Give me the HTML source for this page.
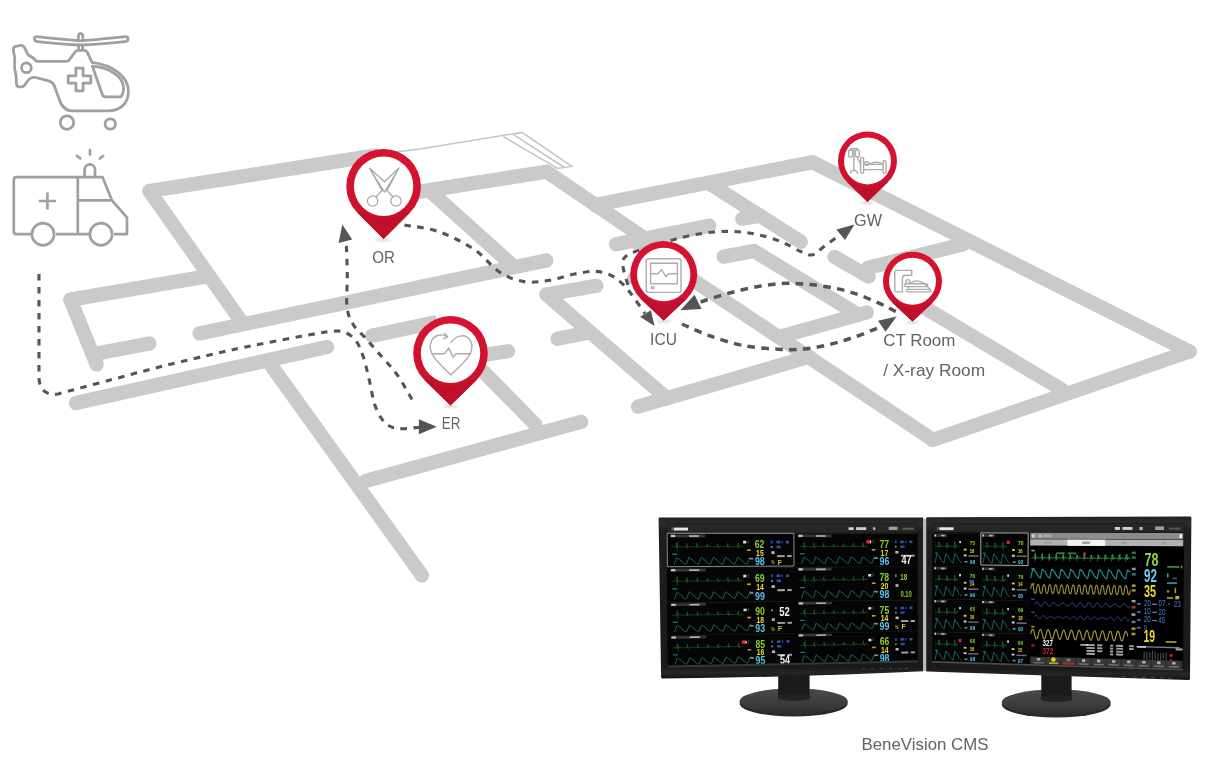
<!DOCTYPE html>
<html><head><meta charset="utf-8"><title>BeneVision CMS</title>
<style>
html,body{margin:0;padding:0;background:#fff;}
body{width:1206px;height:767px;overflow:hidden;font-family:"Liberation Sans",sans-serif;}
svg{display:block}
text{font-family:"Liberation Sans",sans-serif;}
</style></head><body>
<svg width="1206" height="767" viewBox="0 0 1206 767">
<defs>
<linearGradient id="pg" x1="0" y1="0" x2="0" y2="1"><stop offset="0" stop-color="#d61431"/><stop offset="1" stop-color="#cb102d"/></linearGradient>
<filter id="b1" x="-50%" y="-50%" width="200%" height="200%"><feGaussianBlur stdDeviation="1"/></filter>
<filter id="b05" x="-5%" y="-5%" width="110%" height="110%"><feGaussianBlur stdDeviation="0.45"/></filter>
<filter id="b03" x="-5%" y="-5%" width="110%" height="110%"><feGaussianBlur stdDeviation="0.3"/></filter>
<linearGradient id="bezg" x1="0" y1="0" x2="0" y2="1"><stop offset="0" stop-color="#222222"/><stop offset="0.04" stop-color="#2c2c2c"/><stop offset="0.09" stop-color="#1e1e1e"/><stop offset="0.93" stop-color="#1a1a1a"/><stop offset="0.965" stop-color="#262626"/><stop offset="1" stop-color="#121212"/></linearGradient>
<linearGradient id="baseg" x1="0" y1="0" x2="0" y2="1"><stop offset="0" stop-color="#4a4a4a"/><stop offset="0.6" stop-color="#3c3c3c"/><stop offset="1" stop-color="#2e2e2e"/></linearGradient>
</defs>
<rect width="{W}" height="{H}" fill="#fff"/>

<g id="walls">
<line x1="149.4" y1="191.0" x2="375.0" y2="155.5" stroke="#cacaca" stroke-width="14.3" stroke-linecap="round"/>
<line x1="149.4" y1="191.0" x2="241.4" y2="321.6" stroke="#cacaca" stroke-width="14.3" stroke-linecap="round"/>
<line x1="70.4" y1="299.6" x2="204.0" y2="276.9" stroke="#cacaca" stroke-width="14.3" stroke-linecap="round"/>
<line x1="70.4" y1="299.6" x2="96.7" y2="364.5" stroke="#cacaca" stroke-width="14.3" stroke-linecap="round"/>
<line x1="97.0" y1="353.5" x2="149.4" y2="343.4" stroke="#cacaca" stroke-width="14.3" stroke-linecap="round"/>
<line x1="199.5" y1="333.4" x2="546.3" y2="260.5" stroke="#cacaca" stroke-width="14.3" stroke-linecap="round"/>
<line x1="76.0" y1="403.1" x2="327.0" y2="347.1" stroke="#cacaca" stroke-width="14.3" stroke-linecap="round"/>
<line x1="268.7" y1="362.0" x2="421.9" y2="575.4" stroke="#cacaca" stroke-width="14.3" stroke-linecap="round"/>
<line x1="480.0" y1="355.5" x2="508.0" y2="351.2" stroke="#cacaca" stroke-width="14.3" stroke-linecap="round"/>
<line x1="467.0" y1="355.0" x2="535.1" y2="424.2" stroke="#cacaca" stroke-width="14.3" stroke-linecap="round"/>
<line x1="365.9" y1="480.8" x2="581.1" y2="421.9" stroke="#cacaca" stroke-width="14.3" stroke-linecap="round"/>
<line x1="415.0" y1="192.4" x2="546.3" y2="171.8" stroke="#cacaca" stroke-width="14.3" stroke-linecap="round"/>
<line x1="429.0" y1="190.3" x2="511.4" y2="264.4" stroke="#cacaca" stroke-width="14.3" stroke-linecap="round"/>
<line x1="546.5" y1="171.7" x2="645.0" y2="238.6" stroke="#cacaca" stroke-width="14.3" stroke-linecap="round"/>
<line x1="633.0" y1="240.0" x2="932.6" y2="439.6" stroke="#cacaca" stroke-width="14.3" stroke-linecap="round"/>
<line x1="594.9" y1="205.0" x2="812.4" y2="162.2" stroke="#cacaca" stroke-width="14.3" stroke-linecap="round"/>
<line x1="812.4" y1="162.2" x2="1189.6" y2="351.6" stroke="#cacaca" stroke-width="14.3" stroke-linecap="round"/>
<line x1="932.6" y1="440.0" x2="1189.6" y2="351.6" stroke="#cacaca" stroke-width="14.3" stroke-linecap="round"/>
<line x1="709.0" y1="183.3" x2="800.8" y2="241.8" stroke="#cacaca" stroke-width="14.3" stroke-linecap="round"/>
<line x1="742.3" y1="218.8" x2="760.0" y2="215.7" stroke="#cacaca" stroke-width="14.3" stroke-linecap="round"/>
<line x1="616.0" y1="244.3" x2="709.3" y2="225.7" stroke="#cacaca" stroke-width="14.3" stroke-linecap="round"/>
<polyline points="723.6,256.6 754.0,251.0 858.5,314.8" fill="none" stroke="#cacaca" stroke-width="14.3" stroke-linecap="round" stroke-linejoin="round"/>
<line x1="866.8" y1="312.4" x2="780.3" y2="336.6" stroke="#cacaca" stroke-width="14.3" stroke-linecap="round"/>
<line x1="834.5" y1="256.8" x2="868.5" y2="276.7" stroke="#cacaca" stroke-width="14.3" stroke-linecap="round"/>
<line x1="963.0" y1="244.4" x2="868.0" y2="267.8" stroke="#cacaca" stroke-width="14.3" stroke-linecap="round"/>
<line x1="900.0" y1="293.0" x2="1061.5" y2="389.4" stroke="#cacaca" stroke-width="14.3" stroke-linecap="round"/>
<line x1="546.5" y1="294.5" x2="596.5" y2="285.8" stroke="#cacaca" stroke-width="14.3" stroke-linecap="round"/>
<line x1="546.5" y1="294.5" x2="667.0" y2="398.4" stroke="#cacaca" stroke-width="14.3" stroke-linecap="round"/>
<line x1="557.5" y1="338.8" x2="590.0" y2="332.3" stroke="#cacaca" stroke-width="14.3" stroke-linecap="round"/>
<line x1="638.0" y1="406.7" x2="809.5" y2="356.7" stroke="#cacaca" stroke-width="14.3" stroke-linecap="round"/>
<line x1="372.0" y1="335.7" x2="437.0" y2="321.9" stroke="#cacaca" stroke-width="14.3" stroke-linecap="butt"/>
<circle cx="372" cy="335.7" r="7.15" fill="#cacaca"/>
<circle cx="634.3" cy="278" r="7" fill="#cacaca"/>
<g fill="none" stroke="#c4c4c4" stroke-width="1.5">
<path d="M375,154.6 L420,149 L522,132.4 L571.7,166.4 L557.6,168.5 L502.9,136.3"/>
<path d="M513.2,134.4 L564.4,167.5"/>
</g>
</g>
<g id="heli" fill="none" stroke="#a0a0a0" stroke-width="2.8" stroke-linecap="round" stroke-linejoin="round">
<path d="M80.6,40.8 C66,39.6 50,38.2 37.2,36.6 C33.5,36.2 33.5,41.2 37.2,41.6 C52,43.2 68,44.6 80.6,45 C94,44.6 110,43.2 125.2,41.6 C129,41.2 129,36.2 125.2,36.6 C112,38.2 95,39.6 80.6,40.8 Z"/>
<path d="M78.4,40.6 L78.4,35 Q80.6,32 82.8,35 L82.8,40.6"/>
<path d="M78.6,45.2 L78.6,49.6 M82.6,45.2 L82.6,49.6"/>
<path d="M36.5,61.3 L66.5,61.3 Q68.2,61.3 69.2,60 L75,52.2 Q76.4,50.4 78.6,50.4 L84,50.4 Q86.4,50.4 87.4,52.6 L92,62.4 C112,65 128.6,76 128.4,92 C128.2,104 120,110.8 108,110.8 L72,110.8 C64,110.8 60.6,104 58.8,98 L54.6,86.4 C53.4,83 51.6,81.6 48.6,80.8 L35.6,77.5 Q32.6,76.9 30.2,78.4 C28.4,79.6 27.4,81 25.6,83.8 Q23.8,86.9 21.8,86.9 L19.4,86.9 Q16.4,86.9 16.4,83.6 L16.2,78 C16,73 14.6,70 14.6,67 C14.6,63 15,60 14.6,57 C14.2,54 13.4,52 13.4,49.4 Q13.2,46.9 15.6,46.5 L20.6,45.4 Q23.2,45 24.4,47.4 L27.4,53.6 Q28,55 29.4,55.6 C32.6,57 34.6,59 36.5,61.3 Z"/>
<circle cx="26.4" cy="67.7" r="4.9"/>
<path d="M75.9,68.2 L83.1,68.2 L83.1,75.9 L90.8,75.9 L90.8,83.1 L83.1,83.1 L83.1,90.8 L75.9,90.8 L75.9,83.1 L68.2,83.1 L68.2,75.9 L75.9,75.9 Z"/>
<path d="M92.4,66.2 C108,67.4 121.6,75 123.4,86.2 C124,90.4 122.6,94.4 121,96.8 L105.6,96.8 Q103.2,96.8 102.2,94.2 Z"/>
<circle cx="67" cy="122.6" r="6.7"/><circle cx="110.3" cy="124" r="5.2"/>
</g>
<g id="amb" fill="none" stroke="#a0a0a0" stroke-width="2.7" stroke-linecap="butt" stroke-linejoin="round">
<path d="M31.6,234.2 L16.6,234.2 Q13.8,234.2 13.8,231.4 L13.8,180 Q13.8,177.1 16.6,177.1 L102.5,177.1 L111.9,200.3 L127,217.5 L127,234.2 L114,234.2"/>
<path d="M56,234.2 L89,234.2"/>
<path d="M77.8,177.1 L77.8,234.2"/>
<path d="M77.8,200.3 L111.9,200.3"/>
<circle cx="43" cy="234.2" r="11.1"/><circle cx="101" cy="234.2" r="11.1"/>
<path d="M38.8,201 L56,201 M47.4,192.4 L47.4,209.6"/>
<path d="M84.6,177.1 L84.6,169.6 A5.2,5.2 0 0 1 95,169.6 L95,177.1"/>
<path d="M90,150.2 L90,154.4 M76.8,155.8 L80.2,158.4 M99.8,158.4 L103.2,156" stroke-linecap="round"/>
</g>
<path d="M39,274 L39,377 Q39,396 58,394 C67.0,391.6 94.4,384.2 112.1,379.5 C129.8,374.8 146.9,370.2 164.3,365.8 C181.7,361.4 204.0,356.2 216.6,353.3 C229.2,350.4 231.7,349.8 240.0,348.1 C248.3,346.4 256.3,344.9 266.3,343.0 C276.3,341.1 291.1,338.2 300.0,336.5 C308.9,334.8 314.5,333.9 320.0,333.0 C325.5,332.1 328.7,331.3 332.8,331.2 C336.9,331.1 340.9,330.6 344.8,332.2 C348.7,333.8 352.9,336.8 356.0,340.9 C359.1,345.0 361.1,350.2 363.4,357.1 C365.7,364.0 367.8,374.1 369.7,382.0 C371.6,389.9 372.5,398.1 374.6,404.3 C376.7,410.5 379.4,415.6 382.1,419.3 C384.8,423.0 387.5,425.1 390.8,426.7 C394.1,428.3 397.1,428.6 402.0,428.7 C406.9,428.8 417.0,427.4 420.0,427.2" fill="none" stroke="#555555" stroke-width="3.1" stroke-dasharray="6.5 6.5" stroke-dashoffset="0"/>
<polygon points="436.8,426.7 418.9,419.3 418.9,434.2" fill="#555555"/>
<path d="M412.0,399.4 C409.5,395.2 402.0,381.6 397.0,374.5 C392.0,367.4 387.5,363.3 382.1,357.1 C376.7,350.9 369.5,342.6 364.7,337.2 C359.9,331.8 356.4,330.0 353.5,325.0 C350.6,320.0 348.0,315.6 347.0,307.3 C346.0,299.0 347.4,285.7 347.3,275.0 C347.2,264.3 346.5,248.3 346.3,243.0" fill="none" stroke="#555555" stroke-width="3.1" stroke-dasharray="6.5 6.5" stroke-dashoffset="0"/>
<polygon points="342.3,224.4 338.6,243.1 352.2,239.4" fill="#555555"/>
<path d="M404.5,224.9 C410.3,226.1 427.7,227.8 439.3,231.9 C450.9,236.0 464.2,242.7 474.1,249.3 C484.1,255.9 490.7,266.3 499.0,271.7 C507.3,277.1 515.6,280.2 523.9,281.6 C532.2,283.1 540.5,281.6 548.8,280.4 C557.1,279.2 565.9,275.7 573.6,274.2 C581.3,272.7 588.9,271.2 594.9,271.3 C600.9,271.4 605.6,273.1 609.8,274.8 C613.9,276.5 616.5,278.4 619.8,281.3 C623.1,284.2 625.5,286.6 629.7,292.0 C633.9,297.4 642.5,309.9 645.0,313.5" fill="none" stroke="#555555" stroke-width="3.1" stroke-dasharray="6.5 6.5" stroke-dashoffset="0"/>
<polygon points="654.5,326.0 640.1,316.8 650.9,310.3" fill="#555555"/>
<path d="M628.0,285.0 C627.2,282.4 624.3,273.8 623.5,269.5 C622.7,265.2 621.3,262.2 623.2,259.3 C625.1,256.4 626.2,255.1 634.7,251.8 C643.2,248.5 662.9,242.5 674.5,239.4 C686.1,236.3 694.8,234.4 704.3,233.1 C713.8,231.8 723.0,231.2 731.7,231.4 C740.4,231.6 748.3,232.7 756.6,234.4 C764.9,236.1 774.0,238.9 781.4,241.8 C788.8,244.7 796.1,249.6 801.3,251.8 C806.5,254.0 808.8,255.6 812.5,254.8 C816.2,254.0 819.1,250.2 823.7,246.8 C828.3,243.4 837.3,236.6 840.0,234.5" fill="none" stroke="#555555" stroke-width="3.1" stroke-dasharray="6.5 6.5" stroke-dashoffset="0"/>
<polygon points="854.5,224.6 836.4,229.6 845.0,239.9" fill="#555555"/>
<path d="M895.7,311.6 C893.0,310.2 886.4,306.4 879.5,303.4 C872.6,300.4 862.9,296.1 854.6,293.4 C846.3,290.7 838.1,288.7 829.8,287.2 C821.5,285.7 813.0,284.8 804.9,284.2 C796.8,283.6 789.4,283.1 781.4,283.5 C773.4,283.9 764.9,285.3 756.6,286.8 C748.3,288.3 739.6,290.5 731.7,292.5 C723.8,294.5 715.1,297.2 709.3,299.0 C703.5,300.8 699.0,302.8 697.0,303.5" fill="none" stroke="#555555" stroke-width="3.5" stroke-dasharray="7.6 6.3" stroke-dashoffset="0"/>
<polygon points="680.4,310.2 694.5,294.8 701.6,309.0" fill="#555555"/>
<path d="M681.9,324.0 C686.5,325.9 698.9,332.1 709.3,335.7 C719.7,339.3 732.1,343.4 744.1,345.7 C756.1,348.0 771.3,348.9 781.4,349.4 C791.5,349.9 796.8,349.7 804.9,348.9 C813.0,348.1 821.5,346.4 829.8,344.4 C838.1,342.4 845.9,340.0 854.6,337.0 C863.3,334.0 877.4,328.2 882.0,326.5" fill="none" stroke="#555555" stroke-width="3.5" stroke-dasharray="7.6 6.3" stroke-dashoffset="0"/>
<polygon points="896.6,316.5 878.0,320.7 885.6,331.8" fill="#555555"/>
<ellipse cx="383.6" cy="239.8" rx="8.2" ry="1.6" fill="#999" opacity="0.35" filter="url(#b1)"/>
<path d="M383.6,239.0 L410.0,212.6 A37.3,37.3 0 1 0 357.2,212.6 Z" fill="url(#pg)"/>
<path d="M383.6,239.0 L410.0,212.6 L357.2,212.6 Z" fill="#bf0f2a"/>
<circle cx="383.6" cy="186.2" r="32.9" fill="url(#pg)"/>
<circle cx="383.6" cy="186.2" r="29.7" fill="#fff"/>
<g fill="none" stroke="#a6a6a6" stroke-width="1.2" stroke-linejoin="round">
<circle cx="372.6" cy="201" r="5.2"/><circle cx="396" cy="201" r="5.2"/>
<path d="M369.4,168 L384.5,181.8 L399,168 L387,190.4 L393,197 M399,168 L384.5,192.4 M369.4,168 L382,190.4 L376,197 M369.4,168 L384.5,192.4"/>
</g>
<ellipse cx="450.5" cy="406.3" rx="8.2" ry="1.6" fill="#999" opacity="0.35" filter="url(#b1)"/>
<path d="M450.5,405.5 L476.6,380.0 A37.3,37.3 0 1 0 424.4,380.0 Z" fill="url(#pg)"/>
<path d="M450.5,405.5 L476.6,380.0 L424.4,380.0 Z" fill="#bf0f2a"/>
<circle cx="450.5" cy="353.3" r="32.9" fill="url(#pg)"/>
<circle cx="450.5" cy="353.3" r="29.7" fill="#fff"/>
<g fill="none" stroke="#acacac" stroke-width="1.4" stroke-linejoin="round" stroke-linecap="round">
<path d="M447,336.6 C443,333.6 434.6,334.6 431.6,340.6 C429,346 430.4,352.6 435,358.4 C439.6,364.6 446.6,370.4 450.9,374.9 C455.2,370.4 462.6,364.6 467,358.4 C471.6,352.6 473.4,346 470.4,340.6 C467,334.4 457,333.4 450.9,342.6"/>
<path d="M444.6,333.6 L447.6,336.8 L443.6,338.6"/>
<path d="M432.4,353.8 L444.4,353.8 L448.8,348 L453.1,357.4 L456,353.8 L470.6,353.8"/>
</g>
<ellipse cx="663.7" cy="321.2" rx="7.4" ry="1.6" fill="#999" opacity="0.35" filter="url(#b1)"/>
<path d="M663.7,320.4 L686.6,298.9 A33.5,33.5 0 1 0 640.8,298.9 Z" fill="url(#pg)"/>
<path d="M663.7,320.4 L686.6,298.9 L640.8,298.9 Z" fill="#bf0f2a"/>
<circle cx="663.7" cy="274.5" r="29.5" fill="url(#pg)"/>
<circle cx="663.7" cy="274.5" r="26.7" fill="#fff"/>
<g fill="none" stroke="#acacac" stroke-width="1.4" stroke-linejoin="round">
<rect x="646.3" y="258.7" width="34.7" height="33.7" rx="2"/>
<rect x="650.6" y="263.3" width="26.8" height="20.5"/>
<path d="M650.6,273.8 L658,273.8 L661.6,269.5 L665.9,276.6 L668.8,273.8 L677.4,273.8"/>
<ellipse cx="652.6" cy="287.6" rx="1.6" ry="1"/>
</g>
<ellipse cx="867.5" cy="202.8" rx="6.5" ry="1.6" fill="#999" opacity="0.35" filter="url(#b1)"/>
<path d="M867.5,202.0 L888.0,182.1 A29.5,29.5 0 1 0 847.0,182.1 Z" fill="url(#pg)"/>
<path d="M867.5,202.0 L888.0,182.1 L847.0,182.1 Z" fill="#bf0f2a"/>
<circle cx="867.5" cy="160.9" r="26.0" fill="url(#pg)"/>
<circle cx="867.5" cy="160.9" r="23.5" fill="#fff"/>
<g fill="none" stroke="#acacac" stroke-width="1.4" stroke-linejoin="round" stroke-linecap="round">
<path d="M853.9,148.6 L853.9,170.4 M850.2,173.4 Q850.6,170.6 853.9,170.4 Q857.2,170.6 857.6,173.4"/>
<rect x="848.6" y="150" width="4" height="7" rx="1.6"/><rect x="855.4" y="150" width="4" height="7" rx="1.6"/>
<path d="M850.6,150 L850.6,148.6 L857.4,148.6 L857.4,150"/>
<path d="M857.4,157 C858,162 860,160 860.6,165"/>
<rect x="860.6" y="157.4" width="3" height="16" rx="1.4"/>
<rect x="883" y="160.8" width="3" height="12.6" rx="1.4"/>
<path d="M863.6,164.4 L883,164.4 M863.6,169.6 L883,169.6"/>
<rect x="864.6" y="162" width="4.6" height="3.2" rx="1.4"/>
<path d="M869.6,164.2 C873,161.6 879,161.8 882.8,163.8"/>
</g>
<ellipse cx="912.5" cy="322.3" rx="6.5" ry="1.6" fill="#999" opacity="0.35" filter="url(#b1)"/>
<path d="M912.5,321.5 L932.6,302.8 A29.5,29.5 0 1 0 892.4,302.8 Z" fill="url(#pg)"/>
<path d="M912.5,321.5 L932.6,302.8 L892.4,302.8 Z" fill="#bf0f2a"/>
<circle cx="912.5" cy="281.2" r="26.0" fill="url(#pg)"/>
<circle cx="912.5" cy="281.2" r="23.5" fill="#fff"/>
<g fill="none" stroke="#acacac" stroke-width="1.4" stroke-linejoin="round" stroke-linecap="round">
<path d="M896.4,270.4 L911.7,270.4 L911.7,275.2 L905.6,275.2 Q902.4,275.4 902.4,278.4 L902.4,291.9 L896.4,291.9 Q894.8,291.9 894.8,290.3 L894.8,272 Q894.8,270.4 896.4,270.4 Z"/>
<circle cx="907.8" cy="281.6" r="2"/>
<path d="M910,283.4 C914,279.6 922,280 927.4,286.6"/>
<rect x="904.6" y="283.8" width="23" height="2.8" rx="1.4"/>
<path d="M908.4,286.8 L908.4,289.4 M927.4,286.8 L930.4,289.4"/>
<rect x="906.6" y="289.4" width="24" height="2.5" rx="1.2"/>
</g>
<g opacity="0.999">
<text x="372.3" y="263.0" font-size="16" fill="#636363" text-anchor="start" font-weight="normal" textLength="22.6" lengthAdjust="spacingAndGlyphs">OR</text>
<text x="441.8" y="429.4" font-size="16" fill="#636363" text-anchor="start" font-weight="normal" textLength="18.6" lengthAdjust="spacingAndGlyphs">ER</text>
<text x="650.1" y="345.0" font-size="16" fill="#636363" text-anchor="start" font-weight="normal" textLength="26.9" lengthAdjust="spacingAndGlyphs">ICU</text>
<text x="854.1" y="225.7" font-size="16" fill="#636363" text-anchor="start" font-weight="normal" textLength="27.9" lengthAdjust="spacingAndGlyphs">GW</text>
<text x="883.2" y="345.7" font-size="16" fill="#636363" text-anchor="start" font-weight="normal" textLength="72.2" lengthAdjust="spacingAndGlyphs">CT Room</text>
<text x="883.2" y="375.5" font-size="16" fill="#636363" text-anchor="start" font-weight="normal" textLength="102" lengthAdjust="spacingAndGlyphs">/ X-ray Room</text>
<text x="861.5" y="749.8" font-size="17" fill="#636363" text-anchor="start" font-weight="normal" textLength="127" lengthAdjust="spacingAndGlyphs">BeneVision CMS</text>
</g>
<g id="monL">
<ellipse cx="793.7" cy="703.4" rx="54" ry="13.2" fill="#2a2a2a"/>
<ellipse cx="793.7" cy="701.2" rx="54" ry="12.8" fill="url(#baseg)"/>
<path d="M778.2,672 L809.6,672 L809.6,697 Q794,701 778.2,697 Z" fill="#1b1b1b"/>
<ellipse cx="793.9" cy="697.4" rx="16.4" ry="3.6" fill="#222"/>
<path d="M658.6,518.4 Q658.6,517.4 659.6,517.4 L923.2,517.4 L923.2,671.3 Q800,677.2 662.6,678.5 Q661.2,678.5 661.1,677.2 Z" fill="url(#bezg)"/>
<polygon points="666.6,523.6 917.6,523.6 917.8,662.4 667.6,667.8" fill="#050505" />
<polygon points="666.6,523.6 917.6,523.6 917.6,532.8 666.7,533.1" fill="#262626" />
<g filter="url(#b05)">
<polygon points="673.7,527.6 688.0,527.6 688.0,530.5 673.7,530.5" fill="#f0f0f0" opacity="0.95"/>
<polygon points="671.6,527.6 672.7,527.6 672.7,530.5 671.7,530.5" fill="#888" opacity="0.9"/>
<polygon points="848.6,527.2 853.6,527.2 853.6,530.0 848.6,530.1" fill="#e8e8e8" opacity="0.9"/>
<polygon points="856.1,527.2 866.2,527.2 866.2,530.0 856.1,530.0" fill="#e0e0e0" opacity="0.9"/>
<polygon points="872.9,527.2 875.4,527.2 875.4,530.0 872.9,530.0" fill="#d0d0d0" opacity="0.8"/>
<polygon points="888.7,526.7 897.5,526.7 897.5,530.0 888.7,530.0" fill="#bdbdbd" opacity="0.8"/>
<polygon points="902.5,527.8 913.8,527.8 913.8,529.7 902.6,529.7" fill="#5a6a50" opacity="0.9"/>
<polygon points="667.6,533.5 793.4,533.5 793.4,533.9 667.6,533.9" fill="#3a3a3a" opacity="0.8"/>
<polygon points="670.1,534.5 705.3,534.5 705.4,537.4 670.2,537.4" fill="#3c3c3c" opacity="0.9"/>
<polygon points="670.8,534.9 675.2,534.9 675.2,537.0 670.8,537.0" fill="#d8d8d8" opacity="0.9"/>
<polygon points="689.0,535.2 699.1,535.2 699.1,536.9 689.0,536.9" fill="#cfcfcf" opacity="0.8"/>
<polyline points="671.5,546.9 671.8,546.9 672.0,546.9 672.3,546.9 672.6,546.9 672.9,546.9 673.2,546.9 673.5,546.9 673.7,546.9 674.0,546.9 674.3,546.5 674.6,546.4 674.9,546.6 675.2,546.9 675.4,546.9 675.7,546.9 676.0,546.9 676.3,545.2 676.5,543.0 676.9,545.6 677.2,548.1 677.4,546.9 677.7,546.9 678.0,546.9 678.3,546.9 678.6,546.9 678.8,546.5 679.1,546.0 679.4,545.9 679.7,546.0 680.0,546.5 680.3,546.9 680.5,546.9 680.8,546.9 681.1,546.9 681.4,546.9 681.7,546.9 682.0,546.9 682.2,546.9 682.5,546.9 682.8,546.9 683.1,546.9 683.4,546.9 683.7,546.9 683.9,546.9 684.2,546.9 684.5,546.5 684.8,546.4 685.1,546.6 685.4,546.9 685.6,546.9 685.9,546.9 686.2,546.9 686.5,545.5 686.7,543.3 687.0,545.2 687.3,548.2 687.6,547.0 687.9,546.8 688.2,546.8 688.5,546.8 688.8,546.8 689.0,546.5 689.3,546.1 689.6,545.9 689.9,546.0 690.2,546.4 690.5,546.8 690.7,546.8 691.0,546.8 691.3,546.8 691.6,546.8 691.9,546.8 692.2,546.8 692.4,546.8 692.7,546.8 693.0,546.8 693.3,546.8 693.6,546.8 693.9,546.8 694.1,546.8 694.4,546.8 694.7,546.6 695.0,546.4 695.3,546.5 695.6,546.8 695.8,546.8 696.1,546.8 696.4,546.8 696.7,545.8 696.9,543.6 697.2,544.8 697.5,547.7 697.8,547.1 698.1,546.8 698.4,546.8 698.7,546.8 699.0,546.8 699.2,546.6 699.5,546.1 699.8,545.8 700.1,545.9 700.4,546.3 700.6,546.8 700.9,546.8 701.2,546.8 701.5,546.8 701.8,546.8 702.1,546.8 702.3,546.8 702.6,546.8 702.9,546.8 703.2,546.8 703.5,546.8 703.8,546.8 704.0,546.8 704.3,546.8 704.6,546.8 704.9,546.6 705.2,546.3 705.5,546.4 705.7,546.8 706.0,546.8 706.3,546.8 706.6,546.8 706.9,546.1 707.1,543.9 707.4,544.3 707.7,547.3 708.0,547.3 708.3,546.8 708.6,546.8 708.9,546.8 709.1,546.8 709.4,546.6 709.7,546.1 710.0,545.8 710.3,545.9 710.6,546.2 710.8,546.7 711.1,546.8 711.4,546.8 711.7,546.8 712.0,546.8 712.3,546.8 712.5,546.8 712.8,546.8 713.1,546.8 713.4,546.8 713.7,546.8 714.0,546.8 714.2,546.8 714.5,546.8 714.8,546.8 715.1,546.6 715.4,546.3 715.7,546.4 715.9,546.7 716.2,546.8 716.5,546.8 716.8,546.8 717.1,546.4 717.3,544.2 717.6,543.9 717.9,546.8 718.2,547.5 718.5,546.8 718.8,546.8 719.1,546.8 719.3,546.8 719.6,546.7 719.9,546.2 720.2,545.8 720.5,545.8 720.8,546.1 721.0,546.6 721.3,546.8 721.6,546.8 721.9,546.8 722.2,546.8 722.5,546.8 722.7,546.8 723.0,546.8 723.3,546.8 723.6,546.8 723.9,546.8 724.2,546.8 724.4,546.8 724.7,546.8 725.0,546.8 725.3,546.7 725.6,546.3 725.9,546.3 726.1,546.6 726.4,546.8 726.7,546.8 727.0,546.8 727.3,546.7 727.5,544.5 727.8,543.4 728.1,546.4 728.4,547.6 728.7,546.8 729.0,546.8 729.3,546.8 729.5,546.8 729.8,546.8 730.1,546.2 730.4,545.8 730.7,545.8 730.9,546.0 731.2,546.5 731.5,546.8 731.8,546.8 732.1,546.8 732.4,546.8 732.7,546.8 732.9,546.7 733.2,546.7 733.5,546.7 733.8,546.7 734.1,546.7 734.4,546.7 734.6,546.7 734.9,546.7 735.2,546.7 735.5,546.7 735.8,546.4 736.0,546.3 736.3,546.5 736.6,546.7 736.9,546.7 737.2,546.7 737.5,546.7 737.7,544.8 738.0,543.0 738.3,545.9 738.6,547.8 738.9,546.7 739.2,546.7 739.5,546.7 739.7,546.7 740.0,546.7 740.3,546.3 740.6,545.9 740.9,545.7 741.1,545.9 741.4,546.4 741.7,546.7 742.0,546.7 742.3,546.7 742.6,546.7 742.8,546.7 743.1,546.7" fill="none" stroke="#236e33" stroke-width="0.8" opacity="0.85"/>
<polygon points="677.1,541.5 677.7,541.5 677.8,550.9 677.2,550.9" fill="#236e33" opacity="0.7"/>
<polyline points="674.1,564.6 674.9,562.4 675.7,560.3 676.4,558.1 677.2,557.7 678.0,558.4 678.8,559.1 679.6,559.3 680.3,559.8 681.1,561.1 681.9,561.9 682.7,562.5 683.5,563.0 684.3,563.5 685.1,564.0 685.9,564.4 686.6,563.5 687.4,561.4 688.2,559.3 688.9,557.2 689.7,558.0 690.5,558.7 691.3,559.3 692.1,559.3 692.9,560.3 693.7,561.4 694.4,562.1 695.2,562.7 696.0,563.2 696.8,563.7 697.6,564.1 698.4,564.4 699.1,562.5 699.9,560.4 700.7,558.3 701.5,557.5 702.2,558.2 703.0,558.9 703.8,559.2 704.6,559.6 705.4,560.9 706.2,561.7 707.0,562.3 707.7,562.9 708.5,563.4 709.3,563.8 710.1,564.2 710.9,563.7 711.6,561.5 712.4,559.4 713.2,557.3 714.0,557.8 714.8,558.5 715.5,559.1 716.3,559.2 717.1,560.1 717.9,561.2 718.7,561.9 719.5,562.5 720.3,563.0 721.0,563.5 721.8,564.0 722.6,564.3 723.4,562.7 724.2,560.5 724.9,558.4 725.7,557.3 726.5,558.1 727.3,558.8 728.1,559.1 728.8,559.3 729.6,560.6 730.4,561.5 731.2,562.1 732.0,562.7 732.8,563.2 733.6,563.7 734.3,564.1 735.1,563.8 735.9,561.7 736.7,559.5 737.4,557.4 738.2,557.6 739.0,558.3 739.8,559.0 740.6,559.1 741.4,559.8 742.1,561.0 742.9,561.7 743.7,562.3 744.5,562.9 745.3,563.4 746.1,563.8 746.9,564.1 747.6,562.8 748.4,560.7 749.2,558.5 750.0,557.1 750.7,557.9" fill="none" stroke="#1f7d77" stroke-width="0.9" opacity="0.9" stroke-linejoin="round"/>
<polygon points="672.2,553.6 677.2,553.5 677.2,554.9 672.2,554.9" fill="#1f7d77" opacity="0.9"/>
<polygon points="743.1,540.8 746.2,540.8 746.3,543.4 743.1,543.4" fill="#e8e8e8" opacity="0.95"/>
<polygon points="747.5,540.1 748.8,540.1 748.8,543.4 747.5,543.4" fill="#236e33" opacity="0.7"/>
<polygon points="746.9,549.4 750.7,549.3 750.7,551.0 746.9,551.0" fill="#e6c84a" opacity="0.8"/>
<polygon points="749.5,557.9 753.3,557.9 753.3,559.5 749.5,559.6" fill="#9fd8e0" opacity="0.7"/>
<text x="754.8" y="547.9" font-size="10.5" font-weight="bold" fill="#86cf2e" text-anchor="start" opacity="1" textLength="9.6" lengthAdjust="spacingAndGlyphs">62</text>
<text x="756.1" y="556.1" font-size="9.4" font-weight="bold" fill="#efd92f" text-anchor="start" opacity="1" textLength="7.6" lengthAdjust="spacingAndGlyphs">15</text>
<text x="754.9" y="565.3" font-size="10.5" font-weight="bold" fill="#55c4ea" text-anchor="start" opacity="1" textLength="9.8" lengthAdjust="spacingAndGlyphs">98</text>
<polygon points="770.8,540.8 772.6,540.8 772.7,543.4 770.8,543.4" fill="#355fc4" opacity="0.85"/>
<polygon points="776.4,540.7 780.2,540.7 780.2,543.4 776.4,543.4" fill="#355fc4" opacity="0.85"/>
<polygon points="781.4,540.7 782.7,540.7 782.7,543.4 781.5,543.4" fill="#355fc4" opacity="0.85"/>
<polygon points="785.8,540.7 789.0,540.7 789.0,543.4 785.9,543.4" fill="#355fc4" opacity="0.85"/>
<polygon points="770.8,546.0 772.7,546.0 772.7,548.0 770.8,548.0" fill="#9ab0e0" opacity="0.7"/>
<polygon points="776.4,545.7 780.8,545.7 780.9,548.3 776.5,548.3" fill="#355fc4" opacity="0.8"/>
<polygon points="771.4,551.3 774.6,551.3 774.6,553.9 771.5,553.9" fill="#dddddd" opacity="0.85"/>
<polygon points="777.1,555.2 784.7,555.2 784.7,557.1 777.1,557.1" fill="#cfcfcf" opacity="0.8"/>
<polygon points="787.2,555.1 791.6,555.1 791.6,557.1 787.2,557.1" fill="#cfcfcf" opacity="0.8"/>
<text x="770.9" y="564.1" font-size="6" font-weight="bold" fill="#b8a82a" text-anchor="start" opacity="1" textLength="3.5" lengthAdjust="spacingAndGlyphs">%</text>
<text x="777.8" y="564.7" font-size="8" font-weight="bold" fill="#d8c83a" text-anchor="start" opacity="1" textLength="4.0" lengthAdjust="spacingAndGlyphs">F</text>
<polygon points="795.4,533.5 916.6,533.5 916.6,533.9 795.4,533.9" fill="#3a3a3a" opacity="0.8"/>
<polygon points="797.8,534.5 831.7,534.5 831.7,537.3 797.8,537.3" fill="#3c3c3c" opacity="0.9"/>
<polygon points="798.4,534.8 802.6,534.8 802.7,537.0 798.4,537.0" fill="#d8d8d8" opacity="0.9"/>
<polygon points="816.0,535.2 825.7,535.2 825.7,536.8 816.0,536.8" fill="#cfcfcf" opacity="0.8"/>
<polyline points="799.1,546.6 799.3,546.6 799.6,546.6 799.9,546.6 800.2,546.6 800.4,546.6 800.7,546.6 801.0,546.6 801.2,546.6 801.5,546.6 801.8,546.2 802.1,546.1 802.3,546.3 802.6,546.6 802.9,546.6 803.2,546.6 803.4,546.6 803.7,545.0 804.0,542.8 804.2,545.4 804.5,547.8 804.8,546.6 805.1,546.6 805.3,546.6 805.6,546.6 805.9,546.6 806.2,546.2 806.4,545.8 806.7,545.6 807.0,545.8 807.2,546.2 807.5,546.6 807.8,546.6 808.1,546.6 808.3,546.6 808.6,546.6 808.9,546.6 809.2,546.6 809.4,546.6 809.7,546.6 810.0,546.6 810.3,546.6 810.5,546.6 810.8,546.6 811.1,546.6 811.3,546.6 811.6,546.3 811.9,546.1 812.2,546.3 812.4,546.6 812.7,546.6 813.0,546.6 813.3,546.6 813.5,545.3 813.8,543.1 814.1,545.0 814.4,547.9 814.6,546.7 814.9,546.6 815.2,546.6 815.4,546.6 815.7,546.6 816.0,546.3 816.3,545.8 816.5,545.6 816.8,545.7 817.1,546.1 817.4,546.6 817.6,546.6 817.9,546.6 818.2,546.6 818.4,546.6 818.7,546.6 819.0,546.6 819.3,546.6 819.5,546.6 819.8,546.6 820.1,546.6 820.4,546.6 820.6,546.6 820.9,546.6 821.2,546.6 821.4,546.3 821.7,546.1 822.0,546.2 822.3,546.6 822.5,546.6 822.8,546.5 823.1,546.5 823.4,545.6 823.6,543.4 823.9,544.5 824.2,547.4 824.5,546.9 824.7,546.5 825.0,546.5 825.3,546.5 825.5,546.5 825.8,546.3 826.1,545.8 826.4,545.6 826.6,545.6 826.9,546.0 827.2,546.5 827.5,546.5 827.7,546.5 828.0,546.5 828.3,546.5 828.5,546.5 828.8,546.5 829.1,546.5 829.4,546.5 829.6,546.5 829.9,546.5 830.2,546.5 830.5,546.5 830.7,546.5 831.0,546.5 831.3,546.3 831.6,546.1 831.8,546.2 832.1,546.5 832.4,546.5 832.6,546.5 832.9,546.5 833.2,545.9 833.5,543.7 833.7,544.1 834.0,547.0 834.3,547.0 834.6,546.5 834.8,546.5 835.1,546.5 835.4,546.5 835.6,546.4 835.9,545.9 836.2,545.6 836.5,545.6 836.7,545.9 837.0,546.4 837.3,546.5 837.6,546.5 837.8,546.5 838.1,546.5 838.4,546.5 838.7,546.5 838.9,546.5 839.2,546.5 839.5,546.5 839.7,546.5 840.0,546.5 840.3,546.5 840.6,546.5 840.8,546.5 841.1,546.4 841.4,546.1 841.7,546.1 841.9,546.4 842.2,546.5 842.5,546.5 842.7,546.5 843.0,546.2 843.3,544.0 843.6,543.6 843.8,546.6 844.1,547.2 844.4,546.5 844.7,546.5 844.9,546.5 845.2,546.5 845.5,546.4 845.7,545.9 846.0,545.6 846.3,545.6 846.6,545.8 846.8,546.3 847.1,546.5 847.4,546.5 847.7,546.5 847.9,546.5 848.2,546.5 848.5,546.5 848.8,546.5 849.0,546.5 849.3,546.5 849.6,546.5 849.8,546.5 850.1,546.5 850.4,546.5 850.7,546.5 850.9,546.4 851.2,546.1 851.5,546.1 851.8,546.3 852.0,546.5 852.3,546.5 852.6,546.5 852.8,546.4 853.1,544.3 853.4,543.2 853.7,546.1 853.9,547.3 854.2,546.5 854.5,546.5 854.8,546.5 855.0,546.5 855.3,546.5 855.6,546.0 855.9,545.6 856.1,545.5 856.4,545.8 856.7,546.2 856.9,546.5 857.2,546.5 857.5,546.5 857.8,546.5 858.0,546.5 858.3,546.5 858.6,546.5 858.9,546.5 859.1,546.5 859.4,546.5 859.7,546.5 859.9,546.5 860.2,546.5 860.5,546.5 860.8,546.4 861.0,546.1 861.3,546.0 861.6,546.3 861.9,546.5 862.1,546.5 862.4,546.5 862.7,546.5 862.9,544.6 863.2,542.8 863.5,545.7 863.8,547.5 864.0,546.5 864.3,546.5 864.6,546.5 864.9,546.5 865.1,546.5 865.4,546.0 865.7,545.6 866.0,545.5 866.2,545.7 866.5,546.1 866.8,546.5 867.0,546.5 867.3,546.5 867.6,546.4 867.9,546.4 868.1,546.4" fill="none" stroke="#236e33" stroke-width="0.8" opacity="0.85"/>
<polygon points="804.5,541.4 805.1,541.4 805.1,550.5 804.5,550.5" fill="#236e33" opacity="0.7"/>
<polyline points="801.6,563.9 802.3,561.8 803.0,559.7 803.8,557.6 804.5,557.2 805.3,557.9 806.1,558.6 806.8,558.8 807.6,559.2 808.3,560.5 809.1,561.3 809.8,561.9 810.6,562.4 811.4,562.9 812.1,563.4 812.9,563.7 813.6,562.9 814.4,560.8 815.1,558.7 815.9,556.7 816.6,557.4 817.4,558.2 818.1,558.7 818.9,558.8 819.6,559.8 820.4,560.9 821.2,561.5 821.9,562.1 822.7,562.6 823.4,563.1 824.2,563.5 824.9,563.8 825.7,561.9 826.4,559.8 827.2,557.7 827.9,557.0 828.7,557.7 829.4,558.4 830.2,558.7 830.9,559.0 831.7,560.3 832.5,561.1 833.2,561.7 834.0,562.2 834.7,562.8 835.5,563.2 836.2,563.6 837.0,563.0 837.7,560.9 838.5,558.9 839.2,556.8 840.0,557.3 840.7,558.0 841.5,558.6 842.3,558.6 843.0,559.5 843.8,560.7 844.5,561.3 845.3,561.9 846.0,562.4 846.8,562.9 847.6,563.3 848.3,563.6 849.1,562.1 849.8,560.0 850.6,557.9 851.3,556.8 852.1,557.5 852.8,558.3 853.6,558.6 854.3,558.8 855.1,560.1 855.8,560.9 856.6,561.5 857.4,562.1 858.1,562.6 858.9,563.0 859.6,563.4 860.4,563.2 861.1,561.1 861.9,559.0 862.6,556.9 863.4,557.1 864.1,557.8 864.9,558.4 865.6,558.5 866.4,559.3 867.2,560.5 867.9,561.1 868.7,561.7 869.4,562.2 870.2,562.7 870.9,563.2 871.7,563.5 872.4,562.2 873.2,560.1 873.9,558.0 874.7,556.6 875.4,557.4" fill="none" stroke="#1f7d77" stroke-width="0.9" opacity="0.9" stroke-linejoin="round"/>
<polygon points="799.7,553.1 804.5,553.1 804.5,554.4 799.7,554.4" fill="#1f7d77" opacity="0.9"/>
<polygon points="868.1,540.6 871.2,540.6 871.2,543.2 868.1,543.2" fill="#e8e8e8" opacity="0.95"/>
<polygon points="866.3,540.0 869.9,540.0 869.9,543.5 866.3,543.5" fill="#e02030" opacity="1"/>
<polygon points="872.4,540.0 873.6,540.0 873.6,543.2 872.4,543.2" fill="#236e33" opacity="0.7"/>
<polygon points="871.8,549.0 875.4,549.0 875.4,550.6 871.8,550.6" fill="#e6c84a" opacity="0.8"/>
<polygon points="874.2,557.4 877.9,557.4 877.9,559.0 874.2,559.0" fill="#9fd8e0" opacity="0.7"/>
<text x="879.4" y="547.6" font-size="10.5" font-weight="bold" fill="#86cf2e" text-anchor="start" opacity="1" textLength="9.6" lengthAdjust="spacingAndGlyphs">77</text>
<text x="880.6" y="555.6" font-size="9.4" font-weight="bold" fill="#efd92f" text-anchor="start" opacity="1" textLength="7.6" lengthAdjust="spacingAndGlyphs">17</text>
<text x="879.5" y="564.7" font-size="10.5" font-weight="bold" fill="#55c4ea" text-anchor="start" opacity="1" textLength="9.8" lengthAdjust="spacingAndGlyphs">96</text>
<polygon points="894.8,540.6 896.6,540.6 896.6,543.2 894.8,543.2" fill="#355fc4" opacity="0.85"/>
<polygon points="900.2,540.6 903.9,540.6 903.9,543.2 900.2,543.2" fill="#355fc4" opacity="0.85"/>
<polygon points="905.1,540.6 906.3,540.6 906.3,543.2 905.1,543.2" fill="#355fc4" opacity="0.85"/>
<polygon points="909.3,540.6 912.4,540.6 912.4,543.1 909.3,543.1" fill="#355fc4" opacity="0.85"/>
<polygon points="894.8,545.7 896.6,545.7 896.6,547.7 894.8,547.7" fill="#9ab0e0" opacity="0.7"/>
<polygon points="900.3,545.4 904.5,545.4 904.5,548.0 900.3,548.0" fill="#355fc4" opacity="0.8"/>
<polygon points="895.4,550.9 898.4,550.9 898.5,553.5 895.4,553.5" fill="#dddddd" opacity="0.85"/>
<polygon points="900.9,554.7 908.1,554.7 908.2,556.6 900.9,556.7" fill="#cfcfcf" opacity="0.8"/>
<polygon points="910.6,554.7 914.8,554.7 914.8,556.6 910.6,556.6" fill="#cfcfcf" opacity="0.8"/>
<text x="901.5" y="564.1" font-size="12" font-weight="bold" fill="#f2f2f2" text-anchor="start" opacity="1" textLength="10.0" lengthAdjust="spacingAndGlyphs">47</text>
<polygon points="667.9,567.7 793.5,567.0 793.5,567.4 667.9,568.1" fill="#3a3a3a" opacity="0.8"/>
<polygon points="670.4,568.7 705.6,568.5 705.6,571.4 670.4,571.6" fill="#3c3c3c" opacity="0.9"/>
<polygon points="671.0,569.1 675.4,569.1 675.4,571.3 671.0,571.3" fill="#d8d8d8" opacity="0.9"/>
<polygon points="689.2,569.3 699.3,569.3 699.3,571.0 689.2,571.0" fill="#cfcfcf" opacity="0.8"/>
<polyline points="671.7,581.3 672.0,581.3 672.3,581.3 672.6,581.3 672.9,581.3 673.1,581.3 673.4,581.3 673.7,581.3 674.0,581.3 674.3,581.3 674.6,580.9 674.8,580.8 675.1,581.0 675.4,581.3 675.7,581.3 676.0,581.3 676.3,581.3 676.5,579.6 676.8,577.4 677.1,580.0 677.4,582.6 677.7,581.3 678.0,581.3 678.2,581.3 678.5,581.3 678.8,581.3 679.1,580.9 679.4,580.4 679.6,580.3 679.9,580.4 680.2,580.9 680.5,581.3 680.8,581.3 681.1,581.3 681.4,581.3 681.6,581.3 681.9,581.3 682.2,581.3 682.5,581.3 682.8,581.2 683.1,581.2 683.3,581.2 683.6,581.2 683.9,581.2 684.2,581.2 684.5,581.2 684.7,580.9 685.0,580.7 685.3,580.9 685.6,581.2 685.9,581.2 686.2,581.2 686.4,581.2 686.7,579.9 687.0,577.6 687.3,579.5 687.6,582.6 687.9,581.3 688.1,581.2 688.4,581.2 688.7,581.2 689.0,581.2 689.3,580.9 689.6,580.4 689.8,580.2 690.1,580.3 690.4,580.7 690.7,581.2 691.0,581.2 691.3,581.2 691.5,581.2 691.8,581.2 692.1,581.2 692.4,581.2 692.7,581.2 693.0,581.2 693.2,581.2 693.5,581.2 693.8,581.2 694.1,581.2 694.4,581.2 694.7,581.2 694.9,580.9 695.2,580.7 695.5,580.8 695.8,581.1 696.1,581.1 696.4,581.1 696.6,581.1 696.9,580.1 697.2,577.9 697.5,579.0 697.8,582.1 698.1,581.5 698.3,581.1 698.6,581.1 698.9,581.1 699.2,581.1 699.5,580.9 699.7,580.4 700.0,580.1 700.3,580.2 700.6,580.5 700.9,581.1 701.2,581.1 701.4,581.1 701.7,581.1 702.0,581.1 702.3,581.1 702.6,581.1 702.9,581.1 703.1,581.1 703.4,581.1 703.7,581.1 704.0,581.1 704.3,581.1 704.6,581.1 704.8,581.1 705.1,580.9 705.4,580.6 705.7,580.7 706.0,581.0 706.3,581.1 706.5,581.1 706.8,581.1 707.1,580.4 707.4,578.1 707.7,578.5 708.0,581.5 708.2,581.6 708.5,581.0 708.8,581.0 709.1,581.0 709.4,581.0 709.7,580.9 709.9,580.4 710.2,580.1 710.5,580.1 710.8,580.4 711.1,580.9 711.3,581.0 711.6,581.0 711.9,581.0 712.2,581.0 712.5,581.0 712.8,581.0 713.0,581.0 713.3,581.0 713.6,581.0 713.9,581.0 714.2,581.0 714.5,581.0 714.7,581.0 715.0,581.0 715.3,580.8 715.6,580.5 715.9,580.6 716.2,580.9 716.4,581.0 716.7,581.0 717.0,581.0 717.3,580.6 717.6,578.4 717.8,578.0 718.1,581.0 718.4,581.7 718.7,581.0 719.0,581.0 719.3,581.0 719.6,581.0 719.8,580.9 720.1,580.3 720.4,580.0 720.7,580.0 721.0,580.3 721.3,580.8 721.5,580.9 721.8,580.9 722.1,580.9 722.4,580.9 722.7,580.9 723.0,580.9 723.2,580.9 723.5,580.9 723.8,580.9 724.1,580.9 724.4,580.9 724.6,580.9 724.9,580.9 725.2,580.9 725.5,580.8 725.8,580.5 726.1,580.5 726.3,580.8 726.6,580.9 726.9,580.9 727.2,580.9 727.5,580.9 727.7,578.6 728.0,577.5 728.3,580.5 728.6,581.8 728.9,580.9 729.2,580.9 729.5,580.9 729.7,580.9 730.0,580.9 730.3,580.3 730.6,580.0 730.9,579.9 731.2,580.1 731.4,580.6 731.7,580.9 732.0,580.9 732.3,580.9 732.6,580.9 732.9,580.9 733.1,580.9 733.4,580.9 733.7,580.9 734.0,580.9 734.3,580.8 734.6,580.8 734.8,580.8 735.1,580.8 735.4,580.8 735.7,580.8 736.0,580.4 736.2,580.4 736.5,580.6 736.8,580.8 737.1,580.8 737.4,580.8 737.7,580.8 737.9,578.9 738.2,577.0 738.5,580.0 738.8,581.9 739.1,580.8 739.4,580.8 739.6,580.8 739.9,580.8 740.2,580.8 740.5,580.3 740.8,579.9 741.1,579.8 741.3,580.0 741.6,580.5 741.9,580.8 742.2,580.8 742.5,580.8 742.8,580.8 743.0,580.8 743.3,580.8" fill="none" stroke="#236e33" stroke-width="0.8" opacity="0.85"/>
<polygon points="677.3,575.8 678.0,575.8 678.0,585.4 677.4,585.4" fill="#236e33" opacity="0.7"/>
<polyline points="674.4,599.4 675.1,597.2 675.9,595.0 676.7,592.8 677.4,592.3 678.2,593.1 679.0,593.8 679.8,594.0 680.6,594.4 681.4,595.8 682.2,596.6 683.0,597.2 683.7,597.7 684.5,598.3 685.3,598.7 686.1,599.1 686.9,598.2 687.6,596.1 688.4,593.9 689.2,591.7 690.0,592.5 690.7,593.3 691.5,593.8 692.3,593.9 693.1,595.0 693.9,596.1 694.7,596.7 695.5,597.3 696.2,597.8 697.0,598.3 697.8,598.8 698.6,599.1 699.4,597.1 700.1,595.0 700.9,592.8 701.7,592.0 702.5,592.7 703.3,593.5 704.0,593.8 704.8,594.1 705.6,595.4 706.4,596.2 707.2,596.9 708.0,597.4 708.8,597.9 709.5,598.4 710.3,598.8 711.1,598.2 711.9,596.1 712.6,593.9 713.4,591.7 714.2,592.2 715.0,593.0 715.8,593.6 716.5,593.6 717.3,594.5 718.1,595.7 718.9,596.4 719.7,597.0 720.5,597.5 721.3,598.0 722.0,598.5 722.8,598.8 723.6,597.1 724.4,595.0 725.1,592.8 725.9,591.7 726.7,592.4 727.5,593.2 728.3,593.5 729.0,593.7 729.8,595.0 730.6,595.9 731.4,596.5 732.2,597.1 733.0,597.6 733.8,598.1 734.5,598.5 735.3,598.2 736.1,596.0 736.9,593.9 737.6,591.7 738.4,591.9 739.2,592.6 740.0,593.3 740.8,593.4 741.6,594.1 742.3,595.4 743.1,596.1 743.9,596.7 744.7,597.2 745.5,597.7 746.3,598.2 747.1,598.5 747.8,597.1 748.6,595.0 749.4,592.8 750.1,591.3 750.9,592.1" fill="none" stroke="#1f7d77" stroke-width="0.9" opacity="0.9" stroke-linejoin="round"/>
<polygon points="672.4,588.1 677.4,588.1 677.4,589.5 672.4,589.5" fill="#1f7d77" opacity="0.9"/>
<polygon points="743.3,574.7 746.4,574.7 746.4,577.4 743.3,577.4" fill="#e8e8e8" opacity="0.95"/>
<polygon points="747.7,574.0 748.9,574.0 749.0,577.4 747.7,577.4" fill="#236e33" opacity="0.7"/>
<polygon points="747.1,583.4 750.9,583.4 750.9,585.1 747.1,585.1" fill="#e6c84a" opacity="0.8"/>
<polygon points="749.7,592.2 753.4,592.1 753.4,593.8 749.7,593.8" fill="#9fd8e0" opacity="0.7"/>
<text x="755.0" y="581.9" font-size="10.5" font-weight="bold" fill="#86cf2e" text-anchor="start" opacity="1" textLength="9.6" lengthAdjust="spacingAndGlyphs">69</text>
<text x="756.3" y="590.2" font-size="9.4" font-weight="bold" fill="#efd92f" text-anchor="start" opacity="1" textLength="7.6" lengthAdjust="spacingAndGlyphs">14</text>
<text x="755.1" y="599.7" font-size="10.5" font-weight="bold" fill="#55c4ea" text-anchor="start" opacity="1" textLength="9.8" lengthAdjust="spacingAndGlyphs">99</text>
<polygon points="770.9,574.5 772.8,574.5 772.8,577.2 770.9,577.2" fill="#355fc4" opacity="0.85"/>
<polygon points="776.6,574.5 780.4,574.5 780.4,577.1 776.6,577.2" fill="#355fc4" opacity="0.85"/>
<polygon points="781.6,574.5 782.9,574.5 782.9,577.1 781.6,577.1" fill="#355fc4" opacity="0.85"/>
<polygon points="786.0,574.4 789.1,574.4 789.2,577.1 786.0,577.1" fill="#355fc4" opacity="0.85"/>
<polygon points="771.0,579.9 772.8,579.9 772.9,581.9 771.0,581.9" fill="#9ab0e0" opacity="0.7"/>
<polygon points="776.6,579.5 781.0,579.5 781.0,582.2 776.6,582.2" fill="#355fc4" opacity="0.8"/>
<polygon points="771.6,585.2 774.8,585.2 774.8,587.9 771.6,587.9" fill="#dddddd" opacity="0.85"/>
<polygon points="777.3,589.2 784.8,589.1 784.8,591.2 777.3,591.2" fill="#cfcfcf" opacity="0.8"/>
<polygon points="787.3,589.1 791.7,589.1 791.7,591.1 787.3,591.1" fill="#cfcfcf" opacity="0.8"/>
<polygon points="795.5,567.0 916.6,566.4 916.6,566.7 795.5,567.4" fill="#3a3a3a" opacity="0.8"/>
<polygon points="797.9,568.0 831.9,567.8 831.9,570.6 798.0,570.8" fill="#3c3c3c" opacity="0.9"/>
<polygon points="798.5,568.3 802.8,568.3 802.8,570.5 798.6,570.5" fill="#d8d8d8" opacity="0.9"/>
<polygon points="816.1,568.6 825.8,568.5 825.8,570.2 816.1,570.2" fill="#cfcfcf" opacity="0.8"/>
<polyline points="799.2,580.3 799.5,580.3 799.8,580.3 800.0,580.3 800.3,580.3 800.6,580.3 800.8,580.3 801.1,580.3 801.4,580.3 801.7,580.3 801.9,580.0 802.2,579.8 802.5,580.1 802.8,580.3 803.0,580.3 803.3,580.3 803.6,580.3 803.8,578.7 804.1,576.5 804.4,579.1 804.7,581.5 804.9,580.3 805.2,580.3 805.5,580.3 805.8,580.3 806.0,580.3 806.3,579.9 806.6,579.5 806.8,579.3 807.1,579.4 807.4,579.9 807.7,580.3 807.9,580.3 808.2,580.3 808.5,580.3 808.8,580.3 809.0,580.3 809.3,580.3 809.6,580.3 809.8,580.3 810.1,580.3 810.4,580.3 810.7,580.3 810.9,580.3 811.2,580.3 811.5,580.3 811.8,579.9 812.0,579.8 812.3,579.9 812.6,580.2 812.8,580.2 813.1,580.2 813.4,580.2 813.7,578.9 813.9,576.7 814.2,578.6 814.5,581.6 814.8,580.4 815.0,580.2 815.3,580.2 815.6,580.2 815.9,580.2 816.1,579.9 816.4,579.4 816.7,579.2 816.9,579.3 817.2,579.7 817.5,580.2 817.8,580.2 818.0,580.2 818.3,580.2 818.6,580.2 818.9,580.2 819.1,580.2 819.4,580.2 819.7,580.2 819.9,580.2 820.2,580.2 820.5,580.2 820.8,580.2 821.0,580.2 821.3,580.2 821.6,579.9 821.9,579.7 822.1,579.8 822.4,580.2 822.7,580.2 822.9,580.2 823.2,580.2 823.5,579.2 823.7,577.0 824.0,578.1 824.3,581.1 824.6,580.5 824.9,580.1 825.1,580.1 825.4,580.1 825.7,580.1 825.9,579.9 826.2,579.4 826.5,579.2 826.8,579.2 827.0,579.6 827.3,580.1 827.6,580.1 827.9,580.1 828.1,580.1 828.4,580.1 828.7,580.1 828.9,580.1 829.2,580.1 829.5,580.1 829.8,580.1 830.0,580.1 830.3,580.1 830.6,580.1 830.9,580.1 831.1,580.1 831.4,579.9 831.7,579.6 831.9,579.7 832.2,580.1 832.5,580.1 832.8,580.1 833.0,580.1 833.3,579.4 833.6,577.2 833.8,577.6 834.1,580.6 834.4,580.6 834.7,580.1 834.9,580.1 835.2,580.1 835.5,580.1 835.8,579.9 836.0,579.4 836.3,579.1 836.6,579.1 836.9,579.4 837.1,580.0 837.4,580.0 837.7,580.0 837.9,580.0 838.2,580.0 838.5,580.0 838.8,580.0 839.0,580.0 839.3,580.0 839.6,580.0 839.9,580.0 840.1,580.0 840.4,580.0 840.7,580.0 840.9,580.0 841.2,579.9 841.5,579.6 841.8,579.6 842.0,579.9 842.3,580.0 842.6,580.0 842.9,580.0 843.1,579.6 843.4,577.4 843.7,577.1 844.0,580.1 844.2,580.7 844.5,580.0 844.8,580.0 845.0,580.0 845.3,580.0 845.6,579.9 845.9,579.4 846.1,579.0 846.4,579.0 846.7,579.3 847.0,579.8 847.2,580.0 847.5,580.0 847.8,580.0 848.0,580.0 848.3,580.0 848.6,580.0 848.9,580.0 849.1,580.0 849.4,580.0 849.7,580.0 850.0,580.0 850.2,579.9 850.5,579.9 850.8,579.9 851.0,579.8 851.3,579.5 851.6,579.5 851.9,579.8 852.1,579.9 852.4,579.9 852.7,579.9 853.0,579.9 853.2,577.7 853.5,576.6 853.8,579.6 854.0,580.8 854.3,579.9 854.6,579.9 854.9,579.9 855.1,579.9 855.4,579.9 855.7,579.4 856.0,579.0 856.2,578.9 856.5,579.2 856.8,579.7 857.0,579.9 857.3,579.9 857.6,579.9 857.9,579.9 858.1,579.9 858.4,579.9 858.7,579.9 859.0,579.9 859.2,579.9 859.5,579.9 859.8,579.9 860.0,579.9 860.3,579.9 860.6,579.9 860.9,579.8 861.1,579.5 861.4,579.4 861.7,579.7 862.0,579.9 862.2,579.9 862.5,579.9 862.8,579.9 863.0,577.9 863.3,576.1 863.6,579.1 863.9,580.9 864.1,579.8 864.4,579.8 864.7,579.8 865.0,579.8 865.2,579.8 865.5,579.4 865.8,579.0 866.0,578.8 866.3,579.0 866.6,579.5 866.9,579.8 867.1,579.8 867.4,579.8 867.7,579.8 868.0,579.8 868.2,579.8" fill="none" stroke="#236e33" stroke-width="0.8" opacity="0.85"/>
<polygon points="804.6,575.0 805.2,575.0 805.3,584.3 804.7,584.3" fill="#236e33" opacity="0.7"/>
<polyline points="801.7,598.0 802.5,595.8 803.2,593.7 803.9,591.5 804.7,591.1 805.4,591.8 806.2,592.5 807.0,592.7 807.7,593.2 808.5,594.5 809.2,595.3 810.0,595.9 810.7,596.4 811.5,596.9 812.3,597.4 813.0,597.7 813.8,596.9 814.5,594.8 815.2,592.6 816.0,590.5 816.7,591.3 817.5,592.0 818.3,592.6 819.0,592.6 819.8,593.7 820.5,594.8 821.3,595.4 822.0,596.0 822.8,596.5 823.6,597.0 824.3,597.4 825.1,597.7 825.8,595.8 826.6,593.7 827.3,591.6 828.1,590.8 828.8,591.5 829.6,592.2 830.3,592.5 831.1,592.8 831.8,594.1 832.6,594.9 833.3,595.6 834.1,596.1 834.9,596.6 835.6,597.1 836.4,597.5 837.1,596.9 837.9,594.8 838.6,592.6 839.4,590.5 840.1,591.0 840.9,591.7 841.6,592.3 842.4,592.4 843.1,593.3 843.9,594.4 844.6,595.1 845.4,595.7 846.2,596.2 846.9,596.7 847.7,597.1 848.4,597.5 849.2,595.8 849.9,593.7 850.7,591.6 851.4,590.5 852.2,591.2 852.9,591.9 853.7,592.3 854.4,592.5 855.2,593.8 855.9,594.6 856.7,595.2 857.5,595.8 858.2,596.3 859.0,596.8 859.7,597.2 860.5,596.9 861.2,594.8 862.0,592.6 862.7,590.5 863.5,590.7 864.2,591.4 865.0,592.1 865.7,592.2 866.5,592.9 867.2,594.1 868.0,594.8 868.8,595.4 869.5,595.9 870.3,596.4 871.0,596.8 871.8,597.2 872.5,595.8 873.3,593.7 874.0,591.6 874.8,590.2 875.5,590.9" fill="none" stroke="#1f7d77" stroke-width="0.9" opacity="0.9" stroke-linejoin="round"/>
<polygon points="799.8,587.0 804.7,587.0 804.7,588.3 799.8,588.3" fill="#1f7d77" opacity="0.9"/>
<polygon points="868.2,573.9 871.2,573.9 871.3,576.5 868.2,576.5" fill="#e8e8e8" opacity="0.95"/>
<polygon points="872.5,573.2 873.7,573.2 873.7,576.5 872.5,576.5" fill="#236e33" opacity="0.7"/>
<polygon points="871.9,582.4 875.5,582.4 875.5,584.0 871.9,584.1" fill="#e6c84a" opacity="0.8"/>
<polygon points="874.3,591.0 877.9,590.9 878.0,592.6 874.3,592.6" fill="#9fd8e0" opacity="0.7"/>
<text x="879.5" y="580.9" font-size="10.5" font-weight="bold" fill="#86cf2e" text-anchor="start" opacity="1" textLength="9.6" lengthAdjust="spacingAndGlyphs">78</text>
<text x="880.7" y="589.1" font-size="9.4" font-weight="bold" fill="#efd92f" text-anchor="start" opacity="1" textLength="7.6" lengthAdjust="spacingAndGlyphs">20</text>
<text x="879.5" y="598.3" font-size="10.5" font-weight="bold" fill="#55c4ea" text-anchor="start" opacity="1" textLength="9.8" lengthAdjust="spacingAndGlyphs">98</text>
<polygon points="895.5,584.2 898.5,584.2 898.5,586.8 895.5,586.8" fill="#dddddd" opacity="0.85"/>
<polygon points="894.9,574.4 896.7,574.3 896.7,577.0 894.9,577.0" fill="#8a8a8a" opacity="0.8"/>
<text x="900.4" y="596.9" font-size="8.5" font-weight="bold" fill="#86cf2e" text-anchor="start" opacity="1" textLength="11.5" lengthAdjust="spacingAndGlyphs">0.10</text>
<text x="900.3" y="579.6" font-size="8.5" font-weight="bold" fill="#86cf2e" text-anchor="start" opacity="1" textLength="7.0" lengthAdjust="spacingAndGlyphs">18</text>
<polygon points="668.1,602.6 793.7,601.2 793.7,601.6 668.1,603.0" fill="#3a3a3a" opacity="0.8"/>
<polygon points="670.6,603.5 705.8,603.1 705.8,605.8 670.7,606.2" fill="#3c3c3c" opacity="0.9"/>
<polygon points="671.3,603.8 675.7,603.8 675.7,605.9 671.3,605.9" fill="#d8d8d8" opacity="0.9"/>
<polygon points="689.5,604.0 699.5,603.8 699.5,605.4 689.5,605.5" fill="#cfcfcf" opacity="0.8"/>
<polyline points="672.0,615.3 672.3,615.3 672.5,615.3 672.8,615.3 673.1,615.3 673.4,615.3 673.7,615.3 674.0,615.3 674.2,615.3 674.5,615.3 674.8,614.9 675.1,614.8 675.4,615.0 675.7,615.2 675.9,615.2 676.2,615.2 676.5,615.2 676.8,613.7 677.0,611.6 677.3,614.1 677.6,616.4 677.9,615.2 678.2,615.2 678.5,615.2 678.8,615.2 679.0,615.2 679.3,614.8 679.6,614.4 679.9,614.2 680.2,614.4 680.5,614.8 680.7,615.2 681.0,615.2 681.3,615.2 681.6,615.2 681.9,615.2 682.2,615.2 682.4,615.2 682.7,615.2 683.0,615.2 683.3,615.1 683.6,615.1 683.9,615.1 684.1,615.1 684.4,615.1 684.7,615.1 685.0,614.8 685.3,614.7 685.6,614.8 685.8,615.1 686.1,615.1 686.4,615.1 686.7,615.1 687.0,613.8 687.2,611.7 687.5,613.5 687.8,616.4 688.1,615.2 688.4,615.1 688.7,615.1 688.9,615.1 689.2,615.1 689.5,614.8 689.8,614.3 690.1,614.1 690.4,614.2 690.6,614.6 690.9,615.0 691.2,615.0 691.5,615.0 691.8,615.0 692.1,615.0 692.3,615.0 692.6,615.0 692.9,615.0 693.2,615.0 693.5,615.0 693.8,615.0 694.0,615.0 694.3,615.0 694.6,615.0 694.9,615.0 695.2,614.7 695.4,614.5 695.7,614.7 696.0,615.0 696.3,615.0 696.6,615.0 696.9,615.0 697.1,614.0 697.4,611.9 697.7,613.0 698.0,615.8 698.3,615.3 698.6,614.9 698.8,614.9 699.1,614.9 699.4,614.9 699.7,614.7 700.0,614.2 700.2,614.0 700.5,614.0 700.8,614.4 701.1,614.9 701.4,614.9 701.7,614.9 702.0,614.9 702.2,614.9 702.5,614.9 702.8,614.9 703.1,614.9 703.4,614.9 703.6,614.9 703.9,614.9 704.2,614.9 704.5,614.9 704.8,614.9 705.1,614.9 705.3,614.7 705.6,614.4 705.9,614.5 706.2,614.8 706.5,614.8 706.8,614.8 707.0,614.8 707.3,614.2 707.6,612.1 707.9,612.4 708.2,615.3 708.5,615.3 708.7,614.8 709.0,614.8 709.3,614.8 709.6,614.8 709.9,614.6 710.1,614.2 710.4,613.9 710.7,613.9 711.0,614.2 711.3,614.7 711.6,614.8 711.8,614.8 712.1,614.8 712.4,614.8 712.7,614.8 713.0,614.8 713.3,614.8 713.5,614.7 713.8,614.7 714.1,614.7 714.4,614.7 714.7,614.7 715.0,614.7 715.2,614.7 715.5,614.6 715.8,614.3 716.1,614.3 716.4,614.6 716.7,614.7 716.9,614.7 717.2,614.7 717.5,614.4 717.8,612.2 718.1,611.9 718.4,614.7 718.6,615.3 718.9,614.7 719.2,614.7 719.5,614.7 719.8,614.7 720.0,614.6 720.3,614.1 720.6,613.8 720.9,613.7 721.2,614.0 721.5,614.5 721.7,614.6 722.0,614.6 722.3,614.6 722.6,614.6 722.9,614.6 723.2,614.6 723.4,614.6 723.7,614.6 724.0,614.6 724.3,614.6 724.6,614.6 724.9,614.6 725.1,614.6 725.4,614.6 725.7,614.5 726.0,614.2 726.3,614.2 726.6,614.4 726.8,614.6 727.1,614.6 727.4,614.6 727.7,614.5 728.0,612.4 728.2,611.4 728.5,614.2 728.8,615.4 729.1,614.5 729.4,614.5 729.7,614.5 729.9,614.5 730.2,614.5 730.5,614.0 730.8,613.7 731.1,613.6 731.4,613.8 731.6,614.3 731.9,614.5 732.2,614.5 732.5,614.5 732.8,614.5 733.1,614.5 733.3,614.5 733.6,614.5 733.9,614.5 734.2,614.5 734.5,614.5 734.8,614.5 735.0,614.5 735.3,614.5 735.6,614.5 735.9,614.4 736.2,614.1 736.4,614.0 736.7,614.2 737.0,614.4 737.3,614.4 737.6,614.4 737.9,614.4 738.1,612.6 738.4,610.8 738.7,613.7 739.0,615.4 739.3,614.4 739.6,614.4 739.8,614.4 740.1,614.4 740.4,614.4 740.7,613.9 741.0,613.6 741.3,613.4 741.5,613.6 741.8,614.1 742.1,614.4 742.4,614.4 742.7,614.4 743.0,614.4 743.2,614.4 743.5,614.4" fill="none" stroke="#236e33" stroke-width="0.8" opacity="0.85"/>
<polygon points="677.6,610.1 678.2,610.1 678.3,619.0 677.7,619.0" fill="#236e33" opacity="0.7"/>
<polyline points="674.6,632.1 675.4,630.1 676.1,628.0 676.9,626.0 677.7,625.5 678.5,626.2 679.3,626.9 680.0,627.1 680.8,627.5 681.6,628.7 682.4,629.5 683.2,630.0 684.0,630.6 684.8,631.0 685.5,631.5 686.3,631.8 687.1,631.0 687.9,629.0 688.6,626.9 689.4,624.9 690.2,625.7 691.0,626.4 691.8,626.9 692.5,626.9 693.3,627.9 694.1,628.9 694.9,629.5 695.7,630.1 696.5,630.6 697.3,631.0 698.0,631.4 698.8,631.7 699.6,629.9 700.4,627.9 701.1,625.8 701.9,625.1 702.7,625.8 703.5,626.5 704.3,626.7 705.0,627.0 705.8,628.3 706.6,629.0 707.4,629.6 708.2,630.1 709.0,630.6 709.7,631.0 710.5,631.4 711.3,630.9 712.1,628.8 712.8,626.8 713.6,624.7 714.4,625.2 715.2,625.9 716.0,626.5 716.7,626.5 717.5,627.4 718.3,628.5 719.1,629.1 719.9,629.6 720.7,630.2 721.5,630.6 722.2,631.0 723.0,631.3 723.8,629.8 724.6,627.7 725.3,625.7 726.1,624.6 726.9,625.3 727.7,626.0 728.5,626.4 729.2,626.5 730.0,627.8 730.8,628.6 731.6,629.2 732.4,629.7 733.2,630.2 734.0,630.6 734.7,631.0 735.5,630.7 736.3,628.7 737.1,626.6 737.8,624.6 738.6,624.8 739.4,625.5 740.2,626.1 741.0,626.1 741.7,626.9 742.5,628.0 743.3,628.7 744.1,629.2 744.9,629.7 745.7,630.2 746.5,630.6 747.2,630.9 748.0,629.6 748.8,627.6 749.5,625.5 750.3,624.2 751.1,624.9" fill="none" stroke="#1f7d77" stroke-width="0.9" opacity="0.9" stroke-linejoin="round"/>
<polygon points="672.7,621.7 677.7,621.6 677.7,622.9 672.7,622.9" fill="#1f7d77" opacity="0.9"/>
<polygon points="743.5,608.7 746.6,608.7 746.6,611.2 743.5,611.2" fill="#e8e8e8" opacity="0.95"/>
<polygon points="747.9,608.0 749.1,608.0 749.1,611.1 747.9,611.2" fill="#236e33" opacity="0.7"/>
<polygon points="747.3,616.8 751.1,616.8 751.1,618.3 747.3,618.4" fill="#e6c84a" opacity="0.8"/>
<polygon points="749.9,625.0 753.6,624.9 753.6,626.5 749.9,626.5" fill="#9fd8e0" opacity="0.7"/>
<text x="755.2" y="615.3" font-size="10.5" font-weight="bold" fill="#86cf2e" text-anchor="start" opacity="1" textLength="9.6" lengthAdjust="spacingAndGlyphs">90</text>
<text x="756.5" y="623.1" font-size="9.4" font-weight="bold" fill="#efd92f" text-anchor="start" opacity="1" textLength="7.6" lengthAdjust="spacingAndGlyphs">18</text>
<text x="755.3" y="631.9" font-size="10.5" font-weight="bold" fill="#55c4ea" text-anchor="start" opacity="1" textLength="9.8" lengthAdjust="spacingAndGlyphs">93</text>
<polygon points="771.8,618.4 774.9,618.3 774.9,620.8 771.8,620.9" fill="#dddddd" opacity="0.85"/>
<polygon points="771.1,609.0 773.0,609.0 773.0,611.5 771.1,611.5" fill="#8a8a8a" opacity="0.8"/>
<text x="779.3" y="615.8" font-size="13" font-weight="bold" fill="#f2f2f2" text-anchor="start" opacity="1" textLength="10.6" lengthAdjust="spacingAndGlyphs">52</text>
<text x="771.2" y="630.6" font-size="6" font-weight="bold" fill="#b8a82a" text-anchor="start" opacity="1" textLength="3.5" lengthAdjust="spacingAndGlyphs">%</text>
<text x="778.1" y="631.1" font-size="8" font-weight="bold" fill="#d8c83a" text-anchor="start" opacity="1" textLength="4.0" lengthAdjust="spacingAndGlyphs">F</text>
<polygon points="777.4,622.0 785.0,621.9 785.0,623.8 777.5,623.9" fill="#cfcfcf" opacity="0.8"/>
<polygon points="787.5,621.9 791.9,621.8 791.9,623.7 787.5,623.8" fill="#cfcfcf" opacity="0.8"/>
<polygon points="795.7,601.2 916.7,599.8 916.7,600.2 795.7,601.6" fill="#3a3a3a" opacity="0.8"/>
<polygon points="798.1,602.1 832.0,601.7 832.0,604.3 798.1,604.7" fill="#3c3c3c" opacity="0.9"/>
<polygon points="798.7,602.4 802.9,602.3 802.9,604.4 798.7,604.4" fill="#d8d8d8" opacity="0.9"/>
<polygon points="816.3,602.5 825.9,602.4 825.9,604.0 816.3,604.1" fill="#cfcfcf" opacity="0.8"/>
<polyline points="799.4,613.6 799.6,613.6 799.9,613.6 800.2,613.6 800.4,613.6 800.7,613.6 801.0,613.6 801.3,613.6 801.5,613.6 801.8,613.6 802.1,613.2 802.4,613.1 802.6,613.3 802.9,613.6 803.2,613.6 803.4,613.6 803.7,613.6 804.0,612.0 804.2,610.0 804.5,612.4 804.8,614.7 805.1,613.5 805.4,613.5 805.6,613.5 805.9,613.5 806.2,613.5 806.4,613.2 806.7,612.7 807.0,612.6 807.3,612.7 807.5,613.1 807.8,613.5 808.1,613.5 808.3,613.5 808.6,613.5 808.9,613.5 809.2,613.5 809.4,613.5 809.7,613.5 810.0,613.5 810.3,613.5 810.5,613.5 810.8,613.5 811.1,613.5 811.3,613.5 811.6,613.5 811.9,613.2 812.2,613.0 812.4,613.2 812.7,613.4 813.0,613.4 813.3,613.4 813.5,613.4 813.8,612.2 814.1,610.1 814.3,611.9 814.6,614.7 814.9,613.5 815.2,613.4 815.4,613.4 815.7,613.4 816.0,613.4 816.3,613.1 816.5,612.7 816.8,612.5 817.1,612.6 817.3,612.9 817.6,613.4 817.9,613.4 818.2,613.4 818.4,613.4 818.7,613.4 819.0,613.4 819.3,613.4 819.5,613.3 819.8,613.3 820.1,613.3 820.3,613.3 820.6,613.3 820.9,613.3 821.2,613.3 821.4,613.3 821.7,613.1 822.0,612.9 822.3,613.0 822.5,613.3 822.8,613.3 823.1,613.3 823.3,613.3 823.6,612.4 823.9,610.3 824.2,611.4 824.4,614.1 824.7,613.6 825.0,613.3 825.3,613.3 825.5,613.3 825.8,613.3 826.1,613.0 826.3,612.6 826.6,612.3 826.9,612.4 827.2,612.7 827.4,613.2 827.7,613.2 828.0,613.2 828.2,613.2 828.5,613.2 828.8,613.2 829.1,613.2 829.3,613.2 829.6,613.2 829.9,613.2 830.2,613.2 830.4,613.2 830.7,613.2 831.0,613.2 831.2,613.2 831.5,613.0 831.8,612.8 832.1,612.8 832.3,613.1 832.6,613.2 832.9,613.2 833.2,613.2 833.4,612.5 833.7,610.5 834.0,610.8 834.2,613.6 834.5,613.6 834.8,613.1 835.1,613.1 835.3,613.1 835.6,613.1 835.9,613.0 836.2,612.5 836.4,612.2 836.7,612.2 837.0,612.5 837.2,613.0 837.5,613.1 837.8,613.1 838.1,613.1 838.3,613.1 838.6,613.1 838.9,613.1 839.2,613.1 839.4,613.1 839.7,613.1 840.0,613.1 840.2,613.1 840.5,613.1 840.8,613.1 841.1,613.1 841.3,612.9 841.6,612.6 841.9,612.7 842.2,613.0 842.4,613.0 842.7,613.0 843.0,613.0 843.2,612.7 843.5,610.6 843.8,610.3 844.1,613.1 844.3,613.7 844.6,613.0 844.9,613.0 845.2,613.0 845.4,613.0 845.7,612.9 846.0,612.4 846.2,612.1 846.5,612.1 846.8,612.4 847.1,612.8 847.3,613.0 847.6,613.0 847.9,613.0 848.1,613.0 848.4,613.0 848.7,613.0 849.0,613.0 849.2,613.0 849.5,613.0 849.8,612.9 850.1,612.9 850.3,612.9 850.6,612.9 850.9,612.9 851.1,612.8 851.4,612.5 851.7,612.5 852.0,612.8 852.2,612.9 852.5,612.9 852.8,612.9 853.1,612.9 853.3,610.8 853.6,609.8 853.9,612.6 854.1,613.7 854.4,612.9 854.7,612.9 855.0,612.9 855.2,612.9 855.5,612.9 855.8,612.4 856.1,612.0 856.3,611.9 856.6,612.2 856.9,612.6 857.1,612.9 857.4,612.8 857.7,612.8 858.0,612.8 858.2,612.8 858.5,612.8 858.8,612.8 859.1,612.8 859.3,612.8 859.6,612.8 859.9,612.8 860.1,612.8 860.4,612.8 860.7,612.8 861.0,612.8 861.2,612.4 861.5,612.4 861.8,612.6 862.1,612.8 862.3,612.8 862.6,612.8 862.9,612.8 863.1,611.0 863.4,609.3 863.7,612.0 864.0,613.7 864.2,612.8 864.5,612.8 864.8,612.8 865.1,612.7 865.3,612.7 865.6,612.3 865.9,611.9 866.1,611.8 866.4,612.0 866.7,612.4 867.0,612.7 867.2,612.7 867.5,612.7 867.8,612.7 868.0,612.7 868.3,612.7" fill="none" stroke="#236e33" stroke-width="0.8" opacity="0.85"/>
<polygon points="804.8,608.6 805.4,608.6 805.4,617.3 804.8,617.3" fill="#236e33" opacity="0.7"/>
<polyline points="801.8,630.1 802.6,628.1 803.3,626.1 804.1,624.1 804.8,623.6 805.6,624.3 806.3,625.0 807.1,625.2 807.8,625.6 808.6,626.8 809.4,627.5 810.1,628.1 810.9,628.6 811.6,629.0 812.4,629.5 813.1,629.8 813.9,629.0 814.6,627.0 815.4,625.0 816.1,623.0 816.9,623.8 817.6,624.4 818.4,625.0 819.1,625.0 819.9,626.0 820.7,627.0 821.4,627.6 822.2,628.1 822.9,628.6 823.7,629.0 824.4,629.4 825.2,629.7 825.9,627.9 826.7,625.9 827.4,623.9 828.2,623.2 828.9,623.9 829.7,624.5 830.4,624.8 831.2,625.1 831.9,626.3 832.7,627.1 833.5,627.6 834.2,628.1 835.0,628.6 835.7,629.0 836.5,629.4 837.2,628.9 838.0,626.9 838.7,624.9 839.5,622.9 840.2,623.3 841.0,624.0 841.7,624.6 842.5,624.6 843.2,625.5 844.0,626.5 844.7,627.1 845.5,627.7 846.3,628.2 847.0,628.6 847.8,629.0 848.5,629.3 849.3,627.8 850.0,625.8 850.8,623.8 851.5,622.8 852.3,623.5 853.0,624.1 853.8,624.5 854.5,624.6 855.3,625.8 856.0,626.6 856.8,627.2 857.6,627.7 858.3,628.2 859.1,628.6 859.8,629.0 860.6,628.7 861.3,626.7 862.1,624.7 862.8,622.7 863.6,622.9 864.3,623.6 865.1,624.2 865.8,624.3 866.6,625.0 867.3,626.1 868.1,626.7 868.8,627.3 869.6,627.8 870.4,628.2 871.1,628.6 871.9,628.9 872.6,627.7 873.4,625.7 874.1,623.7 874.9,622.3 875.6,623.0" fill="none" stroke="#1f7d77" stroke-width="0.9" opacity="0.9" stroke-linejoin="round"/>
<polygon points="800.0,619.8 804.8,619.8 804.8,621.0 800.0,621.1" fill="#1f7d77" opacity="0.9"/>
<polygon points="868.3,607.2 871.3,607.1 871.3,609.6 868.3,609.6" fill="#e8e8e8" opacity="0.95"/>
<polygon points="872.5,606.5 873.8,606.5 873.8,609.6 872.5,609.6" fill="#236e33" opacity="0.7"/>
<polygon points="872.0,615.1 875.6,615.1 875.6,616.6 872.0,616.7" fill="#e6c84a" opacity="0.8"/>
<polygon points="874.4,623.1 878.0,623.0 878.0,624.6 874.4,624.6" fill="#9fd8e0" opacity="0.7"/>
<text x="879.6" y="613.6" font-size="10.5" font-weight="bold" fill="#86cf2e" text-anchor="start" opacity="1" textLength="9.6" lengthAdjust="spacingAndGlyphs">75</text>
<text x="880.8" y="621.3" font-size="9.4" font-weight="bold" fill="#efd92f" text-anchor="start" opacity="1" textLength="7.6" lengthAdjust="spacingAndGlyphs">14</text>
<text x="879.6" y="629.9" font-size="10.5" font-weight="bold" fill="#55c4ea" text-anchor="start" opacity="1" textLength="9.8" lengthAdjust="spacingAndGlyphs">99</text>
<polygon points="894.9,606.8 896.7,606.8 896.7,609.3 894.9,609.3" fill="#355fc4" opacity="0.85"/>
<polygon points="900.4,606.8 904.0,606.7 904.0,609.2 900.4,609.2" fill="#355fc4" opacity="0.85"/>
<polygon points="905.2,606.7 906.4,606.7 906.4,609.1 905.2,609.2" fill="#355fc4" opacity="0.85"/>
<polygon points="909.5,606.6 912.5,606.6 912.5,609.1 909.5,609.1" fill="#355fc4" opacity="0.85"/>
<polygon points="894.9,611.7 896.8,611.7 896.8,613.6 894.9,613.6" fill="#9ab0e0" opacity="0.7"/>
<polygon points="900.4,611.4 904.6,611.3 904.6,613.8 900.4,613.8" fill="#355fc4" opacity="0.8"/>
<polygon points="895.6,616.6 898.6,616.6 898.6,619.1 895.6,619.1" fill="#dddddd" opacity="0.85"/>
<polygon points="901.0,620.2 908.3,620.1 908.3,622.0 901.0,622.1" fill="#cfcfcf" opacity="0.8"/>
<polygon points="910.7,620.1 914.9,620.0 914.9,621.9 910.7,621.9" fill="#cfcfcf" opacity="0.8"/>
<text x="895.0" y="628.6" font-size="6" font-weight="bold" fill="#b8a82a" text-anchor="start" opacity="1" textLength="3.5" lengthAdjust="spacingAndGlyphs">%</text>
<text x="901.6" y="629.1" font-size="8" font-weight="bold" fill="#d8c83a" text-anchor="start" opacity="1" textLength="4.0" lengthAdjust="spacingAndGlyphs">F</text>
<polygon points="668.4,635.3 793.8,633.2 793.8,633.6 668.4,635.6" fill="#3a3a3a" opacity="0.8"/>
<polygon points="670.9,636.2 706.0,635.6 706.0,638.3 670.9,638.9" fill="#3c3c3c" opacity="0.9"/>
<polygon points="671.5,636.5 675.9,636.4 675.9,638.5 671.5,638.6" fill="#d8d8d8" opacity="0.9"/>
<polygon points="689.7,636.5 699.7,636.3 699.7,637.9 689.7,638.1" fill="#cfcfcf" opacity="0.8"/>
<polyline points="672.2,647.9 672.5,647.9 672.8,647.9 673.1,647.9 673.3,647.9 673.6,647.9 673.9,647.9 674.2,647.9 674.5,647.9 674.8,647.9 675.0,647.5 675.3,647.4 675.6,647.6 675.9,647.9 676.2,647.9 676.5,647.9 676.7,647.8 677.0,646.3 677.3,644.2 677.6,646.7 677.9,649.0 678.2,647.8 678.4,647.8 678.7,647.8 679.0,647.8 679.3,647.8 679.6,647.4 679.8,647.0 680.1,646.8 680.4,647.0 680.7,647.4 681.0,647.8 681.3,647.8 681.5,647.8 681.8,647.8 682.1,647.7 682.4,647.7 682.7,647.7 683.0,647.7 683.2,647.7 683.5,647.7 683.8,647.7 684.1,647.7 684.4,647.7 684.7,647.7 684.9,647.7 685.2,647.4 685.5,647.2 685.8,647.4 686.1,647.7 686.3,647.7 686.6,647.7 686.9,647.7 687.2,646.4 687.5,644.3 687.7,646.1 688.1,648.9 688.3,647.8 688.6,647.6 688.9,647.6 689.2,647.6 689.5,647.6 689.7,647.3 690.0,646.9 690.3,646.6 690.6,646.8 690.9,647.1 691.1,647.6 691.4,647.6 691.7,647.6 692.0,647.6 692.3,647.6 692.6,647.6 692.8,647.6 693.1,647.5 693.4,647.5 693.7,647.5 694.0,647.5 694.3,647.5 694.5,647.5 694.8,647.5 695.1,647.5 695.4,647.2 695.7,647.0 696.0,647.2 696.2,647.5 696.5,647.5 696.8,647.5 697.1,647.5 697.4,646.5 697.6,644.4 697.9,645.5 698.2,648.3 698.5,647.8 698.8,647.4 699.1,647.4 699.3,647.4 699.6,647.4 699.9,647.2 700.2,646.7 700.5,646.5 700.7,646.5 701.0,646.9 701.3,647.4 701.6,647.4 701.9,647.4 702.2,647.4 702.5,647.4 702.7,647.4 703.0,647.4 703.3,647.4 703.6,647.4 703.9,647.3 704.1,647.3 704.4,647.3 704.7,647.3 705.0,647.3 705.3,647.3 705.6,647.1 705.8,646.9 706.1,646.9 706.4,647.3 706.7,647.3 707.0,647.3 707.3,647.3 707.5,646.6 707.8,644.5 708.1,644.9 708.4,647.7 708.7,647.7 708.9,647.3 709.2,647.2 709.5,647.2 709.8,647.2 710.1,647.1 710.4,646.6 710.6,646.3 710.9,646.3 711.2,646.6 711.5,647.1 711.8,647.2 712.1,647.2 712.3,647.2 712.6,647.2 712.9,647.2 713.2,647.2 713.5,647.2 713.8,647.2 714.0,647.2 714.3,647.2 714.6,647.1 714.9,647.1 715.2,647.1 715.4,647.1 715.7,647.0 716.0,646.7 716.3,646.7 716.6,647.0 716.9,647.1 717.1,647.1 717.4,647.1 717.7,646.7 718.0,644.6 718.3,644.3 718.6,647.1 718.8,647.7 719.1,647.1 719.4,647.1 719.7,647.1 720.0,647.1 720.3,647.0 720.5,646.5 720.8,646.1 721.1,646.1 721.4,646.4 721.7,646.9 721.9,647.0 722.2,647.0 722.5,647.0 722.8,647.0 723.1,647.0 723.4,647.0 723.6,647.0 723.9,647.0 724.2,647.0 724.5,647.0 724.8,647.0 725.1,647.0 725.3,647.0 725.6,646.9 725.9,646.8 726.2,646.5 726.5,646.5 726.7,646.8 727.0,646.9 727.3,646.9 727.6,646.9 727.9,646.9 728.1,644.8 728.4,643.7 728.7,646.5 729.0,647.7 729.3,646.9 729.6,646.9 729.9,646.9 730.1,646.9 730.4,646.9 730.7,646.3 731.0,646.0 731.3,645.9 731.5,646.1 731.8,646.6 732.1,646.8 732.4,646.8 732.7,646.8 733.0,646.8 733.2,646.8 733.5,646.8 733.8,646.8 734.1,646.8 734.4,646.8 734.7,646.8 734.9,646.8 735.2,646.8 735.5,646.8 735.8,646.8 736.1,646.7 736.4,646.4 736.6,646.3 736.9,646.5 737.2,646.7 737.5,646.7 737.8,646.7 738.1,646.7 738.3,644.9 738.6,643.1 738.9,645.9 739.2,647.7 739.5,646.7 739.7,646.7 740.0,646.7 740.3,646.7 740.6,646.7 740.9,646.2 741.2,645.8 741.4,645.7 741.7,645.9 742.0,646.3 742.3,646.6 742.6,646.6 742.9,646.6 743.1,646.6 743.4,646.6 743.7,646.6" fill="none" stroke="#236e33" stroke-width="0.8" opacity="0.85"/>
<polygon points="677.8,642.7 678.5,642.7 678.5,651.6 677.9,651.6" fill="#236e33" opacity="0.7"/>
<polyline points="674.9,664.7 675.6,662.7 676.4,660.6 677.1,658.6 677.9,658.1 678.7,658.8 679.5,659.5 680.3,659.7 681.1,660.1 681.8,661.3 682.6,662.0 683.4,662.6 684.2,663.1 685.0,663.6 685.8,664.0 686.6,664.4 687.3,663.6 688.1,661.5 688.9,659.5 689.6,657.5 690.4,658.2 691.2,658.9 692.0,659.4 692.8,659.4 693.6,660.4 694.3,661.4 695.1,662.1 695.9,662.6 696.7,663.1 697.5,663.6 698.3,663.9 699.0,664.2 699.8,662.4 700.6,660.4 701.3,658.3 702.1,657.5 702.9,658.3 703.7,658.9 704.5,659.2 705.3,659.5 706.0,660.7 706.8,661.5 707.6,662.0 708.4,662.6 709.2,663.0 710.0,663.5 710.7,663.8 711.5,663.3 712.3,661.2 713.1,659.2 713.8,657.1 714.6,657.6 715.4,658.3 716.2,658.9 717.0,658.9 717.7,659.8 718.5,660.9 719.3,661.5 720.1,662.0 720.9,662.5 721.7,663.0 722.4,663.4 723.2,663.7 724.0,662.1 724.8,660.1 725.5,658.0 726.3,657.0 727.1,657.7 727.9,658.4 728.7,658.7 729.4,658.9 730.2,660.1 731.0,660.9 731.8,661.5 732.6,662.0 733.4,662.5 734.1,662.9 734.9,663.3 735.7,663.0 736.5,661.0 737.2,658.9 738.0,656.9 738.8,657.1 739.6,657.8 740.4,658.3 741.1,658.4 741.9,659.1 742.7,660.3 743.5,660.9 744.3,661.5 745.1,662.0 745.9,662.4 746.6,662.8 747.4,663.1 748.2,661.8 749.0,659.8 749.7,657.8 750.5,656.4 751.3,657.1" fill="none" stroke="#1f7d77" stroke-width="0.9" opacity="0.9" stroke-linejoin="round"/>
<polygon points="672.9,654.3 677.9,654.2 677.9,655.5 672.9,655.6" fill="#1f7d77" opacity="0.9"/>
<polygon points="743.7,640.9 746.8,640.9 746.8,643.4 743.7,643.5" fill="#e8e8e8" opacity="0.95"/>
<polygon points="741.8,640.4 745.5,640.3 745.6,643.7 741.8,643.8" fill="#e02030" opacity="1"/>
<polygon points="748.1,640.2 749.3,640.2 749.3,643.4 748.1,643.4" fill="#236e33" opacity="0.7"/>
<polygon points="747.5,649.1 751.2,649.0 751.2,650.6 747.5,650.6" fill="#e6c84a" opacity="0.8"/>
<polygon points="750.0,657.2 753.8,657.1 753.8,658.7 750.0,658.8" fill="#9fd8e0" opacity="0.7"/>
<text x="755.4" y="647.5" font-size="10.5" font-weight="bold" fill="#86cf2e" text-anchor="start" opacity="1" textLength="9.6" lengthAdjust="spacingAndGlyphs">85</text>
<text x="756.7" y="655.3" font-size="9.4" font-weight="bold" fill="#efd92f" text-anchor="start" opacity="1" textLength="7.6" lengthAdjust="spacingAndGlyphs">16</text>
<text x="755.5" y="664.1" font-size="10.5" font-weight="bold" fill="#55c4ea" text-anchor="start" opacity="1" textLength="9.8" lengthAdjust="spacingAndGlyphs">95</text>
<polygon points="771.3,640.5 773.1,640.4 773.2,642.9 771.3,643.0" fill="#355fc4" opacity="0.85"/>
<polygon points="776.9,640.4 780.7,640.3 780.7,642.8 776.9,642.9" fill="#355fc4" opacity="0.85"/>
<polygon points="781.9,640.3 783.2,640.3 783.2,642.8 781.9,642.8" fill="#355fc4" opacity="0.85"/>
<polygon points="786.3,640.2 789.4,640.1 789.5,642.6 786.3,642.7" fill="#355fc4" opacity="0.85"/>
<polygon points="771.3,645.5 773.2,645.4 773.2,647.3 771.3,647.4" fill="#9ab0e0" opacity="0.7"/>
<polygon points="776.9,645.1 781.3,645.0 781.3,647.5 776.9,647.6" fill="#355fc4" opacity="0.8"/>
<polygon points="771.9,650.5 775.1,650.4 775.1,652.9 772.0,653.0" fill="#dddddd" opacity="0.85"/>
<polygon points="777.6,654.1 785.1,654.0 785.1,655.8 777.6,656.0" fill="#cfcfcf" opacity="0.8"/>
<polygon points="787.6,653.9 792.0,653.8 792.0,655.7 787.6,655.8" fill="#cfcfcf" opacity="0.8"/>
<text x="779.9" y="663.6" font-size="12" font-weight="bold" fill="#f2f2f2" text-anchor="start" opacity="1" textLength="10.0" lengthAdjust="spacingAndGlyphs">54</text>
<polygon points="795.8,633.2 916.8,631.2 916.8,631.6 795.8,633.5" fill="#3a3a3a" opacity="0.8"/>
<polygon points="798.2,634.1 832.1,633.5 832.1,636.1 798.2,636.7" fill="#3c3c3c" opacity="0.9"/>
<polygon points="798.8,634.4 803.1,634.3 803.1,636.3 798.8,636.4" fill="#d8d8d8" opacity="0.9"/>
<polygon points="816.4,634.4 826.1,634.2 826.1,635.8 816.4,635.9" fill="#cfcfcf" opacity="0.8"/>
<polyline points="799.5,645.6 799.8,645.6 800.0,645.6 800.3,645.6 800.6,645.6 800.9,645.6 801.1,645.6 801.4,645.5 801.7,645.5 801.9,645.5 802.2,645.2 802.5,645.1 802.8,645.3 803.0,645.5 803.3,645.5 803.6,645.5 803.9,645.5 804.1,644.0 804.4,641.9 804.7,644.3 804.9,646.6 805.2,645.5 805.5,645.5 805.8,645.5 806.0,645.5 806.3,645.5 806.6,645.1 806.8,644.7 807.1,644.5 807.4,644.7 807.7,645.1 807.9,645.4 808.2,645.4 808.5,645.4 808.8,645.4 809.0,645.4 809.3,645.4 809.6,645.4 809.8,645.4 810.1,645.4 810.4,645.4 810.7,645.4 810.9,645.4 811.2,645.4 811.5,645.4 811.8,645.4 812.0,645.1 812.3,644.9 812.6,645.1 812.8,645.3 813.1,645.3 813.4,645.3 813.7,645.3 813.9,644.1 814.2,642.0 814.5,643.8 814.8,646.5 815.0,645.4 815.3,645.3 815.6,645.3 815.8,645.3 816.1,645.3 816.4,645.0 816.7,644.5 816.9,644.3 817.2,644.4 817.5,644.8 817.7,645.2 818.0,645.2 818.3,645.2 818.6,645.2 818.8,645.2 819.1,645.2 819.4,645.2 819.7,645.2 819.9,645.2 820.2,645.2 820.5,645.2 820.7,645.2 821.0,645.2 821.3,645.2 821.6,645.2 821.8,644.9 822.1,644.7 822.4,644.8 822.6,645.2 822.9,645.1 823.2,645.1 823.5,645.1 823.7,644.2 824.0,642.1 824.3,643.2 824.6,646.0 824.8,645.4 825.1,645.1 825.4,645.1 825.6,645.1 825.9,645.1 826.2,644.9 826.5,644.4 826.7,644.2 827.0,644.2 827.3,644.6 827.6,645.1 827.8,645.1 828.1,645.1 828.4,645.0 828.6,645.0 828.9,645.0 829.2,645.0 829.5,645.0 829.7,645.0 830.0,645.0 830.3,645.0 830.5,645.0 830.8,645.0 831.1,645.0 831.4,645.0 831.6,644.8 831.9,644.5 832.2,644.6 832.5,644.9 832.7,645.0 833.0,645.0 833.3,645.0 833.5,644.3 833.8,642.3 834.1,642.6 834.4,645.4 834.6,645.4 834.9,644.9 835.2,644.9 835.4,644.9 835.7,644.9 836.0,644.8 836.3,644.3 836.5,644.0 836.8,644.0 837.1,644.3 837.4,644.8 837.6,644.9 837.9,644.9 838.2,644.9 838.4,644.9 838.7,644.9 839.0,644.9 839.3,644.8 839.5,644.8 839.8,644.8 840.1,644.8 840.4,644.8 840.6,644.8 840.9,644.8 841.2,644.8 841.4,644.7 841.7,644.4 842.0,644.4 842.3,644.7 842.5,644.8 842.8,644.8 843.1,644.8 843.3,644.4 843.6,642.4 843.9,642.0 844.2,644.8 844.4,645.4 844.7,644.7 845.0,644.7 845.3,644.7 845.5,644.7 845.8,644.7 846.1,644.2 846.3,643.8 846.6,643.8 846.9,644.1 847.2,644.5 847.4,644.7 847.7,644.7 848.0,644.7 848.3,644.7 848.5,644.7 848.8,644.7 849.1,644.7 849.3,644.7 849.6,644.7 849.9,644.7 850.2,644.6 850.4,644.6 850.7,644.6 851.0,644.6 851.2,644.5 851.5,644.2 851.8,644.2 852.1,644.5 852.3,644.6 852.6,644.6 852.9,644.6 853.2,644.5 853.4,642.5 853.7,641.5 854.0,644.2 854.2,645.4 854.5,644.6 854.8,644.6 855.1,644.6 855.3,644.6 855.6,644.5 855.9,644.0 856.1,643.7 856.4,643.6 856.7,643.8 857.0,644.3 857.2,644.5 857.5,644.5 857.8,644.5 858.1,644.5 858.3,644.5 858.6,644.5 858.9,644.5 859.1,644.5 859.4,644.5 859.7,644.5 860.0,644.5 860.2,644.5 860.5,644.5 860.8,644.5 861.1,644.4 861.3,644.1 861.6,644.0 861.9,644.2 862.1,644.4 862.4,644.4 862.7,644.4 863.0,644.4 863.2,642.6 863.5,640.9 863.8,643.7 864.1,645.4 864.3,644.4 864.6,644.4 864.9,644.4 865.1,644.4 865.4,644.4 865.7,643.9 866.0,643.5 866.2,643.4 866.5,643.6 866.8,644.0 867.0,644.3 867.3,644.3 867.6,644.3 867.9,644.3 868.1,644.3 868.4,644.3" fill="none" stroke="#236e33" stroke-width="0.8" opacity="0.85"/>
<polygon points="804.9,640.5 805.5,640.5 805.6,649.2 805.0,649.2" fill="#236e33" opacity="0.7"/>
<polyline points="802.0,662.1 802.7,660.0 803.5,658.0 804.2,656.0 805.0,655.6 805.7,656.3 806.5,656.9 807.2,657.1 808.0,657.5 808.7,658.7 809.5,659.4 810.3,660.0 811.0,660.5 811.8,660.9 812.5,661.4 813.3,661.7 814.0,660.9 814.8,658.9 815.5,656.9 816.2,654.9 817.0,655.6 817.8,656.3 818.5,656.8 819.3,656.9 820.0,657.8 820.8,658.8 821.5,659.4 822.3,660.0 823.0,660.4 823.8,660.9 824.6,661.3 825.3,661.5 826.0,659.8 826.8,657.8 827.5,655.7 828.3,655.0 829.0,655.7 829.8,656.4 830.6,656.6 831.3,656.9 832.1,658.1 832.8,658.9 833.6,659.4 834.3,659.9 835.1,660.4 835.8,660.8 836.6,661.2 837.3,660.6 838.1,658.6 838.8,656.6 839.6,654.6 840.3,655.1 841.1,655.8 841.8,656.3 842.6,656.4 843.3,657.2 844.1,658.3 844.9,658.9 845.6,659.4 846.4,659.9 847.1,660.3 847.9,660.7 848.6,661.0 849.4,659.5 850.1,657.5 850.9,655.5 851.6,654.5 852.4,655.2 853.1,655.8 853.9,656.1 854.6,656.3 855.4,657.5 856.1,658.3 856.9,658.9 857.6,659.4 858.4,659.9 859.2,660.3 859.9,660.6 860.7,660.4 861.4,658.4 862.2,656.4 862.9,654.4 863.7,654.5 864.4,655.2 865.2,655.8 865.9,655.9 866.7,656.6 867.4,657.7 868.2,658.3 868.9,658.9 869.7,659.4 870.4,659.8 871.2,660.2 871.9,660.5 872.7,659.2 873.4,657.2 874.2,655.2 874.9,653.9 875.7,654.6" fill="none" stroke="#1f7d77" stroke-width="0.9" opacity="0.9" stroke-linejoin="round"/>
<polygon points="800.1,651.8 805.0,651.7 805.0,653.0 800.1,653.1" fill="#1f7d77" opacity="0.9"/>
<polygon points="868.4,638.8 871.4,638.7 871.4,641.2 868.4,641.2" fill="#e8e8e8" opacity="0.95"/>
<polygon points="872.6,638.1 873.8,638.0 873.8,641.1 872.6,641.2" fill="#236e33" opacity="0.7"/>
<polygon points="872.0,646.7 875.7,646.6 875.7,648.2 872.0,648.2" fill="#e6c84a" opacity="0.8"/>
<polygon points="874.5,654.7 878.1,654.6 878.1,656.1 874.5,656.2" fill="#9fd8e0" opacity="0.7"/>
<text x="879.7" y="645.2" font-size="10.5" font-weight="bold" fill="#86cf2e" text-anchor="start" opacity="1" textLength="9.6" lengthAdjust="spacingAndGlyphs">66</text>
<text x="880.9" y="652.8" font-size="9.4" font-weight="bold" fill="#efd92f" text-anchor="start" opacity="1" textLength="7.6" lengthAdjust="spacingAndGlyphs">14</text>
<text x="879.7" y="661.5" font-size="10.5" font-weight="bold" fill="#55c4ea" text-anchor="start" opacity="1" textLength="9.8" lengthAdjust="spacingAndGlyphs">98</text>
<polygon points="895.0,638.3 896.8,638.3 896.8,640.7 895.0,640.7" fill="#355fc4" opacity="0.85"/>
<polygon points="900.4,638.2 904.1,638.1 904.1,640.6 900.4,640.7" fill="#355fc4" opacity="0.85"/>
<polygon points="905.3,638.1 906.5,638.1 906.5,640.5 905.3,640.6" fill="#355fc4" opacity="0.85"/>
<polygon points="909.5,638.0 912.5,638.0 912.5,640.4 909.5,640.5" fill="#355fc4" opacity="0.85"/>
<polygon points="895.0,643.2 896.8,643.2 896.8,645.0 895.0,645.0" fill="#9ab0e0" opacity="0.7"/>
<polygon points="900.4,642.8 904.7,642.7 904.7,645.2 900.5,645.3" fill="#355fc4" opacity="0.8"/>
<polygon points="895.6,648.1 898.6,648.0 898.6,650.5 895.6,650.6" fill="#dddddd" opacity="0.85"/>
<polygon points="901.1,651.7 908.3,651.5 908.3,653.4 901.1,653.5" fill="#cfcfcf" opacity="0.8"/>
<polygon points="910.7,651.5 915.0,651.4 915.0,653.2 910.7,653.3" fill="#cfcfcf" opacity="0.8"/>
<polygon points="667.1,533.3 793.9,533.3 794.0,566.0 667.4,566.7" fill="none" stroke="#9a9a9a" stroke-width="0.9"/>
<polygon points="667.6,665.6 917.8,660.3 917.8,662.4 667.6,667.8" fill="#3a3a3a" opacity="0.9"/>
</g>
<rect x="862" y="668.3" width="3" height="0.9" fill="#4a5560" opacity="0.8"/>
<rect x="871" y="668.2" width="3" height="0.9" fill="#4a5560" opacity="0.8"/>
<rect x="880" y="668.2" width="3" height="0.9" fill="#4a5560" opacity="0.8"/>
<rect x="889" y="668.1" width="3" height="0.9" fill="#4a5560" opacity="0.8"/>
<rect x="898" y="668.1" width="3" height="0.9" fill="#4a5560" opacity="0.8"/>
<rect x="905" y="668.0" width="3" height="0.9" fill="#4a5560" opacity="0.8"/>
</g>
<rect x="923.2" y="519" width="3" height="152" fill="#b9b9b9"/>
<g id="monR">
<ellipse cx="1056.2" cy="704.4" rx="54.4" ry="13.2" fill="#2a2a2a"/>
<ellipse cx="1056.2" cy="702.2" rx="54.4" ry="12.8" fill="url(#baseg)"/>
<path d="M1041.3,674 L1071.6,674 L1071.6,698 Q1056,702 1041.3,698 Z" fill="#1b1b1b"/>
<ellipse cx="1056.4" cy="698.4" rx="16" ry="3.6" fill="#222"/>
<path d="M926.2,518.2 Q926.2,517.2 927.2,517.2 L1189.9,516.6 Q1191.4,516.6 1191.4,518 L1190,678.6 Q1190,680 1188.4,679.9 L927.4,671.6 Q926.2,671.6 926.2,670.4 Z" fill="url(#bezg)"/>
<polygon points="932.2,523.4 1184.2,523.2 1183.2,670.6 932.2,662.8" fill="#050505" />
<polygon points="932.2,523.4 1184.2,523.2 1184.1,532.6 932.2,532.3" fill="#262626" />
<g filter="url(#b05)">
<polygon points="939.3,527.3 953.6,527.3 953.6,530.1 939.3,530.1" fill="#f0f0f0" opacity="0.95"/>
<polygon points="937.2,527.3 938.2,527.3 938.2,530.1 937.2,530.1" fill="#888" opacity="0.9"/>
<polygon points="1114.9,527.0 1119.9,527.0 1119.9,529.9 1114.9,529.9" fill="#e8e8e8" opacity="0.9"/>
<polygon points="1122.4,527.0 1132.5,527.0 1132.5,529.9 1122.4,529.9" fill="#e0e0e0" opacity="0.9"/>
<polygon points="1139.3,527.0 1142.9,527.0 1142.8,530.0 1139.3,530.0" fill="#d0d0d0" opacity="0.8"/>
<polygon points="1155.2,526.4 1164.0,526.4 1164.0,530.0 1155.2,530.0" fill="#bdbdbd" opacity="0.8"/>
<polygon points="1169.1,527.6 1180.4,527.6 1180.4,529.7 1169.0,529.7" fill="#5a5a5a" opacity="0.9"/>
<polygon points="933.2,533.1 979.6,533.2 979.6,533.6 933.2,533.5" fill="#3a3a3a" opacity="0.8"/>
<polygon points="934.1,534.1 947.1,534.1 947.1,536.8 934.1,536.8" fill="#3c3c3c" opacity="0.9"/>
<polygon points="934.4,534.4 936.0,534.4 936.0,536.5 934.4,536.5" fill="#d8d8d8" opacity="0.9"/>
<polygon points="941.1,534.7 944.8,534.7 944.8,536.4 941.1,536.3" fill="#cfcfcf" opacity="0.8"/>
<polyline points="935.1,546.6 935.2,546.6 935.4,546.6 935.6,546.6 935.8,546.6 935.9,546.6 936.1,546.6 936.3,546.6 936.5,546.6 936.7,546.6 936.8,546.6 937.0,546.6 937.2,546.2 937.4,546.0 937.5,546.1 937.7,546.4 937.9,546.6 938.1,546.6 938.3,546.6 938.4,546.6 938.6,546.5 938.8,544.2 939.0,541.9 939.1,544.1 939.3,547.2 939.5,547.6 939.7,546.6 939.9,546.6 940.0,546.6 940.2,546.6 940.4,546.6 940.6,546.6 940.7,546.0 940.9,545.6 941.1,545.3 941.3,545.4 941.5,545.7 941.6,546.2 941.8,546.6 942.0,546.6 942.2,546.6 942.3,546.6 942.5,546.6 942.7,546.6 942.9,546.6 943.1,546.6 943.2,546.6 943.4,546.6 943.6,546.6 943.8,546.6 943.9,546.6 944.1,546.6 944.3,546.6 944.5,546.6 944.7,546.6 944.8,546.6 945.0,546.4 945.2,546.1 945.4,546.0 945.5,546.3 945.7,546.6 945.9,546.6 946.1,546.6 946.3,546.6 946.4,546.6 946.6,545.0 946.8,542.7 947.0,543.1 947.1,546.2 947.3,548.1 947.5,546.7 947.7,546.6 947.9,546.6 948.0,546.6 948.2,546.6 948.4,546.6 948.6,546.3 948.7,545.8 948.9,545.4 949.1,545.4 949.3,545.6 949.5,546.1 949.6,546.6 949.8,546.7 950.0,546.7 950.2,546.7 950.3,546.7 950.5,546.7 950.7,546.7 950.9,546.7 951.1,546.7 951.2,546.7 951.4,546.7 951.6,546.7 951.8,546.7 951.9,546.7 952.1,546.7 952.3,546.7 952.5,546.7 952.7,546.7 952.8,546.6 953.0,546.2 953.2,546.0 953.4,546.2 953.5,546.6 953.7,546.7 953.9,546.7 954.1,546.7 954.3,546.7 954.4,545.8 954.6,543.5 954.8,542.0 955.0,545.2 955.1,548.3 955.3,547.2 955.5,546.7 955.7,546.7 955.8,546.7 956.0,546.7 956.2,546.7 956.4,546.5 956.6,545.9 956.7,545.5 956.9,545.4 957.1,545.5 957.3,545.9 957.4,546.5 957.6,546.7 957.8,546.7 958.0,546.7 958.2,546.7 958.3,546.7 958.5,546.7 958.7,546.7" fill="none" stroke="#236e33" stroke-width="0.8" opacity="0.95"/>
<polygon points="935.1,542.1 935.3,542.1 935.3,549.2 935.1,549.2" fill="#236e33" opacity="0.7"/>
<polyline points="935.1,562.9 935.3,561.5 935.6,560.1 935.9,558.7 936.2,557.3 936.5,555.9 936.8,554.5 937.1,553.4 937.4,553.9 937.7,554.4 937.9,554.9 938.2,555.4 938.5,555.9 938.8,556.1 939.1,556.1 939.4,556.2 939.7,556.8 940.0,557.7 940.3,558.5 940.5,559.1 940.8,559.5 941.1,559.9 941.4,560.3 941.7,560.7 942.0,561.1 942.3,561.4 942.6,561.8 942.9,562.1 943.1,562.4 943.4,562.6 943.7,562.8 944.0,563.0 944.3,561.6 944.6,560.2 944.9,558.8 945.2,557.4 945.5,556.0 945.8,554.5 946.0,553.5 946.3,554.0 946.6,554.5 946.9,555.0 947.2,555.5 947.5,555.9 947.8,556.2 948.1,556.2 948.3,556.3 948.6,556.8 948.9,557.8 949.2,558.6 949.5,559.1 949.8,559.6 950.1,560.0 950.4,560.4 950.7,560.8 950.9,561.1 951.2,561.5 951.5,561.8 951.8,562.1 952.1,562.4 952.4,562.7 952.7,562.9 953.0,563.1 953.3,561.7 953.5,560.3 953.8,558.8 954.1,557.4 954.4,556.0 954.7,554.6 955.0,553.5 955.3,554.0 955.6,554.6 955.9,555.1 956.2,555.5 956.4,556.0 956.7,556.2 957.0,556.3 957.3,556.3 957.6,556.9 957.9,557.8 958.2,558.6 958.5,559.2 958.7,559.7 959.0,560.1 959.3,560.5 959.6,560.8 959.9,561.2 960.2,561.6 960.5,561.9 960.8,562.2 961.1,562.5 961.3,562.8 961.6,563.0 961.9,563.2" fill="none" stroke="#1f7d77" stroke-width="0.9" opacity="0.95" stroke-linejoin="round"/>
<polygon points="935.1,552.4 937.8,552.4 937.8,553.7 935.1,553.6" fill="#1f7d77" opacity="0.9"/>
<polygon points="959.2,540.9 961.0,540.9 961.0,543.2 959.2,543.1" fill="#e8e8e8" opacity="0.9"/>
<polygon points="963.8,548.7 966.6,548.7 966.6,550.6 963.8,550.6" fill="#e6d84a" opacity="0.9"/>
<polygon points="963.8,554.5 966.6,554.5 966.6,556.4 963.8,556.4" fill="#e8e8e8" opacity="0.9"/>
<polygon points="964.7,560.9 967.5,560.9 967.5,562.6 964.7,562.5" fill="#8fd8e0" opacity="0.7"/>
<text x="969.8" y="544.8" font-size="6.2" font-weight="bold" fill="#86cf2e" text-anchor="start" opacity="1" textLength="5.4" lengthAdjust="spacingAndGlyphs">75</text>
<text x="969.8" y="552.6" font-size="5.6" font-weight="bold" fill="#efd92f" text-anchor="start" opacity="1" textLength="4.6" lengthAdjust="spacingAndGlyphs">16</text>
<polygon points="968.4,555.1 978.6,555.2 978.6,556.8 968.4,556.7" fill="#bbbbbb" opacity="0.55"/>
<text x="969.8" y="563.9" font-size="6" font-weight="bold" fill="#55c4ea" text-anchor="start" opacity="1" textLength="5.4" lengthAdjust="spacingAndGlyphs">98</text>
<polygon points="981.1,533.2 1027.9,533.3 1027.9,533.6 981.1,533.6" fill="#3a3a3a" opacity="0.8"/>
<polygon points="982.0,534.2 995.1,534.2 995.1,536.9 982.0,536.9" fill="#3c3c3c" opacity="0.9"/>
<polygon points="982.2,534.5 983.9,534.5 983.9,536.6 982.2,536.6" fill="#d8d8d8" opacity="0.9"/>
<polygon points="989.0,534.8 992.8,534.8 992.8,536.5 989.0,536.4" fill="#cfcfcf" opacity="0.8"/>
<polyline points="982.9,546.8 983.1,546.8 983.3,546.8 983.5,546.8 983.6,546.8 983.8,546.8 984.0,546.8 984.2,546.8 984.4,546.8 984.5,546.8 984.7,546.8 984.9,546.8 985.1,546.4 985.3,546.2 985.4,546.3 985.6,546.6 985.8,546.8 986.0,546.8 986.2,546.8 986.3,546.8 986.5,546.7 986.7,544.4 986.9,542.0 987.1,544.3 987.2,547.4 987.4,547.8 987.6,546.8 987.8,546.8 988.0,546.8 988.1,546.8 988.3,546.8 988.5,546.8 988.7,546.3 988.9,545.8 989.0,545.5 989.2,545.6 989.4,545.9 989.6,546.4 989.8,546.8 989.9,546.8 990.1,546.8 990.3,546.8 990.5,546.8 990.7,546.8 990.8,546.8 991.0,546.8 991.2,546.8 991.4,546.8 991.6,546.8 991.7,546.8 991.9,546.8 992.1,546.8 992.3,546.8 992.4,546.8 992.6,546.8 992.8,546.8 993.0,546.6 993.2,546.3 993.3,546.2 993.5,546.5 993.7,546.8 993.9,546.9 994.1,546.9 994.2,546.9 994.4,546.9 994.6,545.2 994.8,542.8 995.0,543.2 995.1,546.4 995.3,548.3 995.5,546.9 995.7,546.9 995.9,546.9 996.0,546.9 996.2,546.9 996.4,546.9 996.6,546.5 996.8,546.0 996.9,545.6 997.1,545.6 997.3,545.8 997.5,546.3 997.7,546.9 997.8,546.9 998.0,546.9 998.2,546.9 998.4,546.9 998.6,546.9 998.7,546.9 998.9,546.9 999.1,546.9 999.3,546.9 999.5,546.9 999.6,546.9 999.8,546.9 1000.0,546.9 1000.2,546.9 1000.4,546.9 1000.5,546.9 1000.7,546.9 1000.9,546.8 1001.1,546.4 1001.3,546.3 1001.4,546.4 1001.6,546.8 1001.8,546.9 1002.0,546.9 1002.1,546.9 1002.3,546.9 1002.5,546.0 1002.7,543.6 1002.9,542.2 1003.0,545.4 1003.2,548.6 1003.4,547.4 1003.6,546.9 1003.8,546.9 1003.9,546.9 1004.1,546.9 1004.3,546.9 1004.5,546.7 1004.7,546.1 1004.8,545.7 1005.0,545.6 1005.2,545.7 1005.4,546.1 1005.6,546.7 1005.7,546.9 1005.9,546.9 1006.1,546.9 1006.3,546.9 1006.5,546.9 1006.6,546.9 1006.8,546.9" fill="none" stroke="#236e33" stroke-width="0.8" opacity="0.95"/>
<polygon points="982.9,542.3 983.2,542.3 983.2,549.4 982.9,549.4" fill="#236e33" opacity="0.7"/>
<polyline points="982.9,563.3 983.2,561.9 983.5,560.5 983.8,559.1 984.1,557.6 984.4,556.2 984.7,554.8 985.0,553.7 985.3,554.2 985.5,554.7 985.8,555.3 986.1,555.7 986.4,556.2 986.7,556.4 987.0,556.5 987.3,556.5 987.6,557.1 987.9,558.1 988.2,558.9 988.5,559.4 988.8,559.9 989.0,560.3 989.3,560.7 989.6,561.1 989.9,561.4 990.2,561.8 990.5,562.1 990.8,562.5 991.1,562.7 991.4,563.0 991.7,563.2 992.0,563.4 992.3,562.0 992.5,560.5 992.8,559.1 993.1,557.7 993.4,556.3 993.7,554.8 994.0,553.8 994.3,554.3 994.6,554.8 994.9,555.3 995.2,555.8 995.5,556.2 995.8,556.5 996.1,556.5 996.3,556.6 996.6,557.2 996.9,558.1 997.2,558.9 997.5,559.5 997.8,559.9 998.1,560.4 998.4,560.8 998.7,561.1 999.0,561.5 999.3,561.9 999.6,562.2 999.8,562.5 1000.1,562.8 1000.4,563.1 1000.7,563.3 1001.0,563.5 1001.3,562.0 1001.6,560.6 1001.9,559.2 1002.2,557.8 1002.5,556.3 1002.8,554.9 1003.1,553.8 1003.4,554.3 1003.7,554.9 1003.9,555.4 1004.2,555.9 1004.5,556.3 1004.8,556.6 1005.1,556.6 1005.4,556.7 1005.7,557.2 1006.0,558.2 1006.3,559.0 1006.6,559.6 1006.9,560.0 1007.1,560.4 1007.4,560.8 1007.7,561.2 1008.0,561.6 1008.3,561.9 1008.6,562.3 1008.9,562.6 1009.2,562.9 1009.5,563.2 1009.8,563.4 1010.1,563.5" fill="none" stroke="#1f7d77" stroke-width="0.9" opacity="0.95" stroke-linejoin="round"/>
<polygon points="982.9,552.6 985.7,552.6 985.7,553.9 982.9,553.9" fill="#1f7d77" opacity="0.9"/>
<polygon points="1007.3,541.0 1009.2,541.1 1009.2,543.3 1007.3,543.3" fill="#e8e8e8" opacity="0.9"/>
<polygon points="1006.8,540.7 1009.6,540.7 1009.6,544.0 1006.8,544.0" fill="#e02030" opacity="1"/>
<polygon points="1012.0,548.9 1014.8,548.9 1014.8,550.9 1012.0,550.8" fill="#e6d84a" opacity="0.9"/>
<polygon points="1012.0,554.8 1014.8,554.8 1014.8,556.7 1011.9,556.7" fill="#e8e8e8" opacity="0.9"/>
<polygon points="1012.9,561.3 1015.7,561.3 1015.7,562.9 1012.9,562.9" fill="#8fd8e0" opacity="0.7"/>
<text x="1018.1" y="545.0" font-size="6.2" font-weight="bold" fill="#86cf2e" text-anchor="start" opacity="1" textLength="5.4" lengthAdjust="spacingAndGlyphs">78</text>
<text x="1018.0" y="552.8" font-size="5.6" font-weight="bold" fill="#efd92f" text-anchor="start" opacity="1" textLength="4.6" lengthAdjust="spacingAndGlyphs">16</text>
<polygon points="1016.6,555.4 1026.9,555.5 1026.9,557.1 1016.6,557.1" fill="#bbbbbb" opacity="0.55"/>
<text x="1018.0" y="564.3" font-size="6" font-weight="bold" fill="#55c4ea" text-anchor="start" opacity="1" textLength="5.4" lengthAdjust="spacingAndGlyphs">92</text>
<polygon points="933.2,565.9 979.5,566.4 979.5,566.7 933.2,566.3" fill="#3a3a3a" opacity="0.8"/>
<polygon points="934.1,566.9 947.1,567.0 947.1,569.8 934.1,569.6" fill="#3c3c3c" opacity="0.9"/>
<polygon points="934.4,567.2 936.0,567.3 936.0,569.3 934.4,569.3" fill="#d8d8d8" opacity="0.9"/>
<polygon points="941.1,567.6 944.8,567.7 944.8,569.3 941.1,569.2" fill="#cfcfcf" opacity="0.8"/>
<polyline points="935.1,579.5 935.2,579.5 935.4,579.5 935.6,579.5 935.8,579.5 935.9,579.5 936.1,579.5 936.3,579.5 936.5,579.5 936.7,579.5 936.8,579.5 937.0,579.5 937.2,579.1 937.4,578.9 937.5,579.0 937.7,579.3 937.9,579.5 938.1,579.5 938.3,579.5 938.4,579.5 938.6,579.4 938.8,577.1 939.0,574.8 939.1,577.0 939.3,580.1 939.5,580.5 939.7,579.5 939.9,579.5 940.0,579.5 940.2,579.5 940.4,579.5 940.6,579.5 940.7,579.0 940.9,578.5 941.1,578.3 941.3,578.3 941.4,578.6 941.6,579.1 941.8,579.6 942.0,579.6 942.2,579.6 942.3,579.6 942.5,579.6 942.7,579.6 942.9,579.6 943.0,579.6 943.2,579.6 943.4,579.6 943.6,579.6 943.8,579.6 943.9,579.6 944.1,579.6 944.3,579.6 944.5,579.6 944.6,579.6 944.8,579.6 945.0,579.3 945.2,579.0 945.4,579.0 945.5,579.2 945.7,579.6 945.9,579.6 946.1,579.6 946.2,579.6 946.4,579.6 946.6,577.9 946.8,575.6 947.0,576.0 947.1,579.2 947.3,581.0 947.5,579.7 947.7,579.6 947.8,579.6 948.0,579.6 948.2,579.6 948.4,579.6 948.5,579.3 948.7,578.7 948.9,578.4 949.1,578.4 949.3,578.6 949.4,579.0 949.6,579.6 949.8,579.6 950.0,579.7 950.1,579.7 950.3,579.7 950.5,579.7 950.7,579.7 950.9,579.7 951.0,579.7 951.2,579.7 951.4,579.7 951.6,579.7 951.7,579.7 951.9,579.7 952.1,579.7 952.3,579.7 952.5,579.7 952.6,579.7 952.8,579.6 953.0,579.2 953.2,579.1 953.3,579.2 953.5,579.6 953.7,579.7 953.9,579.7 954.1,579.7 954.2,579.7 954.4,578.8 954.6,576.5 954.8,575.1 954.9,578.2 955.1,581.4 955.3,580.2 955.5,579.7 955.7,579.7 955.8,579.7 956.0,579.7 956.2,579.7 956.4,579.5 956.5,579.0 956.7,578.6 956.9,578.4 957.1,578.6 957.2,579.0 957.4,579.5 957.6,579.7 957.8,579.7 958.0,579.7 958.1,579.7 958.3,579.8 958.5,579.8 958.7,579.8" fill="none" stroke="#236e33" stroke-width="0.8" opacity="0.95"/>
<polygon points="935.1,575.0 935.3,575.0 935.3,582.0 935.1,582.0" fill="#236e33" opacity="0.7"/>
<polyline points="935.1,595.9 935.3,594.5 935.6,593.1 935.9,591.7 936.2,590.2 936.5,588.8 936.8,587.4 937.1,586.4 937.4,586.9 937.7,587.4 937.9,587.9 938.2,588.4 938.5,588.8 938.8,589.1 939.1,589.1 939.4,589.2 939.7,589.8 940.0,590.7 940.3,591.5 940.5,592.1 940.8,592.5 941.1,592.9 941.4,593.3 941.7,593.7 942.0,594.1 942.3,594.4 942.6,594.8 942.8,595.1 943.1,595.4 943.4,595.6 943.7,595.9 944.0,596.0 944.3,594.6 944.6,593.2 944.9,591.8 945.2,590.4 945.4,589.0 945.7,587.5 946.0,586.5 946.3,587.0 946.6,587.5 946.9,588.0 947.2,588.5 947.5,588.9 947.8,589.2 948.0,589.2 948.3,589.3 948.6,589.9 948.9,590.8 949.2,591.6 949.5,592.2 949.8,592.6 950.1,593.0 950.4,593.4 950.6,593.8 950.9,594.2 951.2,594.6 951.5,594.9 951.8,595.2 952.1,595.5 952.4,595.8 952.7,596.0 952.9,596.2 953.2,594.7 953.5,593.3 953.8,591.9 954.1,590.5 954.4,589.1 954.7,587.7 955.0,586.6 955.3,587.1 955.6,587.6 955.8,588.1 956.1,588.6 956.4,589.1 956.7,589.3 957.0,589.3 957.3,589.4 957.6,590.0 957.9,590.9 958.1,591.8 958.4,592.3 958.7,592.8 959.0,593.2 959.3,593.6 959.6,594.0 959.9,594.3 960.2,594.7 960.5,595.0 960.7,595.4 961.0,595.6 961.3,595.9 961.6,596.1 961.9,596.3" fill="none" stroke="#1f7d77" stroke-width="0.9" opacity="0.95" stroke-linejoin="round"/>
<polygon points="935.1,585.3 937.8,585.3 937.8,586.6 935.1,586.6" fill="#1f7d77" opacity="0.9"/>
<polygon points="959.1,573.9 961.0,574.0 961.0,576.2 959.1,576.2" fill="#e8e8e8" opacity="0.9"/>
<polygon points="963.8,581.8 966.5,581.8 966.5,583.7 963.8,583.7" fill="#e6d84a" opacity="0.9"/>
<polygon points="963.8,587.6 966.5,587.6 966.5,589.6 963.8,589.5" fill="#e8e8e8" opacity="0.9"/>
<polygon points="964.7,594.1 967.4,594.1 967.4,595.7 964.7,595.7" fill="#8fd8e0" opacity="0.7"/>
<text x="969.8" y="577.9" font-size="6.2" font-weight="bold" fill="#86cf2e" text-anchor="start" opacity="1" textLength="5.4" lengthAdjust="spacingAndGlyphs">76</text>
<text x="969.8" y="585.7" font-size="5.6" font-weight="bold" fill="#efd92f" text-anchor="start" opacity="1" textLength="4.6" lengthAdjust="spacingAndGlyphs">14</text>
<polygon points="968.4,588.3 978.6,588.4 978.6,590.1 968.4,589.9" fill="#bbbbbb" opacity="0.55"/>
<text x="969.8" y="597.1" font-size="6" font-weight="bold" fill="#55c4ea" text-anchor="start" opacity="1" textLength="5.4" lengthAdjust="spacingAndGlyphs">99</text>
<polygon points="969.3,579.9 973.9,579.9 973.9,582.5 969.3,582.5" fill="#355fc4" opacity="0.9"/>
<polygon points="981.0,566.4 1027.8,566.8 1027.8,567.2 981.0,566.8" fill="#3a3a3a" opacity="0.8"/>
<polygon points="982.0,567.4 995.1,567.5 995.1,570.2 982.0,570.1" fill="#3c3c3c" opacity="0.9"/>
<polygon points="982.2,567.7 983.8,567.7 983.8,569.8 982.2,569.8" fill="#d8d8d8" opacity="0.9"/>
<polygon points="989.0,568.1 992.7,568.1 992.7,569.7 989.0,569.7" fill="#cfcfcf" opacity="0.8"/>
<polyline points="982.9,580.0 983.1,580.0 983.2,580.1 983.4,580.1 983.6,580.1 983.8,580.1 984.0,580.1 984.1,580.1 984.3,580.1 984.5,580.1 984.7,580.1 984.9,580.1 985.0,579.7 985.2,579.5 985.4,579.5 985.6,579.9 985.8,580.1 985.9,580.1 986.1,580.1 986.3,580.1 986.5,580.0 986.7,577.6 986.8,575.3 987.0,577.5 987.2,580.7 987.4,581.1 987.5,580.1 987.7,580.1 987.9,580.1 988.1,580.1 988.3,580.1 988.4,580.1 988.6,579.5 988.8,579.1 989.0,578.8 989.2,578.9 989.3,579.2 989.5,579.7 989.7,580.1 989.9,580.1 990.1,580.1 990.2,580.1 990.4,580.1 990.6,580.1 990.8,580.1 991.0,580.1 991.1,580.1 991.3,580.1 991.5,580.1 991.7,580.2 991.9,580.2 992.0,580.2 992.2,580.2 992.4,580.2 992.6,580.2 992.8,580.2 992.9,579.9 993.1,579.6 993.3,579.6 993.5,579.8 993.6,580.2 993.8,580.2 994.0,580.2 994.2,580.2 994.4,580.2 994.5,578.5 994.7,576.1 994.9,576.6 995.1,579.7 995.3,581.6 995.4,580.3 995.6,580.2 995.8,580.2 996.0,580.2 996.2,580.2 996.3,580.2 996.5,579.8 996.7,579.3 996.9,579.0 997.1,578.9 997.2,579.2 997.4,579.6 997.6,580.2 997.8,580.2 998.0,580.2 998.1,580.2 998.3,580.2 998.5,580.2 998.7,580.2 998.9,580.2 999.0,580.2 999.2,580.2 999.4,580.2 999.6,580.2 999.8,580.2 999.9,580.3 1000.1,580.3 1000.3,580.3 1000.5,580.3 1000.6,580.3 1000.8,580.2 1001.0,579.8 1001.2,579.6 1001.4,579.8 1001.5,580.2 1001.7,580.3 1001.9,580.3 1002.1,580.3 1002.3,580.3 1002.4,579.4 1002.6,577.0 1002.8,575.6 1003.0,578.8 1003.2,582.0 1003.3,580.8 1003.5,580.3 1003.7,580.3 1003.9,580.3 1004.1,580.3 1004.2,580.3 1004.4,580.1 1004.6,579.6 1004.8,579.2 1005.0,579.0 1005.1,579.1 1005.3,579.5 1005.5,580.1 1005.7,580.3 1005.9,580.3 1006.0,580.3 1006.2,580.3 1006.4,580.3 1006.6,580.3 1006.7,580.3" fill="none" stroke="#236e33" stroke-width="0.8" opacity="0.95"/>
<polygon points="982.9,575.5 983.1,575.5 983.1,582.7 982.9,582.6" fill="#236e33" opacity="0.7"/>
<polyline points="982.9,596.6 983.2,595.2 983.4,593.8 983.7,592.4 984.0,590.9 984.3,589.5 984.6,588.1 984.9,587.0 985.2,587.5 985.5,588.0 985.8,588.6 986.1,589.0 986.4,589.5 986.7,589.8 987.0,589.8 987.2,589.8 987.5,590.4 987.8,591.4 988.1,592.2 988.4,592.8 988.7,593.2 989.0,593.6 989.3,594.0 989.6,594.4 989.9,594.8 990.2,595.2 990.4,595.5 990.7,595.8 991.0,596.1 991.3,596.4 991.6,596.6 991.9,596.8 992.2,595.3 992.5,593.9 992.8,592.5 993.1,591.1 993.4,589.6 993.7,588.2 994.0,587.1 994.3,587.6 994.5,588.2 994.8,588.7 995.1,589.2 995.4,589.6 995.7,589.9 996.0,589.9 996.3,590.0 996.6,590.6 996.9,591.5 997.2,592.3 997.5,592.9 997.7,593.4 998.0,593.8 998.3,594.2 998.6,594.6 998.9,594.9 999.2,595.3 999.5,595.6 999.8,596.0 1000.1,596.3 1000.4,596.5 1000.7,596.8 1000.9,596.9 1001.2,595.5 1001.5,594.1 1001.8,592.6 1002.1,591.2 1002.4,589.8 1002.7,588.3 1003.0,587.2 1003.3,587.8 1003.6,588.3 1003.9,588.8 1004.2,589.3 1004.5,589.7 1004.8,590.0 1005.0,590.0 1005.3,590.1 1005.6,590.7 1005.9,591.6 1006.2,592.5 1006.5,593.0 1006.8,593.5 1007.1,593.9 1007.4,594.3 1007.7,594.7 1008.0,595.1 1008.2,595.4 1008.5,595.8 1008.8,596.1 1009.1,596.4 1009.4,596.7 1009.7,596.9 1010.0,597.1" fill="none" stroke="#1f7d77" stroke-width="0.9" opacity="0.95" stroke-linejoin="round"/>
<polygon points="982.9,585.9 985.7,585.9 985.7,587.2 982.9,587.2" fill="#1f7d77" opacity="0.9"/>
<polygon points="1007.2,574.4 1009.1,574.5 1009.1,576.8 1007.2,576.7" fill="#e8e8e8" opacity="0.9"/>
<polygon points="1011.9,582.4 1014.7,582.4 1014.7,584.4 1011.9,584.3" fill="#e6d84a" opacity="0.9"/>
<polygon points="1011.9,588.3 1014.7,588.3 1014.7,590.3 1011.9,590.2" fill="#e8e8e8" opacity="0.9"/>
<polygon points="1012.8,594.8 1015.6,594.9 1015.6,596.5 1012.8,596.5" fill="#8fd8e0" opacity="0.7"/>
<text x="1018.0" y="578.5" font-size="6.2" font-weight="bold" fill="#86cf2e" text-anchor="start" opacity="1" textLength="5.4" lengthAdjust="spacingAndGlyphs">76</text>
<text x="1018.0" y="586.4" font-size="5.6" font-weight="bold" fill="#efd92f" text-anchor="start" opacity="1" textLength="4.6" lengthAdjust="spacingAndGlyphs">14</text>
<polygon points="1016.6,589.0 1026.8,589.1 1026.8,590.8 1016.6,590.6" fill="#bbbbbb" opacity="0.55"/>
<text x="1017.9" y="597.8" font-size="6" font-weight="bold" fill="#55c4ea" text-anchor="start" opacity="1" textLength="5.4" lengthAdjust="spacingAndGlyphs">95</text>
<polygon points="933.2,598.9 979.5,599.6 979.5,600.0 933.2,599.3" fill="#3a3a3a" opacity="0.8"/>
<polygon points="934.1,599.9 947.1,600.1 947.1,602.8 934.1,602.6" fill="#3c3c3c" opacity="0.9"/>
<polygon points="934.4,600.2 936.0,600.2 936.0,602.3 934.4,602.2" fill="#d8d8d8" opacity="0.9"/>
<polygon points="941.1,600.6 944.8,600.7 944.8,602.3 941.1,602.2" fill="#cfcfcf" opacity="0.8"/>
<polyline points="935.1,612.3 935.2,612.3 935.4,612.3 935.6,612.3 935.8,612.3 935.9,612.3 936.1,612.3 936.3,612.3 936.5,612.3 936.7,612.3 936.8,612.3 937.0,612.3 937.2,611.9 937.4,611.7 937.5,611.8 937.7,612.1 937.9,612.3 938.1,612.3 938.2,612.3 938.4,612.3 938.6,612.2 938.8,609.9 939.0,607.6 939.1,609.8 939.3,612.9 939.5,613.3 939.7,612.4 939.8,612.4 940.0,612.4 940.2,612.4 940.4,612.4 940.6,612.4 940.7,611.8 940.9,611.4 941.1,611.1 941.3,611.2 941.4,611.5 941.6,612.0 941.8,612.4 942.0,612.4 942.1,612.4 942.3,612.4 942.5,612.4 942.7,612.4 942.9,612.4 943.0,612.4 943.2,612.4 943.4,612.4 943.6,612.4 943.7,612.4 943.9,612.4 944.1,612.4 944.3,612.5 944.5,612.5 944.6,612.5 944.8,612.5 945.0,612.2 945.2,611.9 945.3,611.9 945.5,612.1 945.7,612.5 945.9,612.5 946.1,612.5 946.2,612.5 946.4,612.5 946.6,610.8 946.8,608.5 946.9,609.0 947.1,612.1 947.3,613.9 947.5,612.6 947.6,612.5 947.8,612.5 948.0,612.5 948.2,612.5 948.4,612.5 948.5,612.2 948.7,611.6 948.9,611.3 949.1,611.3 949.2,611.5 949.4,612.0 949.6,612.5 949.8,612.6 950.0,612.6 950.1,612.6 950.3,612.6 950.5,612.6 950.7,612.6 950.8,612.6 951.0,612.6 951.2,612.6 951.4,612.6 951.5,612.6 951.7,612.6 951.9,612.6 952.1,612.6 952.3,612.6 952.4,612.6 952.6,612.6 952.8,612.5 953.0,612.1 953.1,612.0 953.3,612.2 953.5,612.6 953.7,612.6 953.9,612.6 954.0,612.6 954.2,612.6 954.4,611.8 954.6,609.5 954.7,608.1 954.9,611.2 955.1,614.3 955.3,613.2 955.5,612.7 955.6,612.7 955.8,612.7 956.0,612.7 956.2,612.7 956.3,612.5 956.5,612.0 956.7,611.6 956.9,611.4 957.0,611.6 957.2,611.9 957.4,612.5 957.6,612.7 957.8,612.7 957.9,612.7 958.1,612.7 958.3,612.7 958.5,612.7 958.6,612.7" fill="none" stroke="#236e33" stroke-width="0.8" opacity="0.95"/>
<polygon points="935.1,607.8 935.3,607.8 935.3,614.8 935.1,614.8" fill="#236e33" opacity="0.7"/>
<polyline points="935.1,628.5 935.3,627.1 935.6,625.7 935.9,624.3 936.2,622.9 936.5,621.5 936.8,620.1 937.1,619.1 937.4,619.6 937.7,620.1 937.9,620.6 938.2,621.1 938.5,621.5 938.8,621.8 939.1,621.8 939.4,621.9 939.7,622.5 940.0,623.4 940.2,624.2 940.5,624.7 940.8,625.2 941.1,625.6 941.4,626.0 941.7,626.4 942.0,626.7 942.3,627.1 942.6,627.4 942.8,627.7 943.1,628.0 943.4,628.3 943.7,628.5 944.0,628.7 944.3,627.3 944.6,625.9 944.9,624.5 945.1,623.1 945.4,621.7 945.7,620.3 946.0,619.3 946.3,619.8 946.6,620.3 946.9,620.8 947.2,621.3 947.5,621.7 947.7,622.0 948.0,622.0 948.3,622.1 948.6,622.7 948.9,623.6 949.2,624.4 949.5,624.9 949.8,625.4 950.0,625.8 950.3,626.2 950.6,626.6 950.9,626.9 951.2,627.3 951.5,627.6 951.8,627.9 952.1,628.2 952.4,628.5 952.6,628.7 952.9,628.9 953.2,627.5 953.5,626.1 953.8,624.7 954.1,623.3 954.4,621.9 954.7,620.5 955.0,619.5 955.2,620.0 955.5,620.5 955.8,621.0 956.1,621.5 956.4,621.9 956.7,622.2 957.0,622.2 957.3,622.3 957.5,622.8 957.8,623.8 958.1,624.6 958.4,625.1 958.7,625.6 959.0,626.0 959.3,626.4 959.6,626.8 959.9,627.1 960.1,627.5 960.4,627.8 960.7,628.2 961.0,628.4 961.3,628.7 961.6,628.9 961.9,629.1" fill="none" stroke="#1f7d77" stroke-width="0.9" opacity="0.95" stroke-linejoin="round"/>
<polygon points="935.1,618.0 937.8,618.1 937.8,619.3 935.1,619.3" fill="#1f7d77" opacity="0.9"/>
<polygon points="959.1,607.0 961.0,607.0 961.0,609.3 959.1,609.2" fill="#e8e8e8" opacity="0.9"/>
<polygon points="963.7,614.7 966.5,614.8 966.5,616.7 963.7,616.7" fill="#e6d84a" opacity="0.9"/>
<polygon points="963.7,620.5 966.5,620.6 966.5,622.5 963.7,622.4" fill="#e8e8e8" opacity="0.9"/>
<polygon points="964.6,626.9 967.4,627.0 967.4,628.6 964.6,628.5" fill="#8fd8e0" opacity="0.7"/>
<text x="969.7" y="611.0" font-size="6.2" font-weight="bold" fill="#86cf2e" text-anchor="start" opacity="1" textLength="5.4" lengthAdjust="spacingAndGlyphs">65</text>
<text x="969.7" y="618.7" font-size="5.6" font-weight="bold" fill="#efd92f" text-anchor="start" opacity="1" textLength="4.6" lengthAdjust="spacingAndGlyphs">16</text>
<polygon points="968.3,621.2 978.5,621.5 978.5,623.1 968.3,622.8" fill="#bbbbbb" opacity="0.55"/>
<text x="969.7" y="629.9" font-size="6" font-weight="bold" fill="#55c4ea" text-anchor="start" opacity="1" textLength="5.4" lengthAdjust="spacingAndGlyphs">98</text>
<polygon points="981.0,599.7 1027.8,600.4 1027.8,600.8 981.0,600.1" fill="#3a3a3a" opacity="0.8"/>
<polygon points="981.9,600.7 995.0,600.9 995.0,603.6 981.9,603.4" fill="#3c3c3c" opacity="0.9"/>
<polygon points="982.2,601.0 983.8,601.0 983.8,603.1 982.1,603.1" fill="#d8d8d8" opacity="0.9"/>
<polygon points="988.9,601.4 992.7,601.5 992.7,603.1 988.9,603.0" fill="#cfcfcf" opacity="0.8"/>
<polyline points="982.8,613.2 983.0,613.2 983.2,613.2 983.4,613.2 983.6,613.2 983.7,613.2 983.9,613.2 984.1,613.2 984.3,613.2 984.4,613.2 984.6,613.2 984.8,613.2 985.0,612.9 985.2,612.6 985.3,612.7 985.5,613.0 985.7,613.3 985.9,613.3 986.1,613.3 986.2,613.3 986.4,613.2 986.6,610.8 986.8,608.5 987.0,610.7 987.1,613.9 987.3,614.3 987.5,613.3 987.7,613.3 987.9,613.3 988.0,613.3 988.2,613.3 988.4,613.3 988.6,612.7 988.8,612.3 988.9,612.1 989.1,612.1 989.3,612.4 989.5,612.9 989.6,613.3 989.8,613.3 990.0,613.3 990.2,613.3 990.4,613.3 990.5,613.4 990.7,613.4 990.9,613.4 991.1,613.4 991.3,613.4 991.4,613.4 991.6,613.4 991.8,613.4 992.0,613.4 992.2,613.4 992.3,613.4 992.5,613.4 992.7,613.4 992.9,613.1 993.1,612.8 993.2,612.8 993.4,613.1 993.6,613.4 993.8,613.4 993.9,613.4 994.1,613.4 994.3,613.4 994.5,611.8 994.7,609.4 994.9,609.8 995.0,613.0 995.2,614.9 995.4,613.5 995.6,613.4 995.7,613.5 995.9,613.5 996.1,613.5 996.3,613.5 996.5,613.1 996.6,612.6 996.8,612.3 997.0,612.2 997.2,612.4 997.4,612.9 997.5,613.5 997.7,613.5 997.9,613.5 998.1,613.5 998.3,613.5 998.4,613.5 998.6,613.5 998.8,613.5 999.0,613.5 999.1,613.5 999.3,613.5 999.5,613.5 999.7,613.5 999.9,613.5 1000.0,613.5 1000.2,613.5 1000.4,613.5 1000.6,613.5 1000.8,613.4 1000.9,613.1 1001.1,612.9 1001.3,613.1 1001.5,613.5 1001.7,613.6 1001.8,613.6 1002.0,613.6 1002.2,613.6 1002.4,612.7 1002.6,610.4 1002.7,608.9 1002.9,612.1 1003.1,615.2 1003.3,614.1 1003.5,613.6 1003.6,613.6 1003.8,613.6 1004.0,613.6 1004.2,613.6 1004.3,613.4 1004.5,612.9 1004.7,612.5 1004.9,612.3 1005.1,612.5 1005.2,612.9 1005.4,613.4 1005.6,613.6 1005.8,613.6 1006.0,613.7 1006.1,613.7 1006.3,613.7 1006.5,613.7 1006.7,613.7" fill="none" stroke="#236e33" stroke-width="0.8" opacity="0.95"/>
<polygon points="982.8,608.7 983.1,608.7 983.1,615.8 982.8,615.8" fill="#236e33" opacity="0.7"/>
<polyline points="982.8,629.6 983.1,628.2 983.4,626.8 983.7,625.4 984.0,624.0 984.3,622.6 984.6,621.1 984.9,620.1 985.2,620.6 985.4,621.1 985.7,621.6 986.0,622.1 986.3,622.6 986.6,622.8 986.9,622.8 987.2,622.9 987.5,623.5 987.8,624.4 988.1,625.2 988.4,625.8 988.6,626.3 988.9,626.7 989.2,627.1 989.5,627.5 989.8,627.8 990.1,628.2 990.4,628.5 990.7,628.8 991.0,629.1 991.3,629.4 991.6,629.6 991.8,629.8 992.1,628.4 992.4,627.0 992.7,625.6 993.0,624.2 993.3,622.7 993.6,621.3 993.9,620.3 994.2,620.8 994.5,621.3 994.8,621.8 995.1,622.3 995.4,622.7 995.6,623.0 995.9,623.0 996.2,623.1 996.5,623.7 996.8,624.6 997.1,625.4 997.4,626.0 997.7,626.5 998.0,626.9 998.3,627.3 998.6,627.7 998.8,628.0 999.1,628.4 999.4,628.7 999.7,629.0 1000.0,629.3 1000.3,629.6 1000.6,629.8 1000.9,630.0 1001.2,628.6 1001.5,627.2 1001.8,625.8 1002.1,624.4 1002.4,622.9 1002.6,621.5 1002.9,620.5 1003.2,621.0 1003.5,621.5 1003.8,622.0 1004.1,622.5 1004.4,622.9 1004.7,623.2 1005.0,623.2 1005.3,623.3 1005.6,623.9 1005.8,624.8 1006.1,625.6 1006.4,626.2 1006.7,626.7 1007.0,627.1 1007.3,627.5 1007.6,627.9 1007.9,628.2 1008.2,628.6 1008.5,628.9 1008.8,629.3 1009.0,629.6 1009.3,629.8 1009.6,630.1 1009.9,630.2" fill="none" stroke="#1f7d77" stroke-width="0.9" opacity="0.95" stroke-linejoin="round"/>
<polygon points="982.8,619.0 985.6,619.0 985.6,620.3 982.8,620.3" fill="#1f7d77" opacity="0.9"/>
<polygon points="1007.2,607.9 1009.0,607.9 1009.0,610.2 1007.2,610.1" fill="#e8e8e8" opacity="0.9"/>
<polygon points="1011.8,615.7 1014.6,615.8 1014.6,617.7 1011.8,617.6" fill="#e6d84a" opacity="0.9"/>
<polygon points="1011.8,621.5 1014.6,621.6 1014.6,623.5 1011.8,623.5" fill="#e8e8e8" opacity="0.9"/>
<polygon points="1012.7,628.0 1015.5,628.1 1015.5,629.7 1012.7,629.6" fill="#8fd8e0" opacity="0.7"/>
<text x="1017.9" y="611.9" font-size="6.2" font-weight="bold" fill="#86cf2e" text-anchor="start" opacity="1" textLength="5.4" lengthAdjust="spacingAndGlyphs">69</text>
<text x="1017.9" y="619.7" font-size="5.6" font-weight="bold" fill="#efd92f" text-anchor="start" opacity="1" textLength="4.6" lengthAdjust="spacingAndGlyphs">18</text>
<polygon points="1016.5,622.3 1026.8,622.5 1026.8,624.1 1016.5,623.9" fill="#bbbbbb" opacity="0.55"/>
<text x="1017.9" y="631.1" font-size="6" font-weight="bold" fill="#55c4ea" text-anchor="start" opacity="1" textLength="5.4" lengthAdjust="spacingAndGlyphs">93</text>
<polygon points="933.2,631.4 979.4,632.5 979.4,632.9 933.2,631.8" fill="#3a3a3a" opacity="0.8"/>
<polygon points="934.1,632.4 947.1,632.7 947.1,635.3 934.1,634.9" fill="#3c3c3c" opacity="0.9"/>
<polygon points="934.4,632.7 936.0,632.7 936.0,634.7 934.4,634.6" fill="#d8d8d8" opacity="0.9"/>
<polygon points="941.1,633.1 944.8,633.2 944.8,634.8 941.1,634.7" fill="#cfcfcf" opacity="0.8"/>
<polyline points="935.1,644.2 935.2,644.2 935.4,644.2 935.6,644.2 935.8,644.2 935.9,644.2 936.1,644.2 936.3,644.2 936.5,644.2 936.6,644.2 936.8,644.2 937.0,644.2 937.2,643.9 937.4,643.7 937.5,643.7 937.7,644.0 937.9,644.3 938.1,644.3 938.2,644.3 938.4,644.3 938.6,644.2 938.8,642.0 939.0,639.8 939.1,641.9 939.3,644.9 939.5,645.2 939.7,644.3 939.8,644.3 940.0,644.3 940.2,644.3 940.4,644.3 940.5,644.3 940.7,643.8 940.9,643.4 941.1,643.2 941.3,643.2 941.4,643.5 941.6,644.0 941.8,644.4 942.0,644.4 942.1,644.4 942.3,644.4 942.5,644.4 942.7,644.4 942.8,644.4 943.0,644.4 943.2,644.4 943.4,644.4 943.6,644.4 943.7,644.4 943.9,644.4 944.1,644.4 944.3,644.4 944.4,644.4 944.6,644.4 944.8,644.4 945.0,644.2 945.2,643.9 945.3,643.9 945.5,644.1 945.7,644.5 945.9,644.5 946.0,644.5 946.2,644.5 946.4,644.5 946.6,642.9 946.7,640.7 946.9,641.1 947.1,644.1 947.3,645.8 947.5,644.6 947.6,644.5 947.8,644.5 948.0,644.5 948.2,644.5 948.3,644.5 948.5,644.2 948.7,643.7 948.9,643.4 949.1,643.4 949.2,643.6 949.4,644.0 949.6,644.6 949.8,644.6 949.9,644.6 950.1,644.6 950.3,644.6 950.5,644.6 950.6,644.6 950.8,644.6 951.0,644.6 951.2,644.6 951.4,644.6 951.5,644.6 951.7,644.6 951.9,644.6 952.1,644.6 952.2,644.6 952.4,644.7 952.6,644.7 952.8,644.6 952.9,644.2 953.1,644.1 953.3,644.2 953.5,644.6 953.7,644.7 953.8,644.7 954.0,644.7 954.2,644.7 954.4,643.9 954.5,641.7 954.7,640.3 954.9,643.3 955.1,646.3 955.3,645.2 955.4,644.7 955.6,644.7 955.8,644.7 956.0,644.7 956.1,644.7 956.3,644.6 956.5,644.1 956.7,643.7 956.8,643.6 957.0,643.7 957.2,644.1 957.4,644.6 957.6,644.8 957.7,644.8 957.9,644.8 958.1,644.8 958.3,644.8 958.4,644.8 958.6,644.8" fill="none" stroke="#236e33" stroke-width="0.8" opacity="0.95"/>
<polygon points="935.1,640.0 935.3,640.0 935.3,646.6 935.1,646.6" fill="#236e33" opacity="0.7"/>
<polyline points="935.1,659.6 935.3,658.3 935.6,657.0 935.9,655.6 936.2,654.3 936.5,653.0 936.8,651.7 937.1,650.7 937.4,651.2 937.6,651.7 937.9,652.1 938.2,652.6 938.5,653.0 938.8,653.3 939.1,653.3 939.4,653.4 939.7,653.9 939.9,654.8 940.2,655.6 940.5,656.1 940.8,656.5 941.1,656.9 941.4,657.3 941.7,657.6 942.0,658.0 942.3,658.3 942.5,658.7 942.8,659.0 943.1,659.2 943.4,659.5 943.7,659.7 944.0,659.9 944.3,658.5 944.6,657.2 944.8,655.9 945.1,654.6 945.4,653.3 945.7,651.9 946.0,650.9 946.3,651.4 946.6,651.9 946.9,652.4 947.2,652.9 947.4,653.3 947.7,653.5 948.0,653.5 948.3,653.6 948.6,654.2 948.9,655.1 949.2,655.8 949.5,656.4 949.7,656.8 950.0,657.2 950.3,657.5 950.6,657.9 950.9,658.3 951.2,658.6 951.5,658.9 951.8,659.2 952.0,659.5 952.3,659.8 952.6,660.0 952.9,660.1 953.2,658.8 953.5,657.5 953.8,656.2 954.1,654.8 954.4,653.5 954.6,652.2 954.9,651.2 955.2,651.7 955.5,652.2 955.8,652.6 956.1,653.1 956.4,653.5 956.7,653.8 956.9,653.8 957.2,653.9 957.5,654.4 957.8,655.3 958.1,656.1 958.4,656.6 958.7,657.0 959.0,657.4 959.3,657.8 959.5,658.2 959.8,658.5 960.1,658.9 960.4,659.2 960.7,659.5 961.0,659.8 961.3,660.0 961.6,660.3 961.8,660.4" fill="none" stroke="#1f7d77" stroke-width="0.9" opacity="0.95" stroke-linejoin="round"/>
<polygon points="935.1,649.6 937.8,649.7 937.8,650.9 935.1,650.8" fill="#1f7d77" opacity="0.9"/>
<polygon points="959.1,639.4 960.9,639.4 960.9,641.5 959.1,641.5" fill="#e8e8e8" opacity="0.9"/>
<polygon points="958.6,639.0 961.4,639.1 961.4,642.2 958.6,642.1" fill="#e02030" opacity="1"/>
<polygon points="963.7,646.8 966.5,646.9 966.5,648.7 963.7,648.6" fill="#e6d84a" opacity="0.9"/>
<polygon points="963.7,652.3 966.5,652.3 966.5,654.2 963.7,654.1" fill="#e8e8e8" opacity="0.9"/>
<polygon points="964.6,658.4 967.4,658.4 967.4,660.0 964.6,659.9" fill="#8fd8e0" opacity="0.7"/>
<text x="969.7" y="643.3" font-size="6.2" font-weight="bold" fill="#86cf2e" text-anchor="start" opacity="1" textLength="5.4" lengthAdjust="spacingAndGlyphs">68</text>
<text x="969.7" y="650.6" font-size="5.6" font-weight="bold" fill="#efd92f" text-anchor="start" opacity="1" textLength="4.6" lengthAdjust="spacingAndGlyphs">16</text>
<polygon points="968.3,653.0 978.5,653.3 978.5,654.8 968.3,654.5" fill="#bbbbbb" opacity="0.55"/>
<text x="969.7" y="661.3" font-size="6" font-weight="bold" fill="#55c4ea" text-anchor="start" opacity="1" textLength="5.4" lengthAdjust="spacingAndGlyphs">98</text>
<polygon points="980.9,632.6 1027.7,633.7 1027.7,634.1 980.9,633.0" fill="#3a3a3a" opacity="0.8"/>
<polygon points="981.9,633.5 995.0,633.8 994.9,636.4 981.9,636.1" fill="#3c3c3c" opacity="0.9"/>
<polygon points="982.1,633.8 983.7,633.9 983.7,635.9 982.1,635.8" fill="#d8d8d8" opacity="0.9"/>
<polygon points="988.9,634.3 992.6,634.4 992.6,635.9 988.9,635.8" fill="#cfcfcf" opacity="0.8"/>
<polyline points="982.8,645.5 983.0,645.5 983.1,645.5 983.3,645.5 983.5,645.5 983.7,645.5 983.9,645.5 984.0,645.5 984.2,645.5 984.4,645.5 984.6,645.5 984.8,645.5 984.9,645.2 985.1,645.0 985.3,645.0 985.5,645.3 985.7,645.5 985.8,645.5 986.0,645.6 986.2,645.6 986.4,645.4 986.6,643.2 986.7,641.0 986.9,643.2 987.1,646.1 987.3,646.5 987.4,645.6 987.6,645.6 987.8,645.6 988.0,645.6 988.2,645.6 988.3,645.6 988.5,645.1 988.7,644.6 988.9,644.4 989.1,644.5 989.2,644.8 989.4,645.3 989.6,645.6 989.8,645.7 990.0,645.7 990.1,645.7 990.3,645.7 990.5,645.7 990.7,645.7 990.8,645.7 991.0,645.7 991.2,645.7 991.4,645.7 991.6,645.7 991.7,645.7 991.9,645.7 992.1,645.7 992.3,645.7 992.5,645.7 992.6,645.7 992.8,645.5 993.0,645.2 993.2,645.2 993.4,645.4 993.5,645.8 993.7,645.8 993.9,645.8 994.1,645.8 994.3,645.8 994.4,644.2 994.6,642.0 994.8,642.4 995.0,645.4 995.1,647.1 995.3,645.9 995.5,645.8 995.7,645.8 995.9,645.8 996.0,645.8 996.2,645.8 996.4,645.5 996.6,645.0 996.8,644.7 996.9,644.6 997.1,644.8 997.3,645.3 997.5,645.8 997.7,645.9 997.8,645.9 998.0,645.9 998.2,645.9 998.4,645.9 998.6,645.9 998.7,645.9 998.9,645.9 999.1,645.9 999.3,645.9 999.4,645.9 999.6,645.9 999.8,645.9 1000.0,645.9 1000.2,645.9 1000.3,645.9 1000.5,645.9 1000.7,645.8 1000.9,645.5 1001.1,645.4 1001.2,645.5 1001.4,645.9 1001.6,646.0 1001.8,646.0 1002.0,646.0 1002.1,646.0 1002.3,645.1 1002.5,642.9 1002.7,641.6 1002.9,644.6 1003.0,647.6 1003.2,646.5 1003.4,646.0 1003.6,646.0 1003.7,646.0 1003.9,646.0 1004.1,646.0 1004.3,645.9 1004.5,645.3 1004.6,645.0 1004.8,644.8 1005.0,645.0 1005.2,645.3 1005.4,645.9 1005.5,646.1 1005.7,646.1 1005.9,646.1 1006.1,646.1 1006.3,646.1 1006.4,646.1 1006.6,646.1" fill="none" stroke="#236e33" stroke-width="0.8" opacity="0.95"/>
<polygon points="982.8,641.2 983.0,641.2 983.0,647.9 982.8,647.9" fill="#236e33" opacity="0.7"/>
<polyline points="982.8,661.0 983.1,659.7 983.4,658.4 983.6,657.0 983.9,655.7 984.2,654.4 984.5,653.0 984.8,652.0 985.1,652.5 985.4,653.0 985.7,653.5 986.0,654.0 986.3,654.4 986.6,654.6 986.9,654.7 987.1,654.7 987.4,655.3 987.7,656.2 988.0,657.0 988.3,657.5 988.6,657.9 988.9,658.3 989.2,658.7 989.5,659.1 989.8,659.4 990.0,659.8 990.3,660.1 990.6,660.4 990.9,660.7 991.2,660.9 991.5,661.2 991.8,661.3 992.1,660.0 992.4,658.6 992.7,657.3 993.0,656.0 993.3,654.6 993.6,653.3 993.8,652.3 994.1,652.8 994.4,653.3 994.7,653.8 995.0,654.2 995.3,654.6 995.6,654.9 995.9,654.9 996.2,655.0 996.5,655.6 996.8,656.4 997.0,657.2 997.3,657.8 997.6,658.2 997.9,658.6 998.2,659.0 998.5,659.3 998.8,659.7 999.1,660.0 999.4,660.4 999.7,660.7 999.9,661.0 1000.2,661.2 1000.5,661.4 1000.8,661.6 1001.1,660.3 1001.4,658.9 1001.7,657.6 1002.0,656.2 1002.3,654.9 1002.6,653.5 1002.9,652.5 1003.2,653.0 1003.5,653.5 1003.7,654.0 1004.0,654.5 1004.3,654.9 1004.6,655.2 1004.9,655.2 1005.2,655.3 1005.5,655.8 1005.8,656.7 1006.1,657.5 1006.4,658.0 1006.7,658.5 1006.9,658.9 1007.2,659.2 1007.5,659.6 1007.8,660.0 1008.1,660.3 1008.4,660.6 1008.7,660.9 1009.0,661.2 1009.3,661.5 1009.6,661.7 1009.8,661.9" fill="none" stroke="#1f7d77" stroke-width="0.9" opacity="0.95" stroke-linejoin="round"/>
<polygon points="982.8,651.0 985.6,651.0 985.6,652.3 982.8,652.2" fill="#1f7d77" opacity="0.9"/>
<polygon points="1007.1,640.6 1009.0,640.6 1009.0,642.8 1007.1,642.7" fill="#e8e8e8" opacity="0.9"/>
<polygon points="1011.7,648.1 1014.5,648.2 1014.5,650.0 1011.7,649.9" fill="#e6d84a" opacity="0.9"/>
<polygon points="1011.7,653.6 1014.5,653.7 1014.5,655.5 1011.7,655.5" fill="#e8e8e8" opacity="0.9"/>
<polygon points="1012.7,659.8 1015.5,659.9 1015.5,661.4 1012.6,661.3" fill="#8fd8e0" opacity="0.7"/>
<text x="1017.8" y="644.6" font-size="6.2" font-weight="bold" fill="#86cf2e" text-anchor="start" opacity="1" textLength="5.4" lengthAdjust="spacingAndGlyphs">66</text>
<text x="1017.8" y="651.9" font-size="5.6" font-weight="bold" fill="#efd92f" text-anchor="start" opacity="1" textLength="4.6" lengthAdjust="spacingAndGlyphs">15</text>
<polygon points="1016.4,654.4 1026.7,654.7 1026.7,656.2 1016.4,655.9" fill="#bbbbbb" opacity="0.55"/>
<text x="1017.8" y="662.7" font-size="6" font-weight="bold" fill="#55c4ea" text-anchor="start" opacity="1" textLength="5.4" lengthAdjust="spacingAndGlyphs">97</text>
<polygon points="980.8,532.9 1028.2,533.0 1028.1,565.5 980.8,565.0" fill="none" stroke="#a8a8a8" stroke-width="1"/>
<polygon points="1030.2,532.7 1183.4,532.9 1182.5,668.5 1029.8,663.8" fill="#040404" />
<polygon points="1030.2,532.7 1183.4,532.9 1183.3,539.2 1030.2,538.8" fill="#8c8c8c" />
<polygon points="1032.0,534.3 1034.8,534.3 1034.8,537.5 1032.0,537.5" fill="#e0e0e0" opacity="0.8"/>
<polygon points="1038.6,534.3 1041.7,534.3 1041.7,537.5 1038.6,537.5" fill="#d0d0d0" opacity="0.7"/>
<polygon points="1043.2,534.6 1051.6,534.6 1051.6,537.2 1043.2,537.2" fill="#c0c0c0" opacity="0.6"/>
<polygon points="1179.5,534.3 1182.1,534.3 1182.1,538.1 1179.5,538.1" fill="#f4f4f4" opacity="0.95"/>
<polygon points="1030.2,539.3 1183.3,539.7 1183.3,546.2 1030.2,545.6" fill="#b2b2b2" />
<polygon points="1067.4,539.7 1105.2,539.8 1105.2,545.9 1067.4,545.7" fill="#f2f2f2" />
<polygon points="1082.2,541.5 1089.9,541.6 1089.9,544.0 1082.2,543.9" fill="#8a8a8a" opacity="0.8"/>
<polygon points="1044.0,541.4 1051.6,541.5 1051.6,543.8 1044.0,543.8" fill="#989898" opacity="0.7"/>
<polygon points="1122.1,541.7 1126.7,541.7 1126.6,544.1 1122.0,544.1" fill="#989898" opacity="0.7"/>
<polygon points="1161.9,541.8 1166.5,541.8 1166.5,544.3 1161.9,544.2" fill="#989898" opacity="0.7"/>
<polyline points="1031.7,557.9 1031.9,557.9 1032.1,557.9 1032.3,557.9 1032.4,557.9 1032.6,557.9 1032.8,557.9 1033.0,557.9 1033.2,557.9 1033.4,557.9 1033.6,557.5 1033.8,557.4 1034.0,557.6 1034.2,557.9 1034.4,557.9 1034.6,557.9 1034.8,557.9 1035.0,556.0 1035.2,553.4 1035.4,556.7 1035.6,559.3 1035.8,557.9 1036.0,557.9 1036.2,557.9 1036.4,557.9 1036.6,557.9 1036.7,557.5 1036.9,557.0 1037.1,556.8 1037.3,557.0 1037.5,557.5 1037.7,558.0 1037.9,558.0 1038.1,558.0 1038.3,558.0 1038.5,558.0 1038.7,558.0 1038.9,558.0 1039.1,558.0 1039.3,558.0 1039.5,558.0 1039.7,558.0 1039.9,558.0 1040.1,558.0 1040.3,558.0 1040.5,558.0 1040.7,557.6 1040.9,557.4 1041.0,557.7 1041.2,558.0 1041.4,558.0 1041.6,558.0 1041.8,558.0 1042.0,556.2 1042.2,553.7 1042.4,556.5 1042.6,559.5 1042.8,558.0 1043.0,558.0 1043.2,558.0 1043.4,558.0 1043.6,558.0 1043.8,557.6 1044.0,557.0 1044.2,556.8 1044.4,557.0 1044.6,557.5 1044.8,558.0 1045.0,558.0 1045.2,558.0 1045.3,558.0 1045.5,558.0 1045.7,558.0 1045.9,558.0 1046.1,558.0 1046.3,558.0 1046.5,558.0 1046.7,558.0 1046.9,558.0 1047.1,558.0 1047.3,558.0 1047.5,558.0 1047.7,557.7 1047.9,557.5 1048.1,557.7 1048.3,558.0 1048.5,558.0 1048.7,558.0 1048.9,558.0 1049.1,556.4 1049.3,553.9 1049.5,556.3 1049.6,559.6 1049.8,558.1 1050.0,558.0 1050.2,558.0 1050.4,558.0 1050.6,558.0 1050.8,557.6 1051.0,557.1 1051.2,556.9 1051.4,557.0 1051.6,557.5 1051.8,558.1 1052.0,558.1 1052.2,558.1 1052.4,558.1 1052.6,558.1 1052.8,558.1 1053.0,558.1 1053.2,558.1 1053.4,558.1 1053.6,558.1 1053.8,558.1 1054.0,558.1 1054.1,558.1 1054.3,558.1 1054.5,558.1 1054.7,557.7 1054.9,557.5 1055.1,557.7 1055.3,558.1 1055.5,558.1 1055.7,558.1 1055.9,558.1 1056.1,556.7 1056.3,554.1 1056.5,556.1 1056.7,559.5 1056.9,558.3 1057.1,558.1 1057.3,558.1 1057.5,558.1 1057.7,558.1 1057.9,557.7 1058.1,557.2 1058.3,556.9 1058.5,557.1 1058.6,557.5 1058.8,558.1 1059.0,558.1 1059.2,558.1 1059.4,558.1 1059.6,558.1 1059.8,558.1 1060.0,558.1 1060.2,558.1 1060.4,558.1 1060.6,558.1 1060.8,558.1 1061.0,558.1 1061.2,558.1 1061.4,558.1 1061.6,558.1 1061.8,557.8 1062.0,557.6 1062.2,557.7 1062.4,558.1 1062.6,558.1 1062.7,558.1 1062.9,558.1 1063.1,556.9 1063.3,554.3 1063.5,555.9 1063.7,559.3 1063.9,558.4 1064.1,558.1 1064.3,558.1 1064.5,558.1 1064.7,558.1 1064.9,557.8 1065.1,557.3 1065.3,557.0 1065.5,557.1 1065.7,557.5 1065.9,558.1 1066.1,558.1 1066.3,558.2 1066.5,558.2 1066.7,558.2 1066.9,558.2 1067.1,558.2 1067.2,558.2 1067.4,558.2 1067.6,558.2 1067.8,558.2 1068.0,558.2 1068.2,558.2 1068.4,558.2 1068.6,558.2 1068.8,557.9 1069.0,557.6 1069.2,557.8 1069.4,558.2 1069.6,558.2 1069.8,558.2 1070.0,558.2 1070.2,557.1 1070.4,554.6 1070.6,555.7 1070.8,559.1 1071.0,558.6 1071.2,558.2 1071.4,558.2 1071.5,558.2 1071.7,558.2 1071.9,557.9 1072.1,557.4 1072.3,557.1 1072.5,557.1 1072.7,557.6 1072.9,558.2 1073.1,558.2 1073.3,558.2 1073.5,558.2 1073.7,558.2 1073.9,558.2 1074.1,558.2 1074.3,558.2 1074.5,558.2 1074.7,558.2 1074.9,558.2 1075.1,558.2 1075.3,558.2 1075.5,558.2 1075.7,558.2 1075.8,558.0 1076.0,557.7 1076.2,557.8 1076.4,558.2 1076.6,558.2 1076.8,558.2 1077.0,558.2 1077.2,557.4 1077.4,554.8 1077.6,555.5 1077.8,558.9 1078.0,558.8 1078.2,558.2 1078.4,558.2 1078.6,558.2 1078.8,558.2 1079.0,558.0 1079.2,557.4 1079.4,557.1 1079.6,557.2 1079.8,557.6 1080.0,558.2 1080.1,558.2 1080.3,558.2 1080.5,558.2 1080.7,558.3 1080.9,558.3 1081.1,558.3 1081.3,558.3 1081.5,558.3 1081.7,558.3 1081.9,558.3 1082.1,558.3 1082.3,558.3 1082.5,558.3 1082.7,558.3 1082.9,558.0 1083.1,557.7 1083.3,557.8 1083.5,558.2 1083.7,558.3 1083.9,558.3 1084.1,558.3 1084.3,557.6 1084.5,555.0 1084.7,555.2 1084.8,558.7 1085.0,558.9 1085.2,558.3 1085.4,558.3 1085.6,558.3 1085.8,558.3 1086.0,558.1 1086.2,557.5 1086.4,557.2 1086.6,557.2 1086.8,557.6 1087.0,558.2 1087.2,558.3 1087.4,558.3 1087.6,558.3 1087.8,558.3 1088.0,558.3 1088.2,558.3 1088.4,558.3 1088.6,558.3 1088.8,558.3 1088.9,558.3 1089.1,558.3 1089.3,558.3 1089.5,558.3 1089.7,558.3 1089.9,558.1 1090.1,557.8 1090.3,557.8 1090.5,558.2 1090.7,558.3 1090.9,558.3 1091.1,558.3 1091.3,557.8 1091.5,555.2 1091.7,555.0 1091.9,558.5 1092.1,559.1 1092.3,558.3 1092.5,558.3 1092.7,558.3 1092.9,558.3 1093.1,558.2 1093.3,557.6 1093.4,557.2 1093.6,557.2 1093.8,557.6 1094.0,558.2 1094.2,558.3 1094.4,558.3 1094.6,558.3 1094.8,558.3 1095.0,558.3 1095.2,558.4 1095.4,558.4 1095.6,558.4 1095.8,558.4 1096.0,558.4 1096.2,558.4 1096.4,558.4 1096.6,558.4 1096.8,558.4 1097.0,558.2 1097.2,557.9 1097.4,557.9 1097.5,558.2 1097.7,558.4 1097.9,558.4 1098.1,558.4 1098.3,558.0 1098.5,555.5 1098.7,554.8 1098.9,558.3 1099.1,559.2 1099.3,558.4 1099.5,558.4 1099.7,558.4 1099.9,558.4 1100.1,558.3 1100.3,557.7 1100.5,557.3 1100.7,557.3 1100.9,557.6 1101.1,558.2 1101.3,558.4 1101.5,558.4 1101.7,558.4 1101.8,558.4 1102.0,558.4 1102.2,558.4 1102.4,558.4 1102.6,558.4 1102.8,558.4 1103.0,558.4 1103.2,558.4 1103.4,558.4 1103.6,558.4 1103.8,558.4 1104.0,558.3 1104.2,557.9 1104.4,557.9 1104.6,558.3 1104.8,558.4 1105.0,558.4 1105.2,558.4 1105.4,558.3 1105.6,555.7 1105.8,554.6 1106.0,558.1 1106.1,559.4 1106.3,558.4 1106.5,558.4 1106.7,558.4 1106.9,558.4 1107.1,558.4 1107.3,557.8 1107.5,557.4 1107.7,557.3 1107.9,557.6 1108.1,558.2 1108.3,558.4 1108.5,558.4 1108.7,558.4 1108.9,558.4 1109.1,558.4 1109.3,558.4 1109.5,558.4 1109.7,558.5 1109.9,558.5 1110.1,558.5 1110.3,558.5 1110.5,558.5 1110.6,558.5 1110.8,558.5 1111.0,558.4 1111.2,558.0 1111.4,557.9 1111.6,558.3 1111.8,558.5 1112.0,558.5 1112.2,558.5 1112.4,558.5 1112.6,555.9 1112.8,554.4 1113.0,557.9 1113.2,559.5 1113.4,558.5 1113.6,558.5 1113.8,558.5 1114.0,558.5 1114.2,558.5 1114.4,557.9 1114.6,557.4 1114.8,557.3 1115.0,557.6 1115.1,558.2 1115.3,558.5 1115.5,558.5 1115.7,558.5 1115.9,558.5 1116.1,558.5 1116.3,558.5 1116.5,558.5 1116.7,558.5 1116.9,558.5 1117.1,558.5 1117.3,558.5 1117.5,558.5 1117.7,558.5 1117.9,558.5 1118.1,558.4 1118.3,558.0 1118.5,558.0 1118.7,558.3 1118.9,558.5 1119.1,558.5 1119.2,558.5 1119.4,558.5 1119.7,556.2 1119.9,554.2 1120.0,557.7 1120.2,559.7 1120.4,558.5 1120.6,558.5 1120.8,558.5 1121.0,558.5 1121.2,558.5 1121.4,558.0 1121.6,557.5 1121.8,557.4 1122.0,557.6 1122.2,558.2 1122.4,558.5 1122.6,558.5 1122.8,558.5 1123.0,558.5 1123.2,558.5 1123.4,558.5 1123.6,558.5 1123.7,558.5 1123.9,558.5 1124.1,558.6 1124.3,558.6 1124.5,558.6 1124.7,558.6 1124.9,558.6 1125.1,558.5 1125.3,558.1 1125.5,558.0 1125.7,558.3 1125.9,558.6 1126.1,558.6 1126.3,558.6 1126.5,558.6 1126.7,556.4 1126.9,554.0 1127.1,557.5 1127.3,559.9 1127.5,558.6 1127.7,558.6 1127.9,558.6 1128.0,558.6 1128.2,558.6 1128.4,558.0 1128.6,557.6 1128.8,557.4 1129.0,557.7 1129.2,558.2 1129.4,558.6 1129.6,558.6 1129.8,558.6 1130.0,558.6 1130.2,558.6 1130.4,558.6" fill="none" stroke="#35a04a" stroke-width="0.9" opacity="0.95"/>
<polygon points="1034.7,554.4 1035.3,554.4 1035.3,561.0 1034.7,561.0" fill="#3fb055" opacity="0.8"/>
<polygon points="1041.7,554.4 1042.3,554.4 1042.3,561.0 1041.7,561.0" fill="#3fb055" opacity="0.8"/>
<polygon points="1048.7,554.5 1049.3,554.5 1049.3,561.1 1048.6,561.1" fill="#3fb055" opacity="0.8"/>
<polygon points="1055.6,554.5 1056.2,554.5 1056.2,561.1 1055.6,561.1" fill="#3fb055" opacity="0.8"/>
<polygon points="1062.6,554.6 1063.2,554.6 1063.2,561.2 1062.6,561.2" fill="#3fb055" opacity="0.8"/>
<polygon points="1069.6,554.6 1070.2,554.6 1070.1,561.2 1069.5,561.2" fill="#3fb055" opacity="0.8"/>
<polygon points="1076.5,554.6 1077.1,554.6 1077.1,561.3 1076.5,561.3" fill="#3fb055" opacity="0.8"/>
<polygon points="1083.5,554.7 1084.1,554.7 1084.1,561.3 1083.5,561.3" fill="#3fb055" opacity="0.8"/>
<polygon points="1090.5,554.7 1091.1,554.7 1091.0,561.4 1090.4,561.4" fill="#3fb055" opacity="0.8"/>
<polygon points="1097.4,554.8 1098.0,554.8 1098.0,561.4 1097.4,561.4" fill="#3fb055" opacity="0.8"/>
<polygon points="1104.4,554.8 1105.0,554.8 1105.0,561.5 1104.4,561.5" fill="#3fb055" opacity="0.8"/>
<polygon points="1111.4,554.9 1112.0,554.9 1111.9,561.5 1111.3,561.5" fill="#3fb055" opacity="0.8"/>
<polygon points="1118.3,554.9 1118.9,554.9 1118.9,561.6 1118.3,561.6" fill="#3fb055" opacity="0.8"/>
<polygon points="1125.3,554.9 1125.9,554.9 1125.9,561.6 1125.2,561.6" fill="#3fb055" opacity="0.8"/>
<polygon points="1056.2,552.3 1064.6,552.3 1064.6,554.2 1056.2,554.1" fill="#2f9a45" opacity="0.8"/>
<polygon points="1067.7,552.3 1076.1,552.4 1076.1,554.2 1067.7,554.2" fill="#2f9a45" opacity="0.8"/>
<circle cx="1084.5" cy="553.8" r="1.5" fill="#e8203a"/>
<polyline points="1030.8,578.0 1031.8,573.5 1032.8,569.0 1033.7,569.5 1034.7,570.9 1035.6,571.3 1036.5,573.8 1037.5,575.2 1038.4,576.4 1039.4,577.4 1040.3,578.1 1041.3,573.6 1042.2,569.1 1043.2,569.5 1044.1,571.0 1045.1,571.4 1046.0,573.9 1047.0,575.3 1047.9,576.5 1048.8,577.5 1049.8,578.2 1050.7,573.7 1051.7,569.2 1052.7,569.6 1053.6,571.1 1054.5,571.5 1055.5,574.0 1056.4,575.4 1057.4,576.6 1058.3,577.6 1059.3,578.3 1060.2,573.8 1061.2,569.3 1062.1,569.7 1063.1,571.2 1064.0,571.6 1065.0,574.1 1065.9,575.5 1066.8,576.7 1067.8,577.7 1068.7,578.4 1069.7,573.9 1070.7,569.4 1071.6,569.8 1072.5,571.3 1073.5,571.7 1074.4,574.2 1075.4,575.6 1076.3,576.8 1077.3,577.8 1078.2,578.5 1079.2,574.0 1080.1,569.5 1081.1,569.9 1082.0,571.4 1083.0,571.8 1083.9,574.3 1084.8,575.7 1085.8,576.9 1086.7,577.9 1087.7,578.6 1088.6,574.1 1089.6,569.6 1090.5,570.0 1091.5,571.4 1092.4,571.9 1093.4,574.4 1094.3,575.8 1095.2,577.0 1096.2,578.0 1097.1,578.7 1098.1,574.2 1099.1,569.7 1100.0,570.1 1101.0,571.5 1101.9,572.0 1102.8,574.5 1103.8,575.9 1104.7,577.1 1105.7,578.1 1106.6,578.8 1107.6,574.3 1108.5,569.8 1109.5,570.2 1110.4,571.6 1111.4,572.1 1112.3,574.6 1113.3,576.0 1114.2,577.2 1115.1,578.2 1116.1,578.9 1117.0,574.4 1118.0,569.8 1119.0,570.3 1119.9,571.7 1120.8,572.2 1121.8,574.7 1122.7,576.1 1123.7,577.3 1124.6,578.3 1125.5,579.0 1126.5,574.5 1127.5,569.9 1128.4,570.4 1129.4,571.8 1130.3,572.3" fill="none" stroke="#27968f" stroke-width="1.1" opacity="1" stroke-linejoin="round"/>
<polyline points="1030.8,588.9 1031.2,586.1 1031.7,585.0 1032.1,584.5 1032.5,584.5 1032.9,585.1 1033.4,586.3 1033.8,589.5 1034.2,591.8 1034.6,592.8 1035.0,593.3 1035.5,593.3 1035.9,592.6 1036.3,591.4 1036.7,588.0 1037.2,586.0 1037.6,584.9 1038.0,584.5 1038.4,584.6 1038.9,585.3 1039.3,586.7 1039.7,590.2 1040.1,592.1 1040.5,593.1 1041.0,593.5 1041.4,593.3 1041.8,592.6 1042.2,591.1 1042.7,587.5 1043.1,585.8 1043.5,584.9 1043.9,584.6 1044.4,584.8 1044.8,585.6 1045.2,587.1 1045.6,590.8 1046.0,592.4 1046.5,593.3 1046.9,593.6 1047.3,593.3 1047.7,592.4 1048.2,590.9 1048.6,587.2 1049.0,585.7 1049.4,584.9 1049.9,584.6 1050.3,585.0 1050.7,585.9 1051.1,587.6 1051.5,591.2 1052.0,592.7 1052.4,593.4 1052.8,593.6 1053.2,593.3 1053.6,592.3 1054.1,590.5 1054.5,586.9 1054.9,585.6 1055.4,584.9 1055.8,584.7 1056.2,585.2 1056.6,586.2 1057.0,588.1 1057.5,591.6 1057.9,592.9 1058.3,593.6 1058.7,593.7 1059.1,593.2 1059.6,592.2 1060.0,590.0 1060.4,586.7 1060.9,585.5 1061.3,584.9 1061.7,584.8 1062.1,585.4 1062.6,586.5 1063.0,589.0 1063.4,592.0 1063.8,593.2 1064.2,593.7 1064.6,593.7 1065.1,593.2 1065.5,592.0 1065.9,588.8 1066.4,586.5 1066.8,585.4 1067.2,584.9 1067.6,585.0 1068.1,585.6 1068.5,586.9 1068.9,590.3 1069.3,592.3 1069.7,593.4 1070.1,593.9 1070.6,593.8 1071.0,593.1 1071.4,591.8 1071.9,588.2 1072.3,586.3 1072.7,585.4 1073.1,585.0 1073.6,585.1 1074.0,585.8 1074.4,587.3 1074.8,590.9 1075.2,592.7 1075.6,593.6 1076.1,594.0 1076.5,593.8 1076.9,593.0 1077.3,591.5 1077.8,587.9 1078.2,586.2 1078.6,585.3 1079.1,585.0 1079.5,585.3 1079.9,586.1 1080.3,587.7 1080.7,591.4 1081.1,593.0 1081.6,593.8 1082.0,594.1 1082.4,593.8 1082.8,592.9 1083.3,591.2 1083.7,587.6 1084.1,586.1 1084.6,585.3 1085.0,585.1 1085.4,585.5 1085.8,586.4 1086.2,588.2 1086.6,591.8 1087.1,593.2 1087.5,594.0 1087.9,594.1 1088.3,593.7 1088.8,592.7 1089.2,590.8 1089.6,587.3 1090.1,586.0 1090.5,585.3 1090.9,585.2 1091.3,585.7 1091.7,586.7 1092.2,588.8 1092.6,592.2 1093.0,593.5 1093.4,594.1 1093.8,594.2 1094.2,593.7 1094.7,592.6 1095.1,590.3 1095.5,587.1 1096.0,585.9 1096.4,585.3 1096.8,585.3 1097.2,585.9 1097.7,587.1 1098.1,590.1 1098.5,592.6 1098.9,593.7 1099.3,594.3 1099.7,594.2 1100.2,593.6 1100.6,592.4 1101.0,589.0 1101.5,586.9 1101.9,585.8 1102.3,585.3 1102.7,585.4 1103.2,586.1 1103.6,587.4 1104.0,591.0 1104.4,592.9 1104.8,594.0 1105.2,594.4 1105.7,594.3 1106.1,593.6 1106.5,592.2 1107.0,588.6 1107.4,586.7 1107.8,585.8 1108.2,585.4 1108.7,585.6 1109.1,586.4 1109.5,587.8 1109.9,591.5 1110.3,593.3 1110.7,594.2 1111.2,594.5 1111.6,594.3 1112.0,593.5 1112.4,591.9 1112.9,588.2 1113.3,586.6 1113.7,585.7 1114.2,585.5 1114.6,585.8 1115.0,586.6 1115.4,588.3 1115.8,592.0 1116.2,593.5 1116.7,594.4 1117.1,594.6 1117.5,594.3 1117.9,593.3 1118.4,591.6 1118.8,587.9 1119.2,586.5 1119.7,585.7 1120.1,585.6 1120.5,585.9 1120.9,586.9 1121.3,588.8 1121.8,592.4 1122.2,593.8 1122.6,594.5 1123.0,594.7 1123.4,594.2 1123.9,593.2 1124.3,591.1 1124.7,587.7 1125.2,586.4 1125.6,585.7 1126.0,585.7 1126.4,586.2 1126.9,587.3 1127.3,589.5 1127.7,592.8 1128.1,594.1 1128.5,594.7 1128.9,594.7 1129.4,594.2 1129.8,593.0 1130.2,590.2" fill="none" stroke="#a0953a" stroke-width="1.1" opacity="0.95" stroke-linejoin="round"/>
<polyline points="1034.6,604.0 1035.0,603.3 1035.4,602.6 1035.9,602.1 1036.3,601.8 1036.7,601.7 1037.1,601.8 1037.6,602.2 1038.0,602.7 1038.4,603.4 1038.8,604.1 1039.2,604.9 1039.7,605.5 1040.1,606.0 1040.5,606.3 1040.9,606.4 1041.4,606.2 1041.8,605.9 1042.2,605.4 1042.6,604.7 1043.0,604.0 1043.5,603.4 1043.9,602.8 1044.3,602.4 1044.7,602.1 1045.2,602.1 1045.6,602.3 1046.0,602.6 1046.4,603.1 1046.9,603.7 1047.3,604.3 1047.7,604.9 1048.1,605.4 1048.5,605.8 1049.0,606.0 1049.4,606.1 1049.8,606.0 1050.2,605.7 1050.7,605.3 1051.1,604.9 1051.5,604.3 1051.9,603.8 1052.4,603.4 1052.8,603.1 1053.2,602.8 1053.6,602.8 1054.0,602.8 1054.5,603.0 1054.9,603.3 1055.3,603.7 1055.7,604.1 1056.2,604.5 1056.6,604.9 1057.0,605.3 1057.4,605.5 1057.8,605.7 1058.3,605.8 1058.7,605.7 1059.1,605.5 1059.5,605.3 1060.0,605.0 1060.4,604.6 1060.8,604.3 1061.2,603.9 1061.7,603.6 1062.1,603.4 1062.5,603.2 1062.9,603.2 1063.3,603.2 1063.8,603.4 1064.2,603.6 1064.6,604.0 1065.0,604.3 1065.5,604.7 1065.9,605.1 1066.3,605.5 1066.7,605.8 1067.1,606.0 1067.6,606.0 1068.0,606.0 1068.4,605.8 1068.8,605.5 1069.3,605.1 1069.7,604.7 1070.1,604.2 1070.5,603.7 1071.0,603.3 1071.4,603.1 1071.8,602.9 1072.2,602.9 1072.6,603.1 1073.1,603.4 1073.5,603.9 1073.9,604.4 1074.3,605.0 1074.8,605.6 1075.2,606.1 1075.6,606.5 1076.0,606.7 1076.4,606.7 1076.9,606.6 1077.3,606.2 1077.7,605.7 1078.1,605.1 1078.6,604.4 1079.0,603.8 1079.4,603.2 1079.8,602.8 1080.3,602.6 1080.7,602.6 1081.1,602.8 1081.5,603.2 1081.9,603.8 1082.4,604.5 1082.8,605.2 1083.2,605.9 1083.6,606.5 1084.0,607.0 1084.5,607.2 1084.9,607.2 1085.3,607.0 1085.7,606.5 1086.2,605.9 1086.6,605.2 1087.0,604.4 1087.4,603.7 1087.9,603.1 1088.3,602.7 1088.7,602.5 1089.1,602.6 1089.6,602.9 1090.0,603.3 1090.4,604.0 1090.8,604.7 1091.2,605.5 1091.7,606.2 1092.1,606.8 1092.5,607.2 1092.9,607.4 1093.3,607.3 1093.8,607.0 1094.2,606.5 1094.6,605.9 1095.0,605.2 1095.5,604.5 1095.9,603.9 1096.3,603.3 1096.8,603.0 1097.2,602.9 1097.6,603.0 1098.0,603.3 1098.4,603.7 1098.9,604.3 1099.3,605.0 1099.7,605.6 1100.1,606.2 1100.5,606.7 1101.0,607.0 1101.4,607.1 1101.8,607.0 1102.2,606.8 1102.7,606.4 1103.1,605.9 1103.5,605.4 1103.9,604.8 1104.4,604.3 1104.8,603.9 1105.2,603.7 1105.6,603.5 1106.0,603.6 1106.5,603.8 1106.9,604.1 1107.3,604.5 1107.7,604.9 1108.2,605.4 1108.6,605.8 1109.0,606.2 1109.4,606.5 1109.8,606.7 1110.3,606.7 1110.7,606.7 1111.1,606.5 1111.5,606.2 1112.0,605.9 1112.4,605.5 1112.8,605.2 1113.2,604.8 1113.7,604.5 1114.1,604.3 1114.5,604.1 1114.9,604.1 1115.3,604.1 1115.8,604.3 1116.2,604.5 1116.6,604.9 1117.0,605.2 1117.5,605.6 1117.9,606.0 1118.3,606.3 1118.7,606.6 1119.1,606.8 1119.6,606.9 1120.0,606.8 1120.4,606.7 1120.8,606.4 1121.3,606.1 1121.7,605.6 1122.1,605.2 1122.5,604.8 1123.0,604.4 1123.4,604.1 1123.8,603.9 1124.2,603.9 1124.7,604.0 1125.1,604.3 1125.5,604.7 1125.9,605.2 1126.3,605.7 1126.8,606.3 1127.2,606.8 1127.6,607.2 1128.0,607.5 1128.4,607.6 1128.9,607.5 1129.3,607.2 1129.7,606.8 1130.1,606.2" fill="none" stroke="#3558b8" stroke-width="0.9" opacity="0.95" stroke-linejoin="round"/>
<polyline points="1034.6,617.0 1035.0,616.3 1035.4,615.7 1035.8,615.2 1036.3,615.1 1036.7,615.2 1037.1,615.6 1037.5,616.2 1037.9,616.9 1038.4,617.6 1038.8,618.2 1039.2,618.7 1039.6,618.9 1040.0,618.9 1040.5,618.6 1040.9,618.1 1041.3,617.5 1041.7,616.8 1042.2,616.2 1042.6,615.8 1043.0,615.5 1043.4,615.5 1043.9,615.7 1044.3,616.2 1044.7,616.7 1045.1,617.3 1045.5,617.8 1046.0,618.3 1046.4,618.5 1046.8,618.6 1047.2,618.5 1047.7,618.3 1048.1,617.9 1048.5,617.4 1048.9,617.0 1049.4,616.6 1049.8,616.4 1050.2,616.2 1050.6,616.3 1051.0,616.4 1051.5,616.7 1051.9,617.0 1052.3,617.3 1052.7,617.6 1053.2,617.9 1053.6,618.0 1054.0,618.1 1054.4,618.1 1054.8,618.1 1055.3,618.0 1055.7,617.8 1056.1,617.6 1056.5,617.4 1057.0,617.2 1057.4,617.1 1057.8,616.9 1058.2,616.8 1058.6,616.8 1059.1,616.8 1059.5,616.9 1059.9,617.1 1060.3,617.3 1060.8,617.5 1061.2,617.8 1061.6,618.1 1062.0,618.3 1062.4,618.5 1062.9,618.5 1063.3,618.4 1063.7,618.3 1064.1,618.0 1064.6,617.6 1065.0,617.2 1065.4,616.8 1065.8,616.5 1066.3,616.4 1066.7,616.4 1067.1,616.6 1067.5,616.9 1067.9,617.4 1068.4,617.9 1068.8,618.5 1069.2,618.9 1069.6,619.2 1070.1,619.3 1070.5,619.2 1070.9,618.8 1071.3,618.3 1071.7,617.7 1072.2,617.1 1072.6,616.5 1073.0,616.1 1073.4,616.0 1073.9,616.1 1074.3,616.4 1074.7,617.0 1075.1,617.7 1075.5,618.4 1076.0,619.0 1076.4,619.5 1076.8,619.8 1077.2,619.7 1077.7,619.4 1078.1,618.9 1078.5,618.2 1078.9,617.5 1079.4,616.8 1079.8,616.3 1080.2,616.0 1080.6,616.0 1081.1,616.2 1081.5,616.7 1081.9,617.4 1082.3,618.2 1082.7,618.9 1083.2,619.5 1083.6,619.8 1084.0,619.9 1084.4,619.7 1084.8,619.3 1085.3,618.7 1085.7,618.0 1086.1,617.3 1086.5,616.8 1087.0,616.4 1087.4,616.3 1087.8,616.4 1088.2,616.8 1088.7,617.3 1089.1,617.9 1089.5,618.5 1089.9,619.1 1090.3,619.4 1090.8,619.6 1091.2,619.6 1091.6,619.4 1092.0,619.0 1092.5,618.5 1092.9,618.0 1093.3,617.6 1093.7,617.2 1094.2,617.0 1094.6,617.0 1095.0,617.1 1095.4,617.4 1095.8,617.7 1096.3,618.1 1096.7,618.5 1097.1,618.8 1097.5,619.0 1097.9,619.1 1098.4,619.1 1098.8,619.1 1099.2,618.9 1099.6,618.7 1100.1,618.5 1100.5,618.2 1100.9,618.0 1101.3,617.9 1101.8,617.8 1102.2,617.7 1102.6,617.7 1103.0,617.7 1103.4,617.9 1103.9,618.0 1104.3,618.2 1104.7,618.4 1105.1,618.7 1105.6,618.9 1106.0,619.1 1106.4,619.2 1106.8,619.3 1107.2,619.3 1107.7,619.1 1108.1,618.9 1108.5,618.6 1108.9,618.2 1109.4,617.9 1109.8,617.6 1110.2,617.4 1110.6,617.3 1111.1,617.4 1111.5,617.7 1111.9,618.1 1112.3,618.6 1112.7,619.1 1113.2,619.6 1113.6,619.9 1114.0,620.1 1114.4,620.1 1114.8,619.8 1115.3,619.4 1115.7,618.8 1116.1,618.2 1116.5,617.7 1117.0,617.2 1117.4,616.9 1117.8,616.9 1118.2,617.2 1118.7,617.6 1119.1,618.2 1119.5,618.9 1119.9,619.6 1120.3,620.2 1120.8,620.6 1121.2,620.7 1121.6,620.5 1122.0,620.1 1122.5,619.4 1122.9,618.7 1123.3,618.0 1123.7,617.4 1124.2,617.0 1124.6,616.8 1125.0,616.9 1125.4,617.3 1125.8,618.0 1126.3,618.7 1126.7,619.5 1127.1,620.1 1127.5,620.6 1127.9,620.8 1128.4,620.8 1128.8,620.5 1129.2,619.9 1129.6,619.2 1130.1,618.5" fill="none" stroke="#3350a8" stroke-width="0.9" opacity="0.9" stroke-linejoin="round"/>
<polyline points="1030.7,634.0 1031.1,632.2 1031.5,630.9 1032.0,629.9 1032.4,629.4 1032.8,629.3 1033.2,629.8 1033.7,630.7 1034.1,632.0 1034.5,633.7 1034.9,635.6 1035.3,637.0 1035.8,638.1 1036.2,638.7 1036.6,638.8 1037.0,638.4 1037.5,637.6 1037.9,636.4 1038.3,634.8 1038.7,632.9 1039.2,631.4 1039.6,630.3 1040.0,629.7 1040.4,629.5 1040.9,629.8 1041.3,630.6 1041.7,631.8 1042.1,633.3 1042.5,635.2 1043.0,636.8 1043.4,638.0 1043.8,638.7 1044.2,639.0 1044.7,638.8 1045.1,638.1 1045.5,637.0 1045.9,635.5 1046.4,633.6 1046.8,632.0 1047.2,630.8 1047.6,630.0 1048.1,629.7 1048.5,629.8 1048.9,630.4 1049.3,631.5 1049.8,633.0 1050.2,634.9 1050.6,636.5 1051.0,637.8 1051.4,638.7 1051.9,639.2 1052.3,639.1 1052.7,638.6 1053.1,637.6 1053.6,636.2 1054.0,634.4 1054.4,632.7 1054.8,631.3 1055.3,630.4 1055.7,629.9 1056.1,629.9 1056.5,630.4 1057.0,631.3 1057.4,632.6 1057.8,634.3 1058.2,636.2 1058.6,637.6 1059.1,638.7 1059.5,639.3 1059.9,639.4 1060.3,639.0 1060.7,638.2 1061.2,636.9 1061.6,635.3 1062.0,633.4 1062.5,631.9 1062.9,630.8 1063.3,630.2 1063.7,630.0 1064.2,630.3 1064.6,631.1 1065.0,632.4 1065.4,633.9 1065.8,635.9 1066.3,637.4 1066.7,638.6 1067.1,639.3 1067.5,639.6 1067.9,639.4 1068.4,638.7 1068.8,637.5 1069.2,636.0 1069.7,634.1 1070.1,632.5 1070.5,631.3 1070.9,630.5 1071.4,630.2 1071.8,630.4 1072.2,631.0 1072.6,632.1 1073.1,633.6 1073.5,635.5 1073.9,637.1 1074.3,638.4 1074.7,639.3 1075.1,639.8 1075.6,639.7 1076.0,639.1 1076.4,638.1 1076.8,636.7 1077.3,634.9 1077.7,633.2 1078.1,631.8 1078.6,630.9 1079.0,630.4 1079.4,630.4 1079.8,630.9 1080.3,631.9 1080.7,633.2 1081.1,635.0 1081.5,636.8 1081.9,638.3 1082.3,639.3 1082.8,639.9 1083.2,640.0 1083.6,639.6 1084.0,638.7 1084.5,637.4 1084.9,635.8 1085.3,633.9 1085.8,632.4 1086.2,631.3 1086.6,630.7 1087.0,630.5 1087.5,630.9 1087.9,631.7 1088.3,633.0 1088.7,634.6 1089.1,636.5 1089.6,638.0 1090.0,639.2 1090.4,639.9 1090.8,640.2 1091.2,639.9 1091.7,639.2 1092.1,638.0 1092.5,636.5 1093.0,634.6 1093.4,633.0 1093.8,631.8 1094.2,631.0 1094.7,630.7 1095.1,630.9 1095.5,631.6 1095.9,632.7 1096.3,634.2 1096.8,636.1 1097.2,637.8 1097.6,639.1 1098.0,639.9 1098.4,640.4 1098.9,640.3 1099.3,639.7 1099.7,638.6 1100.1,637.2 1100.6,635.4 1101.0,633.7 1101.4,632.3 1101.9,631.4 1102.3,630.9 1102.7,631.0 1103.1,631.5 1103.6,632.5 1104.0,633.9 1104.4,635.6 1104.8,637.5 1105.2,638.9 1105.6,639.9 1106.1,640.5 1106.5,640.5 1106.9,640.1 1107.3,639.2 1107.8,637.9 1108.2,636.2 1108.6,634.3 1109.1,632.9 1109.5,631.8 1109.9,631.2 1110.3,631.1 1110.8,631.4 1111.2,632.3 1111.6,633.6 1112.0,635.2 1112.4,637.1 1112.8,638.7 1113.3,639.8 1113.7,640.5 1114.1,640.8 1114.5,640.5 1115.0,639.7 1115.4,638.6 1115.8,637.0 1116.3,635.1 1116.7,633.5 1117.1,632.3 1117.5,631.5 1118.0,631.2 1118.4,631.5 1118.8,632.2 1119.2,633.3 1119.6,634.8 1120.1,636.8 1120.5,638.4 1120.9,639.7 1121.3,640.5 1121.7,640.9 1122.2,640.8 1122.6,640.2 1123.0,639.2 1123.4,637.7 1123.9,635.8 1124.3,634.1 1124.7,632.8 1125.2,631.9 1125.6,631.5 1126.0,631.5 1126.4,632.1 1126.9,633.1 1127.3,634.5 1127.7,636.3" fill="none" stroke="#b0a53a" stroke-width="1.1" opacity="0.95" stroke-linejoin="round"/>
<polygon points="1031.4,549.8 1034.7,549.8 1034.7,551.4 1031.4,551.4" fill="#bbbbbb" opacity="0.8"/>
<polygon points="1031.3,568.1 1034.7,568.2 1034.7,569.7 1031.3,569.7" fill="#2aa8a0" opacity="0.8"/>
<polygon points="1031.3,583.2 1034.7,583.3 1034.6,584.8 1031.3,584.8" fill="#b5a83a" opacity="0.8"/>
<polygon points="1031.2,598.3 1034.6,598.4 1034.6,599.9 1031.2,599.9" fill="#3558b8" opacity="0.8"/>
<polygon points="1031.2,611.4 1034.6,611.5 1034.6,613.1 1031.2,613.0" fill="#3558b8" opacity="0.8"/>
<polygon points="1031.2,625.8 1034.5,625.9 1034.5,627.5 1031.2,627.4" fill="#c6b838" opacity="0.8"/>
<polygon points="1132.0,551.6 1135.8,551.7 1135.8,554.1 1131.9,554.0" fill="#2f9a45" opacity="0.8"/>
<polygon points="1131.9,556.3 1135.8,556.4 1135.8,558.8 1131.9,558.7" fill="#2f9a45" opacity="0.8"/>
<polygon points="1131.9,567.7 1135.7,567.8 1135.7,570.2 1131.9,570.1" fill="#bbbbbb" opacity="0.8"/>
<polygon points="1131.8,573.1 1135.7,573.1 1135.7,575.5 1131.8,575.5" fill="#2aa8a0" opacity="0.8"/>
<polygon points="1131.8,584.5 1135.6,584.5 1135.6,586.9 1131.8,586.9" fill="#d0c040" opacity="0.8"/>
<polygon points="1131.8,589.2 1135.6,589.2 1135.6,591.6 1131.7,591.6" fill="#d0c040" opacity="0.8"/>
<polygon points="1131.7,599.9 1135.5,600.0 1135.5,602.4 1131.7,602.3" fill="#cccccc" opacity="0.8"/>
<polygon points="1131.7,605.9 1135.5,606.0 1135.5,608.4 1131.7,608.4" fill="#e04040" opacity="0.8"/>
<polygon points="1131.6,613.3 1135.4,613.4 1135.4,615.8 1131.6,615.7" fill="#cccccc" opacity="0.8"/>
<polygon points="1131.6,620.7 1135.4,620.8 1135.4,623.2 1131.6,623.1" fill="#7a9ad8" opacity="0.8"/>
<polygon points="1131.5,627.4 1135.4,627.5 1135.4,629.9 1131.5,629.8" fill="#d0c040" opacity="0.8"/>
<polygon points="1131.5,632.8 1135.3,632.8 1135.3,635.3 1131.5,635.2" fill="#d0c040" opacity="0.8"/>
<text x="1144.4" y="566.2" font-size="19" font-weight="bold" fill="#8ed245" text-anchor="start" opacity="1" textLength="14.0" lengthAdjust="spacingAndGlyphs">78</text>
<text x="1144.0" y="581.5" font-size="17.5" font-weight="bold" fill="#6acbef" text-anchor="start" opacity="1" textLength="13.0" lengthAdjust="spacingAndGlyphs">92</text>
<text x="1144.0" y="596.6" font-size="16.5" font-weight="bold" fill="#efd92f" text-anchor="start" opacity="1" textLength="12.0" lengthAdjust="spacingAndGlyphs">35</text>
<text x="1143.5" y="641.8" font-size="16.5" font-weight="bold" fill="#efd92f" text-anchor="start" opacity="1" textLength="11.6" lengthAdjust="spacingAndGlyphs">19</text>
<text x="1143.9" y="606.1" font-size="8.5" font-weight="normal" fill="#4a7ad8" text-anchor="start" opacity="1" textLength="7.0" lengthAdjust="spacingAndGlyphs">20</text>
<text x="1158.4" y="606.4" font-size="8.5" font-weight="normal" fill="#4a7ad8" text-anchor="start" opacity="1" textLength="7.0" lengthAdjust="spacingAndGlyphs">07</text>
<text x="1173.7" y="606.7" font-size="8.5" font-weight="normal" fill="#4a7ad8" text-anchor="start" opacity="1" textLength="7.0" lengthAdjust="spacingAndGlyphs">23</text>
<polygon points="1152.3,603.6 1156.9,603.7 1156.9,605.0 1152.3,604.9" fill="#9ab0e0" opacity="0.7"/>
<polygon points="1168.4,603.2 1169.9,603.2 1169.9,604.6 1168.4,604.5" fill="#9ab0e0" opacity="0.7"/>
<text x="1143.8" y="614.2" font-size="8.5" font-weight="normal" fill="#4a7ad8" text-anchor="start" opacity="1" textLength="7.0" lengthAdjust="spacingAndGlyphs">10</text>
<text x="1158.4" y="614.5" font-size="8.5" font-weight="normal" fill="#4a7ad8" text-anchor="start" opacity="1" textLength="7.0" lengthAdjust="spacingAndGlyphs">20</text>
<polygon points="1152.3,611.7 1156.9,611.8 1156.8,613.1 1152.3,613.0" fill="#9ab0e0" opacity="0.7"/>
<text x="1143.8" y="622.3" font-size="8.5" font-weight="normal" fill="#4a7ad8" text-anchor="start" opacity="1" textLength="7.0" lengthAdjust="spacingAndGlyphs">20</text>
<text x="1158.3" y="622.6" font-size="8.5" font-weight="normal" fill="#4a7ad8" text-anchor="start" opacity="1" textLength="7.0" lengthAdjust="spacingAndGlyphs">45</text>
<polygon points="1152.2,619.8 1156.8,619.9 1156.8,621.2 1152.2,621.1" fill="#9ab0e0" opacity="0.7"/>
<text x="1143.8" y="629.9" font-size="8" font-weight="normal" fill="#4a7ad8" text-anchor="start" opacity="1" textLength="3.5" lengthAdjust="spacingAndGlyphs">0</text>
<polygon points="1137.0,603.1 1140.9,603.1 1140.8,604.8 1137.0,604.7" fill="#7a9ad8" opacity="0.7"/>
<polygon points="1137.0,611.1 1140.8,611.2 1140.8,612.8 1137.0,612.7" fill="#7a9ad8" opacity="0.7"/>
<polygon points="1136.9,619.2 1140.8,619.3 1140.8,620.9 1136.9,620.8" fill="#7a9ad8" opacity="0.7"/>
<polygon points="1136.9,626.8 1140.7,626.9 1140.7,628.5 1136.9,628.4" fill="#7a9ad8" opacity="0.7"/>
<polygon points="1167.1,566.0 1179.3,566.1 1179.3,567.9 1167.1,567.8" fill="#3fa050" opacity="0.8"/>
<polygon points="1180.9,565.4 1182.4,565.5 1182.4,568.2 1180.8,568.2" fill="#aaa" opacity="0.7"/>
<polygon points="1167.0,573.4 1168.6,573.5 1168.5,577.5 1167.0,577.5" fill="#62c6ee" opacity="0.8"/>
<polygon points="1167.0,582.2 1176.9,582.3 1176.9,584.1 1167.0,584.0" fill="#4aa8c8" opacity="0.8"/>
<polygon points="1172.4,577.6 1177.0,577.6 1176.9,579.2 1172.4,579.2" fill="#4a8ab0" opacity="0.6"/>
<polygon points="1166.9,590.3 1169.2,590.4 1169.2,592.4 1166.9,592.4" fill="#d0c040" opacity="0.8"/>
<polygon points="1174.6,587.7 1176.1,587.7 1176.1,593.2 1174.6,593.1" fill="#d0c040" opacity="0.8"/>
<polygon points="1166.9,597.1 1173.0,597.2 1173.0,598.9 1166.9,598.8" fill="#d0c040" opacity="0.8"/>
<polygon points="1175.3,595.9 1179.1,595.9 1179.1,599.3 1175.3,599.2" fill="#d8c840" opacity="0.9"/>
<polygon points="1165.8,641.0 1176.5,641.2 1176.5,643.0 1165.8,642.7" fill="#b5a83a" opacity="0.9"/>
<text x="1042.6" y="646.1" font-size="9" font-weight="bold" fill="#f4f4f4" text-anchor="start" opacity="1" textLength="10.5" lengthAdjust="spacingAndGlyphs">327</text>
<text x="1042.5" y="654.4" font-size="9.5" font-weight="bold" fill="#e0202c" text-anchor="start" opacity="1" textLength="10.8" lengthAdjust="spacingAndGlyphs">372</text>
<polygon points="1031.4,644.2 1034.5,644.3 1034.5,646.9 1031.4,646.8" fill="#e02030" opacity="0.7"/>
<polygon points="1080.3,643.9 1087.9,644.1 1087.9,646.0 1080.3,645.8" fill="#d8d8d8" opacity="0.75"/>
<polygon points="1086.4,644.1 1094.8,644.3 1094.8,646.1 1086.4,645.9" fill="#d8d8d8" opacity="0.75"/>
<polygon points="1086.4,647.0 1094.8,647.2 1094.8,649.1 1086.4,648.8" fill="#d8d8d8" opacity="0.75"/>
<polygon points="1086.4,649.9 1094.8,650.1 1094.8,652.0 1086.4,651.8" fill="#d8d8d8" opacity="0.75"/>
<polygon points="1086.4,652.8 1094.8,653.1 1094.8,654.9 1086.4,654.7" fill="#d8d8d8" opacity="0.75"/>
<polygon points="1097.1,644.3 1102.4,644.5 1102.4,646.3 1097.1,646.2" fill="#d8d8d8" opacity="0.75"/>
<polygon points="1097.1,647.3 1102.4,647.4 1102.4,649.3 1097.1,649.1" fill="#d8d8d8" opacity="0.75"/>
<polygon points="1097.1,650.2 1102.4,650.3 1102.4,652.2 1097.1,652.1" fill="#d8d8d8" opacity="0.75"/>
<polygon points="1110.1,644.7 1113.1,644.8 1113.1,646.6 1110.1,646.5" fill="#d8d8d8" opacity="0.75"/>
<polygon points="1110.1,647.6 1113.1,647.7 1113.1,649.6 1110.1,649.5" fill="#d8d8d8" opacity="0.75"/>
<polygon points="1110.0,650.5 1113.1,650.6 1113.1,652.5 1110.0,652.4" fill="#d8d8d8" opacity="0.75"/>
<polygon points="1110.0,653.5 1113.1,653.6 1113.1,655.4 1110.0,655.3" fill="#d8d8d8" opacity="0.75"/>
<polygon points="1116.2,644.8 1123.1,645.0 1123.0,646.9 1116.2,646.7" fill="#d8d8d8" opacity="0.75"/>
<polygon points="1116.2,647.8 1123.0,648.0 1123.0,649.8 1116.2,649.6" fill="#d8d8d8" opacity="0.75"/>
<polygon points="1116.2,650.7 1123.0,650.9 1123.0,652.8 1116.1,652.6" fill="#d8d8d8" opacity="0.75"/>
<polygon points="1116.1,653.6 1123.0,653.8 1123.0,655.7 1116.1,655.5" fill="#d8d8d8" opacity="0.75"/>
<polygon points="1129.2,645.2 1133.7,645.3 1133.7,647.2 1129.2,647.0" fill="#d8d8d8" opacity="0.75"/>
<polygon points="1129.1,648.1 1133.7,648.2 1133.7,650.1 1129.1,650.0" fill="#d8d8d8" opacity="0.75"/>
<polygon points="1136.8,645.9 1179.6,647.0 1179.5,648.4 1136.8,647.2" fill="#9a9a9a" opacity="0.8"/>
<polygon points="1136.8,645.9 1146.0,646.1 1145.9,648.0 1136.8,647.8" fill="#dddddd" opacity="0.8"/>
<polygon points="1175.7,648.3 1182.6,648.4 1182.6,650.6 1175.7,650.4" fill="#cfcfcf" opacity="0.8"/>
<polygon points="1143.6,651.2 1144.7,651.2 1144.7,660.1 1143.6,660.1" fill="#8a8a8a" opacity="0.55"/>
<polygon points="1146.4,651.6 1147.5,651.6 1147.4,660.5 1146.3,660.4" fill="#8a8a8a" opacity="0.55"/>
<polygon points="1149.1,652.3 1150.2,652.4 1150.2,658.4 1149.1,658.3" fill="#8a8a8a" opacity="0.55"/>
<polygon points="1151.9,650.8 1153.0,650.8 1152.9,661.6 1151.8,661.5" fill="#8a8a8a" opacity="0.55"/>
<polygon points="1154.6,651.5 1155.7,651.5 1155.7,659.2 1154.6,659.2" fill="#8a8a8a" opacity="0.55"/>
<polygon points="1157.4,653.6 1158.4,653.6 1158.4,660.2 1157.3,660.2" fill="#8a8a8a" opacity="0.55"/>
<polygon points="1160.1,653.2 1161.2,653.2 1161.1,660.3 1160.1,660.3" fill="#8a8a8a" opacity="0.55"/>
<polygon points="1162.9,652.8 1163.9,652.8 1163.9,659.1 1162.8,659.1" fill="#8a8a8a" opacity="0.55"/>
<polygon points="1165.6,652.8 1166.7,652.9 1166.6,662.1 1165.6,662.1" fill="#8a8a8a" opacity="0.55"/>
<polygon points="1169.6,653.9 1172.6,654.0 1172.6,656.7 1169.6,656.6" fill="#d02838" opacity="0.9"/>
<polygon points="1169.5,659.3 1172.6,659.4 1172.6,662.1 1169.5,662.0" fill="#d02838" opacity="0.9"/>
<polygon points="1029.9,656.4 1182.5,660.8 1182.5,668.5 1029.8,663.8" fill="#2e2e30" />
<polygon points="1031.7,656.8 1045.1,657.2 1045.1,664.0 1031.7,663.6" fill="#3a3a3d" opacity="0.9"/>
<polygon points="1036.9,657.9 1040.2,658.0 1040.2,660.6 1036.9,660.5" fill="#c8c8c8" opacity="0.8"/>
<polygon points="1033.5,661.9 1043.6,662.2 1043.6,663.6 1033.5,663.3" fill="#8a8a8a" opacity="0.7"/>
<polygon points="1046.7,657.2 1060.2,657.6 1060.1,664.5 1046.7,664.1" fill="#3a3a3d" opacity="0.9"/>
<circle cx="1053.4" cy="659.6" r="2.3" fill="#e8d020"/>
<polygon points="1049.0,662.2 1058.2,662.5 1058.2,664.2 1049.0,663.9" fill="#d8c020" opacity="0.8"/>
<polygon points="1061.8,657.7 1075.2,658.1 1075.2,665.0 1061.7,664.6" fill="#3a3a3d" opacity="0.9"/>
<polygon points="1066.3,658.6 1070.6,658.7 1070.6,661.4 1066.3,661.3" fill="#7a8a6a" opacity="0.8"/>
<polygon points="1062.5,662.3 1074.7,662.7 1074.7,664.8 1062.5,664.4" fill="#c02030" opacity="0.9"/>
<polygon points="1076.8,658.1 1090.2,658.5 1090.2,665.4 1076.8,665.0" fill="#3a3a3d" opacity="0.9"/>
<polygon points="1082.0,659.2 1085.3,659.3 1085.3,662.0 1082.0,661.9" fill="#c8c8c8" opacity="0.8"/>
<polygon points="1078.6,663.2 1088.7,663.5 1088.7,665.0 1078.6,664.7" fill="#8a8a8a" opacity="0.7"/>
<polygon points="1091.8,658.6 1105.3,658.9 1105.2,665.9 1091.8,665.5" fill="#3a3a3d" opacity="0.9"/>
<polygon points="1097.0,659.6 1100.4,659.7 1100.4,662.4 1097.0,662.3" fill="#c8c8c8" opacity="0.8"/>
<polygon points="1093.6,663.7 1103.7,664.0 1103.7,665.4 1093.6,665.1" fill="#8a8a8a" opacity="0.7"/>
<polygon points="1106.9,659.0 1120.3,659.4 1120.3,666.3 1106.8,665.9" fill="#3a3a3d" opacity="0.9"/>
<polygon points="1112.1,660.1 1115.4,660.2 1115.4,662.8 1112.0,662.7" fill="#c8c8c8" opacity="0.8"/>
<polygon points="1108.7,664.1 1118.8,664.4 1118.7,665.9 1108.7,665.6" fill="#8a8a8a" opacity="0.7"/>
<polygon points="1121.9,659.4 1135.3,659.8 1135.3,666.8 1121.9,666.4" fill="#3a3a3d" opacity="0.9"/>
<polygon points="1127.1,660.5 1130.5,660.6 1130.4,663.3 1127.1,663.2" fill="#c8c8c8" opacity="0.8"/>
<polygon points="1123.7,664.6 1133.8,664.9 1133.8,666.3 1123.7,666.0" fill="#8a8a8a" opacity="0.7"/>
<polygon points="1136.9,659.9 1150.4,660.3 1150.3,667.3 1136.9,666.8" fill="#3a3a3d" opacity="0.9"/>
<polygon points="1142.1,661.0 1145.5,661.1 1145.5,663.7 1142.1,663.6" fill="#c8c8c8" opacity="0.8"/>
<polygon points="1138.7,665.0 1148.8,665.3 1148.8,666.8 1138.7,666.5" fill="#8a8a8a" opacity="0.7"/>
<polygon points="1152.0,660.3 1165.4,660.7 1165.4,667.7 1151.9,667.3" fill="#3a3a3d" opacity="0.9"/>
<polygon points="1157.2,661.4 1160.5,661.5 1160.5,664.2 1157.1,664.1" fill="#c8c8c8" opacity="0.8"/>
<polygon points="1153.8,665.5 1163.9,665.8 1163.8,667.3 1153.8,667.0" fill="#8a8a8a" opacity="0.7"/>
<polygon points="1167.0,660.7 1180.4,661.1 1180.4,668.2 1167.0,667.8" fill="#3a3a3d" opacity="0.9"/>
<polygon points="1172.2,661.8 1175.6,661.9 1175.5,664.6 1172.2,664.5" fill="#c8c8c8" opacity="0.8"/>
<polygon points="1168.8,665.9 1178.9,666.2 1178.9,667.7 1168.8,667.4" fill="#8a8a8a" opacity="0.7"/>
<polygon points="932.2,661.1 1183.2,668.8 1183.2,670.6 932.2,662.8" fill="#5a5a5a" opacity="0.85"/>
</g>
<rect x="1122" y="676.2" width="3.4" height="0.9" fill="#55606a" opacity="0.8"/>
<rect x="1133" y="676.5" width="3.4" height="0.9" fill="#55606a" opacity="0.8"/>
<rect x="1142" y="676.8" width="3.4" height="0.9" fill="#55606a" opacity="0.8"/>
<rect x="1151" y="677.1" width="3.4" height="0.9" fill="#55606a" opacity="0.8"/>
<rect x="1160" y="677.4" width="3.4" height="0.9" fill="#55606a" opacity="0.8"/>
<rect x="1168" y="677.7" width="3.4" height="0.9" fill="#55606a" opacity="0.8"/>
</g>
</svg></body></html>
